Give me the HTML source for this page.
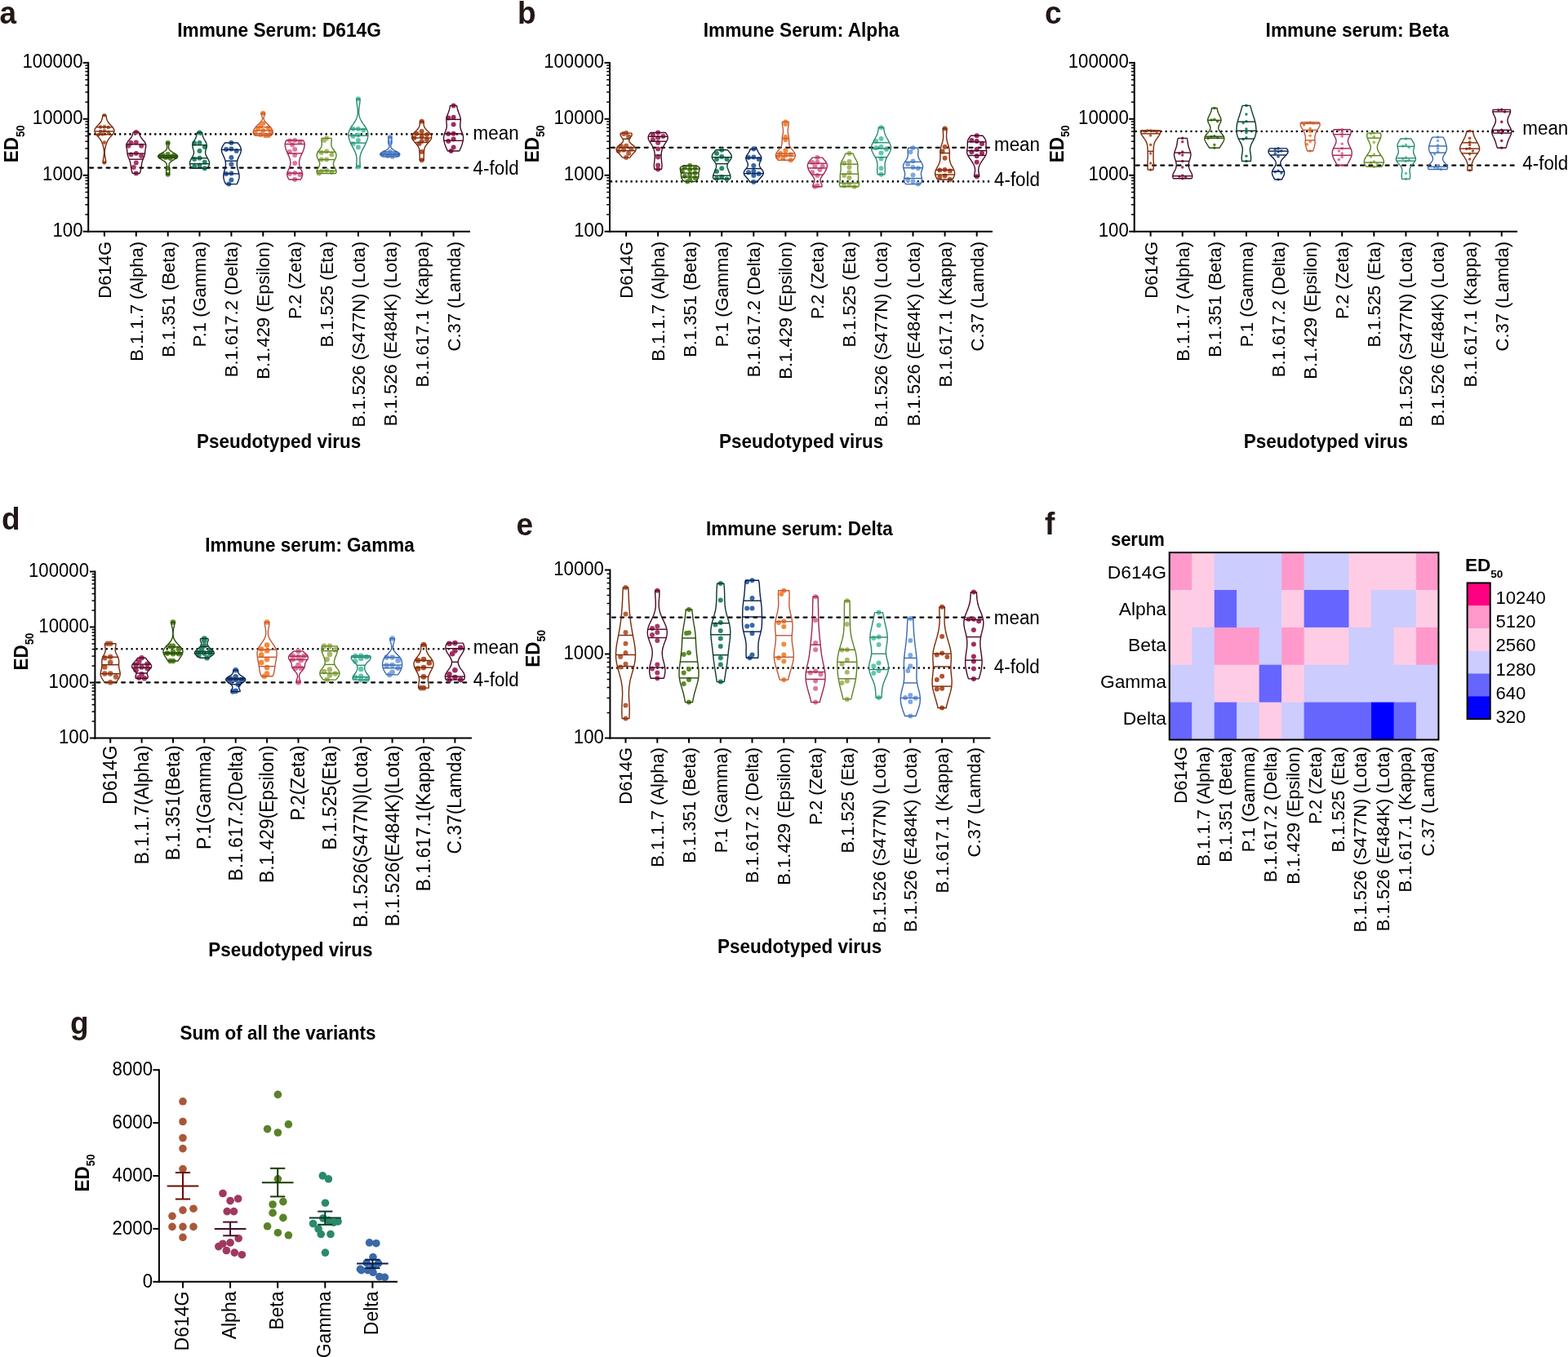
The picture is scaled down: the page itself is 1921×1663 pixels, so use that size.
<!DOCTYPE html>
<html><head><meta charset="utf-8"><title>Figure</title>
<style>html,body{margin:0;padding:0;background:#fff;}svg{display:block;filter:blur(0.35px);}
text{font-family:"Liberation Sans", Arial, Helvetica, sans-serif;}</style></head>
<body><svg width="1921" height="1663" viewBox="0 0 1921 1663">
<rect width="1921" height="1663" fill="#fff"/>
<text transform="translate(-0.5 29) scale(1 1.05)" font-size="37" font-weight="bold" fill="#231815">a</text>
<text transform="translate(342 44.6) scale(1 1.07)" font-size="22.7" font-weight="bold" text-anchor="middle">Immune Serum: D614G</text>
<line x1="108.2" y1="75.9" x2="108.2" y2="284.7" stroke="#000" stroke-width="2"/>
<line x1="107.2" y1="283.7" x2="576" y2="283.7" stroke="#000" stroke-width="2"/>
<line x1="101.7" y1="283.7" x2="108.2" y2="283.7" stroke="#000" stroke-width="2"/>
<text transform="translate(101.5 290.2) scale(1 1.05)" font-size="22.2" text-anchor="end">100</text>
<line x1="104.4" y1="262.9" x2="108.2" y2="262.9" stroke="#000" stroke-width="1.5"/>
<line x1="104.4" y1="250.8" x2="108.2" y2="250.8" stroke="#000" stroke-width="1.5"/>
<line x1="104.4" y1="242.2" x2="108.2" y2="242.2" stroke="#000" stroke-width="1.5"/>
<line x1="104.4" y1="235.5" x2="108.2" y2="235.5" stroke="#000" stroke-width="1.5"/>
<line x1="104.4" y1="230.1" x2="108.2" y2="230.1" stroke="#000" stroke-width="1.5"/>
<line x1="104.4" y1="225.4" x2="108.2" y2="225.4" stroke="#000" stroke-width="1.5"/>
<line x1="104.4" y1="221.4" x2="108.2" y2="221.4" stroke="#000" stroke-width="1.5"/>
<line x1="104.4" y1="217.9" x2="108.2" y2="217.9" stroke="#000" stroke-width="1.5"/>
<line x1="101.7" y1="214.8" x2="108.2" y2="214.8" stroke="#000" stroke-width="2"/>
<text transform="translate(101.5 221.3) scale(1 1.05)" font-size="22.2" text-anchor="end">1000</text>
<line x1="104.4" y1="194" x2="108.2" y2="194" stroke="#000" stroke-width="1.5"/>
<line x1="104.4" y1="181.9" x2="108.2" y2="181.9" stroke="#000" stroke-width="1.5"/>
<line x1="104.4" y1="173.3" x2="108.2" y2="173.3" stroke="#000" stroke-width="1.5"/>
<line x1="104.4" y1="166.6" x2="108.2" y2="166.6" stroke="#000" stroke-width="1.5"/>
<line x1="104.4" y1="161.1" x2="108.2" y2="161.1" stroke="#000" stroke-width="1.5"/>
<line x1="104.4" y1="156.5" x2="108.2" y2="156.5" stroke="#000" stroke-width="1.5"/>
<line x1="104.4" y1="152.5" x2="108.2" y2="152.5" stroke="#000" stroke-width="1.5"/>
<line x1="104.4" y1="149" x2="108.2" y2="149" stroke="#000" stroke-width="1.5"/>
<line x1="101.7" y1="145.8" x2="108.2" y2="145.8" stroke="#000" stroke-width="2"/>
<text transform="translate(101.5 152.3) scale(1 1.05)" font-size="22.2" text-anchor="end">10000</text>
<line x1="104.4" y1="125.1" x2="108.2" y2="125.1" stroke="#000" stroke-width="1.5"/>
<line x1="104.4" y1="112.9" x2="108.2" y2="112.9" stroke="#000" stroke-width="1.5"/>
<line x1="104.4" y1="104.3" x2="108.2" y2="104.3" stroke="#000" stroke-width="1.5"/>
<line x1="104.4" y1="97.7" x2="108.2" y2="97.7" stroke="#000" stroke-width="1.5"/>
<line x1="104.4" y1="92.2" x2="108.2" y2="92.2" stroke="#000" stroke-width="1.5"/>
<line x1="104.4" y1="87.6" x2="108.2" y2="87.6" stroke="#000" stroke-width="1.5"/>
<line x1="104.4" y1="83.6" x2="108.2" y2="83.6" stroke="#000" stroke-width="1.5"/>
<line x1="104.4" y1="80.1" x2="108.2" y2="80.1" stroke="#000" stroke-width="1.5"/>
<line x1="101.7" y1="76.9" x2="108.2" y2="76.9" stroke="#000" stroke-width="2"/>
<text transform="translate(101.5 83.4) scale(1 1.05)" font-size="22.2" text-anchor="end">100000</text>
<line x1="127.9" y1="283.7" x2="127.9" y2="289.7" stroke="#000" stroke-width="2"/>
<line x1="166.8" y1="283.7" x2="166.8" y2="289.7" stroke="#000" stroke-width="2"/>
<line x1="205.7" y1="283.7" x2="205.7" y2="289.7" stroke="#000" stroke-width="2"/>
<line x1="244.5" y1="283.7" x2="244.5" y2="289.7" stroke="#000" stroke-width="2"/>
<line x1="283.4" y1="283.7" x2="283.4" y2="289.7" stroke="#000" stroke-width="2"/>
<line x1="322.3" y1="283.7" x2="322.3" y2="289.7" stroke="#000" stroke-width="2"/>
<line x1="361.2" y1="283.7" x2="361.2" y2="289.7" stroke="#000" stroke-width="2"/>
<line x1="400.1" y1="283.7" x2="400.1" y2="289.7" stroke="#000" stroke-width="2"/>
<line x1="438.9" y1="283.7" x2="438.9" y2="289.7" stroke="#000" stroke-width="2"/>
<line x1="477.8" y1="283.7" x2="477.8" y2="289.7" stroke="#000" stroke-width="2"/>
<line x1="516.7" y1="283.7" x2="516.7" y2="289.7" stroke="#000" stroke-width="2"/>
<line x1="555.6" y1="283.7" x2="555.6" y2="289.7" stroke="#000" stroke-width="2"/>
<text transform="translate(135.8 296) rotate(-90) scale(1 1.04)" font-size="22" text-anchor="end">D614G</text>
<text transform="translate(174.7 296) rotate(-90) scale(1 1.04)" font-size="22" text-anchor="end">B.1.1.7 (Alpha)</text>
<text transform="translate(213.6 296) rotate(-90) scale(1 1.04)" font-size="22" text-anchor="end">B.1.351 (Beta)</text>
<text transform="translate(252.4 296) rotate(-90) scale(1 1.04)" font-size="22" text-anchor="end">P.1 (Gamma)</text>
<text transform="translate(291.3 296) rotate(-90) scale(1 1.04)" font-size="22" text-anchor="end">B.1.617.2 (Delta)</text>
<text transform="translate(330.2 296) rotate(-90) scale(1 1.04)" font-size="22" text-anchor="end">B.1.429 (Epsilon)</text>
<text transform="translate(369.1 296) rotate(-90) scale(1 1.04)" font-size="22" text-anchor="end">P.2 (Zeta)</text>
<text transform="translate(408 296) rotate(-90) scale(1 1.04)" font-size="22" text-anchor="end">B.1.525 (Eta)</text>
<text transform="translate(446.8 296) rotate(-90) scale(1 1.04)" font-size="22" text-anchor="end">B.1.526 (S477N) (Lota)</text>
<text transform="translate(485.7 296) rotate(-90) scale(1 1.04)" font-size="22" text-anchor="end">B.1.526 (E484K) (Lota)</text>
<text transform="translate(524.6 296) rotate(-90) scale(1 1.04)" font-size="22" text-anchor="end">B.1.617.1 (Kappa)</text>
<text transform="translate(563.5 296) rotate(-90) scale(1 1.04)" font-size="22" text-anchor="end">C.37 (Lamda)</text>
<text transform="translate(22.3 199.3) rotate(-90) scale(1 1.05)" font-size="22.5" font-weight="bold">ED<tspan font-size="13.2" dy="6.9">50</tspan></text>
<line x1="110.2" y1="164.4" x2="574" y2="164.4" stroke="#000" stroke-width="2.6" stroke-dasharray="0.01 6.15" stroke-linecap="round"/>
<line x1="110.2" y1="205.6" x2="574" y2="205.6" stroke="#000" stroke-width="2.3" stroke-dasharray="3.9 6.3" stroke-linecap="round"/>
<text transform="translate(579.6 171) scale(1 1.03)" font-size="22.4">mean</text>
<text transform="translate(579.6 213.6) scale(1 1.03)" font-size="22.4">4-fold</text>
<text transform="translate(341.6 548.8) scale(1 1.07)" font-size="22.5" font-weight="bold" text-anchor="middle">Pseudotyped virus</text>
<circle cx="127.9" cy="141.3" r="2.3" fill="#b8603c"/>
<circle cx="127.9" cy="155.4" r="2.3" fill="#b8603c"/>
<circle cx="123.1" cy="155.6" r="2.3" fill="#b8603c"/>
<circle cx="132.7" cy="156" r="2.3" fill="#b8603c"/>
<circle cx="127.9" cy="160.5" r="2.3" fill="#b8603c"/>
<circle cx="123.1" cy="161" r="2.3" fill="#b8603c"/>
<circle cx="132.7" cy="162" r="2.3" fill="#b8603c"/>
<circle cx="125.6" cy="164.5" r="2.3" fill="#b8603c"/>
<circle cx="120.8" cy="165" r="2.3" fill="#b8603c"/>
<circle cx="127.9" cy="174.6" r="2.3" fill="#b8603c"/>
<circle cx="127.9" cy="199.4" r="2.3" fill="#b8603c"/>
<polygon points="130,141.3 130.1,142.3 130.2,143.2 130.3,144.2 130.5,145.2 130.7,146.1 131.1,147.1 131.5,148.1 132.1,149 132.8,150 133.5,151 134.4,152 135.3,152.9 136.3,153.9 137.2,154.9 138,155.8 138.7,156.8 139.3,157.8 139.7,158.7 139.9,159.7 139.9,160.7 139.7,161.6 139.3,162.6 138.8,163.6 138.1,164.5 137.3,165.5 136.5,166.5 135.6,167.4 134.8,168.4 134,169.4 133.2,170.4 132.6,171.3 132,172.3 131.5,173.3 131.1,174.2 130.7,175.2 130.3,176.2 130,177.1 129.7,178.1 129.4,179.1 129.2,180 129,181 128.8,182 128.6,182.9 128.4,183.9 128.3,184.9 128.3,185.8 128.2,186.8 128.3,187.8 128.3,188.7 128.4,189.7 128.5,190.7 128.6,191.7 128.8,192.6 129,193.6 129.2,194.6 129.3,195.5 129.5,196.5 129.6,197.5 129.7,198.4 129.7,199.4 126.1,199.4 126.1,198.4 126.2,197.5 126.3,196.5 126.5,195.5 126.6,194.6 126.8,193.6 127,192.6 127.2,191.7 127.3,190.7 127.4,189.7 127.5,188.7 127.5,187.8 127.6,186.8 127.5,185.8 127.5,184.9 127.4,183.9 127.2,182.9 127,182 126.8,181 126.6,180 126.4,179.1 126.1,178.1 125.8,177.1 125.5,176.2 125.1,175.2 124.7,174.2 124.3,173.3 123.8,172.3 123.2,171.3 122.6,170.4 121.8,169.4 121,168.4 120.2,167.4 119.3,166.5 118.5,165.5 117.7,164.5 117,163.6 116.5,162.6 116.1,161.6 115.9,160.7 115.9,159.7 116.1,158.7 116.5,157.8 117.1,156.8 117.8,155.8 118.6,154.9 119.5,153.9 120.5,152.9 121.4,152 122.3,151 123,150 123.7,149 124.3,148.1 124.7,147.1 125.1,146.1 125.3,145.2 125.5,144.2 125.6,143.2 125.7,142.3 125.8,141.3" fill="none" stroke="#7a2a0a" stroke-width="1.4" stroke-linejoin="round"/>
<line x1="117.8" y1="155.8" x2="138" y2="155.8" stroke="#7a2a0a" stroke-width="1.4"/>
<line x1="116" y1="161" x2="139.8" y2="161" stroke="#7a2a0a" stroke-width="1.4"/>
<line x1="117.9" y1="164.8" x2="137.9" y2="164.8" stroke="#7a2a0a" stroke-width="1.4"/>
<circle cx="166.8" cy="161.9" r="3.0" fill="#a83868"/>
<circle cx="166.8" cy="174.4" r="3.0" fill="#a83868"/>
<circle cx="160.5" cy="175" r="3.0" fill="#a83868"/>
<circle cx="173.1" cy="178.8" r="3.0" fill="#a83868"/>
<circle cx="157.5" cy="178.8" r="3.0" fill="#a83868"/>
<circle cx="166.8" cy="188.1" r="3.0" fill="#a83868"/>
<circle cx="160.5" cy="189.4" r="3.0" fill="#a83868"/>
<circle cx="173.1" cy="191" r="3.0" fill="#a83868"/>
<circle cx="166.8" cy="199.4" r="3.0" fill="#a83868"/>
<circle cx="163.8" cy="205" r="3.0" fill="#a83868"/>
<circle cx="166.8" cy="212.5" r="3.0" fill="#a83868"/>
<polygon points="170.3,161.9 170.5,162.7 170.7,163.6 170.9,164.4 171.2,165.3 171.5,166.1 171.9,167 172.4,167.8 172.9,168.6 173.6,169.5 174.2,170.3 174.9,171.2 175.7,172 176.4,172.9 177,173.7 177.6,174.6 178.1,175.4 178.4,176.2 178.6,177.1 178.8,177.9 178.8,178.8 178.7,179.6 178.6,180.5 178.4,181.3 178.2,182.1 178.1,183 178,183.8 177.8,184.7 177.8,185.5 177.7,186.4 177.6,187.2 177.6,188 177.4,188.9 177.3,189.7 177.1,190.6 176.8,191.4 176.5,192.3 176.1,193.1 175.8,193.9 175.4,194.8 175.1,195.6 174.7,196.5 174.4,197.3 174.2,198.2 174,199 173.8,199.8 173.6,200.7 173.5,201.5 173.4,202.4 173.3,203.2 173.2,204.1 173,204.9 172.9,205.8 172.8,206.6 172.6,207.4 172.4,208.3 172.2,209.1 172,210 171.7,210.8 171.5,211.7 171.2,212.5 162.4,212.5 162.1,211.7 161.8,210.8 161.6,210 161.3,209.1 161.1,208.3 161,207.4 160.8,206.6 160.6,205.8 160.5,204.9 160.4,204.1 160.3,203.2 160.2,202.4 160.1,201.5 159.9,200.7 159.8,199.8 159.6,199 159.4,198.2 159.1,197.3 158.8,196.5 158.5,195.6 158.1,194.8 157.8,193.9 157.4,193.1 157.1,192.3 156.8,191.4 156.5,190.6 156.3,189.7 156.1,188.9 156,188 155.9,187.2 155.9,186.4 155.8,185.5 155.7,184.7 155.6,183.8 155.5,183 155.3,182.1 155.1,181.3 155,180.5 154.9,179.6 154.8,178.8 154.8,177.9 154.9,177.1 155.1,176.2 155.5,175.4 156,174.6 156.5,173.7 157.2,172.9 157.9,172 158.6,171.2 159.3,170.3 160,169.5 160.6,168.6 161.2,167.8 161.6,167 162,166.1 162.4,165.3 162.6,164.4 162.9,163.6 163.1,162.7 163.3,161.9" fill="none" stroke="#4a0a28" stroke-width="1.4" stroke-linejoin="round"/>
<line x1="155" y1="176.9" x2="178.6" y2="176.9" stroke="#4a0a28" stroke-width="1.4"/>
<line x1="156" y1="188.1" x2="177.5" y2="188.1" stroke="#4a0a28" stroke-width="1.4"/>
<line x1="158.3" y1="195.2" x2="175.2" y2="195.2" stroke="#4a0a28" stroke-width="1.4"/>
<circle cx="205.7" cy="175" r="3.0" fill="#5a8a28"/>
<circle cx="205.7" cy="189" r="3.0" fill="#5a8a28"/>
<circle cx="199.4" cy="190" r="3.0" fill="#5a8a28"/>
<circle cx="212" cy="191" r="3.0" fill="#5a8a28"/>
<circle cx="196.4" cy="191.5" r="3.0" fill="#5a8a28"/>
<circle cx="215" cy="192" r="3.0" fill="#5a8a28"/>
<circle cx="205.7" cy="192.5" r="3.0" fill="#5a8a28"/>
<circle cx="202.7" cy="193" r="3.0" fill="#5a8a28"/>
<circle cx="208.7" cy="194" r="3.0" fill="#5a8a28"/>
<circle cx="205.7" cy="206.3" r="3.0" fill="#5a8a28"/>
<circle cx="205.7" cy="213.8" r="3.0" fill="#5a8a28"/>
<polygon points="207.3,175 207.3,175.6 207.2,176.3 207.1,176.9 207,177.6 206.9,178.2 206.7,178.9 206.6,179.5 206.6,180.2 206.6,180.8 206.7,181.5 206.8,182.1 207.1,182.8 207.5,183.4 208.1,184.1 208.7,184.7 209.6,185.3 210.5,186 211.5,186.6 212.6,187.3 213.7,187.9 214.8,188.6 215.8,189.2 216.6,189.9 217.2,190.5 217.6,191.2 217.7,191.8 217.4,192.5 217,193.1 216.2,193.8 215.3,194.4 214.3,195 213.2,195.7 212.1,196.3 211,197 210,197.6 209.2,198.3 208.5,198.9 207.9,199.6 207.5,200.2 207.3,200.9 207.1,201.5 207.1,202.2 207.1,202.8 207.1,203.5 207.2,204.1 207.3,204.7 207.4,205.4 207.5,206 207.6,206.7 207.6,207.3 207.7,208 207.7,208.6 207.7,209.3 207.7,209.9 207.7,210.6 207.7,211.2 207.7,211.9 207.6,212.5 207.6,213.2 207.5,213.8 203.8,213.8 203.7,213.2 203.7,212.5 203.7,211.9 203.6,211.2 203.6,210.6 203.6,209.9 203.6,209.3 203.6,208.6 203.7,208 203.7,207.3 203.7,206.7 203.8,206 203.9,205.4 204,204.7 204.1,204.1 204.2,203.5 204.2,202.8 204.3,202.2 204.2,201.5 204,200.9 203.8,200.2 203.4,199.6 202.8,198.9 202.1,198.3 201.3,197.6 200.3,197 199.2,196.3 198.1,195.7 197,195 196,194.4 195.1,193.8 194.4,193.1 193.9,192.5 193.7,191.8 193.7,191.2 194.1,190.5 194.7,189.9 195.5,189.2 196.5,188.6 197.6,187.9 198.7,187.3 199.8,186.6 200.8,186 201.8,185.3 202.6,184.7 203.3,184.1 203.8,183.4 204.2,182.8 204.5,182.1 204.6,181.5 204.7,180.8 204.7,180.2 204.7,179.5 204.6,178.9 204.5,178.2 204.3,177.6 204.2,176.9 204.1,176.3 204.1,175.6 204,175" fill="none" stroke="#2a4a0a" stroke-width="1.4" stroke-linejoin="round"/>
<line x1="194.1" y1="190.5" x2="217.2" y2="190.5" stroke="#2a4a0a" stroke-width="1.4"/>
<line x1="193.7" y1="192" x2="217.6" y2="192" stroke="#2a4a0a" stroke-width="1.4"/>
<line x1="194.8" y1="193.5" x2="216.5" y2="193.5" stroke="#2a4a0a" stroke-width="1.4"/>
<circle cx="244.5" cy="162.5" r="3.0" fill="#2a8a68"/>
<circle cx="244.5" cy="175" r="3.0" fill="#2a8a68"/>
<circle cx="238.2" cy="175.6" r="3.0" fill="#2a8a68"/>
<circle cx="250.8" cy="180" r="3.0" fill="#2a8a68"/>
<circle cx="244.5" cy="185" r="3.0" fill="#2a8a68"/>
<circle cx="244.5" cy="193.8" r="3.0" fill="#2a8a68"/>
<circle cx="238.2" cy="195" r="3.0" fill="#2a8a68"/>
<circle cx="250.8" cy="198.8" r="3.0" fill="#2a8a68"/>
<circle cx="244.5" cy="202.5" r="3.0" fill="#2a8a68"/>
<circle cx="238.2" cy="204" r="3.0" fill="#2a8a68"/>
<circle cx="250.8" cy="206.3" r="3.0" fill="#2a8a68"/>
<polygon points="247.7,162.5 247.8,163.2 247.9,164 248,164.7 248.2,165.4 248.3,166.2 248.5,166.9 248.7,167.6 249,168.3 249.3,169.1 249.6,169.8 250,170.5 250.5,171.3 250.9,172 251.3,172.7 251.8,173.5 252.2,174.2 252.5,174.9 252.8,175.6 253,176.4 253.2,177.1 253.3,177.8 253.3,178.6 253.2,179.3 253.1,180 252.9,180.8 252.8,181.5 252.5,182.2 252.3,182.9 252.1,183.7 251.9,184.4 251.8,185.1 251.7,185.9 251.6,186.6 251.6,187.3 251.7,188.1 251.9,188.8 252.1,189.5 252.3,190.2 252.7,191 253,191.7 253.4,192.4 253.8,193.2 254.3,193.9 254.7,194.6 255.1,195.4 255.5,196.1 255.8,196.8 256.1,197.5 256.3,198.3 256.4,199 256.5,199.7 256.5,200.5 256.5,201.2 256.3,201.9 256.1,202.7 255.7,203.4 255.3,204.1 254.8,204.8 254.2,205.6 253.6,206.3 235.5,206.3 234.9,205.6 234.3,204.8 233.8,204.1 233.3,203.4 233,202.7 232.8,201.9 232.6,201.2 232.5,200.5 232.6,199.7 232.6,199 232.8,198.3 233,197.5 233.3,196.8 233.6,196.1 234,195.4 234.4,194.6 234.8,193.9 235.2,193.2 235.7,192.4 236,191.7 236.4,191 236.7,190.2 237,189.5 237.2,188.8 237.4,188.1 237.5,187.3 237.5,186.6 237.4,185.9 237.3,185.1 237.2,184.4 237,183.7 236.8,182.9 236.5,182.2 236.3,181.5 236.1,180.8 236,180 235.9,179.3 235.8,178.6 235.8,177.8 235.9,177.1 236.1,176.4 236.3,175.6 236.6,174.9 236.9,174.2 237.3,173.5 237.7,172.7 238.2,172 238.6,171.3 239,170.5 239.4,169.8 239.8,169.1 240.1,168.3 240.4,167.6 240.6,166.9 240.8,166.2 240.9,165.4 241.1,164.7 241.2,164 241.3,163.2 241.4,162.5" fill="none" stroke="#0a3a28" stroke-width="1.4" stroke-linejoin="round"/>
<line x1="235.8" y1="177.8" x2="253.3" y2="177.8" stroke="#0a3a28" stroke-width="1.4"/>
<line x1="234.9" y1="193.8" x2="254.2" y2="193.8" stroke="#0a3a28" stroke-width="1.4"/>
<line x1="232.6" y1="200.7" x2="256.5" y2="200.7" stroke="#0a3a28" stroke-width="1.4"/>
<circle cx="283.4" cy="175" r="3.0" fill="#3a68a8"/>
<circle cx="283.4" cy="182.5" r="3.0" fill="#3a68a8"/>
<circle cx="277.1" cy="183" r="3.0" fill="#3a68a8"/>
<circle cx="289.7" cy="185" r="3.0" fill="#3a68a8"/>
<circle cx="283.4" cy="193" r="3.0" fill="#3a68a8"/>
<circle cx="283.4" cy="201.3" r="3.0" fill="#3a68a8"/>
<circle cx="283.4" cy="212.5" r="3.0" fill="#3a68a8"/>
<circle cx="277.1" cy="213" r="3.0" fill="#3a68a8"/>
<circle cx="283.4" cy="220.6" r="3.0" fill="#3a68a8"/>
<circle cx="280.4" cy="225.6" r="3.0" fill="#3a68a8"/>
<polygon points="291.2,175 291.8,175.8 292.5,176.7 293.1,177.5 293.6,178.4 294.1,179.2 294.6,180.1 294.9,180.9 295.2,181.7 295.3,182.6 295.4,183.4 295.4,184.3 295.3,185.1 295.1,186 294.9,186.8 294.6,187.7 294.3,188.5 293.9,189.3 293.5,190.2 293.1,191 292.7,191.9 292.3,192.7 292,193.6 291.6,194.4 291.3,195.2 291.1,196.1 290.8,196.9 290.6,197.8 290.5,198.6 290.4,199.5 290.3,200.3 290.3,201.1 290.3,202 290.4,202.8 290.5,203.7 290.6,204.5 290.8,205.4 291,206.2 291.2,207 291.5,207.9 291.7,208.7 292,209.6 292.2,210.4 292.4,211.3 292.6,212.1 292.8,212.9 292.9,213.8 293,214.6 293.1,215.5 293.1,216.3 293,217.2 292.9,218 292.8,218.9 292.6,219.7 292.3,220.5 292.1,221.4 291.7,222.2 291.4,223.1 291,223.9 290.6,224.8 290.1,225.6 276.7,225.6 276.3,224.8 275.8,223.9 275.5,223.1 275.1,222.2 274.8,221.4 274.5,220.5 274.3,219.7 274.1,218.9 273.9,218 273.8,217.2 273.8,216.3 273.8,215.5 273.8,214.6 273.9,213.8 274,212.9 274.2,212.1 274.4,211.3 274.6,210.4 274.9,209.6 275.1,208.7 275.4,207.9 275.6,207 275.8,206.2 276,205.4 276.2,204.5 276.3,203.7 276.4,202.8 276.5,202 276.5,201.1 276.5,200.3 276.4,199.5 276.3,198.6 276.2,197.8 276,196.9 275.8,196.1 275.5,195.2 275.2,194.4 274.9,193.6 274.5,192.7 274.1,191.9 273.8,191 273.3,190.2 273,189.3 272.6,188.5 272.2,187.7 271.9,186.8 271.7,186 271.5,185.1 271.4,184.3 271.4,183.4 271.5,182.6 271.7,181.7 271.9,180.9 272.3,180.1 272.7,179.2 273.2,178.4 273.8,177.5 274.4,176.7 275,175.8 275.6,175" fill="none" stroke="#0a2050" stroke-width="1.4" stroke-linejoin="round"/>
<line x1="271.4" y1="183.5" x2="295.4" y2="183.5" stroke="#0a2050" stroke-width="1.4"/>
<line x1="276.1" y1="197.2" x2="290.8" y2="197.2" stroke="#0a2050" stroke-width="1.4"/>
<line x1="274.1" y1="212.9" x2="292.8" y2="212.9" stroke="#0a2050" stroke-width="1.4"/>
<circle cx="322.3" cy="138.8" r="3.0" fill="#f88838"/>
<circle cx="322.3" cy="151.3" r="3.0" fill="#f88838"/>
<circle cx="319.3" cy="154.4" r="3.0" fill="#f88838"/>
<circle cx="328.6" cy="156.9" r="3.0" fill="#f88838"/>
<circle cx="316" cy="158" r="3.0" fill="#f88838"/>
<circle cx="322.3" cy="160" r="3.0" fill="#f88838"/>
<circle cx="331.6" cy="161.3" r="3.0" fill="#f88838"/>
<circle cx="313" cy="163" r="3.0" fill="#f88838"/>
<circle cx="319.3" cy="165" r="3.0" fill="#f88838"/>
<circle cx="328.6" cy="166.3" r="3.0" fill="#f88838"/>
<circle cx="325.3" cy="166.3" r="3.0" fill="#f88838"/>
<polygon points="324.7,138.8 324.7,139.3 324.6,139.7 324.5,140.2 324.3,140.6 324.2,141.1 324,141.6 323.8,142 323.6,142.5 323.4,142.9 323.3,143.4 323.2,143.8 323.1,144.3 323,144.8 323,145.2 323.1,145.7 323.2,146.1 323.4,146.6 323.6,147.1 323.8,147.5 324.1,148 324.4,148.4 324.8,148.9 325.2,149.3 325.6,149.8 326,150.3 326.5,150.7 326.9,151.2 327.4,151.6 327.8,152.1 328.3,152.6 328.7,153 329.2,153.5 329.6,153.9 330,154.4 330.5,154.8 330.9,155.3 331.3,155.8 331.7,156.2 332,156.7 332.4,157.1 332.7,157.6 333,158.1 333.2,158.5 333.5,159 333.7,159.4 333.8,159.9 334,160.3 334.1,160.8 334.2,161.3 334.3,161.7 334.3,162.2 334.3,162.6 334.3,163.1 334.2,163.6 334,164 333.7,164.5 333.4,164.9 333,165.4 332.5,165.8 331.9,166.3 312.7,166.3 312.1,165.8 311.6,165.4 311.2,164.9 310.9,164.5 310.6,164 310.4,163.6 310.3,163.1 310.3,162.6 310.3,162.2 310.3,161.7 310.4,161.3 310.5,160.8 310.6,160.3 310.8,159.9 310.9,159.4 311.1,159 311.4,158.5 311.6,158.1 311.9,157.6 312.2,157.1 312.6,156.7 312.9,156.2 313.3,155.8 313.7,155.3 314.1,154.8 314.6,154.4 315,153.9 315.4,153.5 315.9,153 316.3,152.6 316.8,152.1 317.2,151.6 317.7,151.2 318.1,150.7 318.6,150.3 319,149.8 319.4,149.3 319.8,148.9 320.2,148.4 320.5,148 320.8,147.5 321,147.1 321.2,146.6 321.4,146.1 321.5,145.7 321.6,145.2 321.6,144.8 321.5,144.3 321.4,143.8 321.3,143.4 321.2,142.9 321,142.5 320.8,142 320.6,141.6 320.4,141.1 320.3,140.6 320.1,140.2 320,139.7 319.9,139.3 319.9,138.8" fill="none" stroke="#c05838" stroke-width="1.4" stroke-linejoin="round"/>
<line x1="313.4" y1="155.7" x2="331.2" y2="155.7" stroke="#c05838" stroke-width="1.4"/>
<line x1="310.7" y1="160" x2="333.9" y2="160" stroke="#c05838" stroke-width="1.4"/>
<line x1="310.6" y1="164" x2="334" y2="164" stroke="#c05838" stroke-width="1.4"/>
<circle cx="361.2" cy="172" r="3.0" fill="#e07898"/>
<circle cx="354.9" cy="172.5" r="3.0" fill="#e07898"/>
<circle cx="367.5" cy="174" r="3.0" fill="#e07898"/>
<circle cx="358.2" cy="177.5" r="3.0" fill="#e07898"/>
<circle cx="361.2" cy="183" r="3.0" fill="#e07898"/>
<circle cx="354.9" cy="186" r="3.0" fill="#e07898"/>
<circle cx="361.2" cy="190" r="3.0" fill="#e07898"/>
<circle cx="361.2" cy="200" r="3.0" fill="#e07898"/>
<circle cx="361.2" cy="212" r="3.0" fill="#e07898"/>
<circle cx="354.9" cy="213" r="3.0" fill="#e07898"/>
<circle cx="367.5" cy="214" r="3.0" fill="#e07898"/>
<circle cx="361.2" cy="220" r="3.0" fill="#e07898"/>
<polygon points="371.5,172 372,172.8 372.4,173.6 372.7,174.4 372.9,175.2 373.1,176 373.2,176.8 373.2,177.6 373.1,178.4 373,179.2 372.9,180 372.7,180.8 372.5,181.6 372.2,182.4 372,183.2 371.7,184 371.4,184.8 371.1,185.6 370.7,186.4 370.4,187.2 370,188 369.7,188.8 369.3,189.6 368.9,190.4 368.6,191.2 368.3,192 367.9,192.8 367.6,193.6 367.3,194.4 367.1,195.2 366.9,196 366.7,196.8 366.6,197.6 366.5,198.4 366.5,199.2 366.5,200 366.5,200.8 366.6,201.6 366.8,202.4 367,203.2 367.2,204 367.5,204.8 367.8,205.6 368.2,206.4 368.6,207.2 368.9,208 369.3,208.8 369.7,209.6 370,210.4 370.2,211.2 370.4,212 370.6,212.8 370.6,213.6 370.6,214.4 370.5,215.2 370.3,216 370,216.8 369.6,217.6 369.2,218.4 368.8,219.2 368.3,220 354.1,220 353.6,219.2 353.1,218.4 352.7,217.6 352.4,216.8 352.1,216 351.9,215.2 351.8,214.4 351.7,213.6 351.8,212.8 351.9,212 352.1,211.2 352.4,210.4 352.7,209.6 353.1,208.8 353.4,208 353.8,207.2 354.2,206.4 354.5,205.6 354.8,204.8 355.1,204 355.4,203.2 355.6,202.4 355.7,201.6 355.8,200.8 355.9,200 355.9,199.2 355.9,198.4 355.8,197.6 355.6,196.8 355.5,196 355.3,195.2 355,194.4 354.7,193.6 354.4,192.8 354.1,192 353.8,191.2 353.4,190.4 353.1,189.6 352.7,188.8 352.3,188 352,187.2 351.6,186.4 351.3,185.6 351,184.8 350.7,184 350.4,183.2 350.1,182.4 349.9,181.6 349.7,180.8 349.5,180 349.3,179.2 349.2,178.4 349.2,177.6 349.2,176.8 349.3,176 349.4,175.2 349.7,174.4 350,173.6 350.4,172.8 350.8,172" fill="none" stroke="#a0245a" stroke-width="1.4" stroke-linejoin="round"/>
<line x1="349.2" y1="176.6" x2="373.1" y2="176.6" stroke="#a0245a" stroke-width="1.4"/>
<line x1="352.3" y1="188" x2="370" y2="188" stroke="#a0245a" stroke-width="1.4"/>
<line x1="351.9" y1="212.2" x2="370.5" y2="212.2" stroke="#a0245a" stroke-width="1.4"/>
<circle cx="400.1" cy="169.4" r="3.0" fill="#aab868"/>
<circle cx="397.1" cy="172" r="3.0" fill="#aab868"/>
<circle cx="400.1" cy="185.6" r="3.0" fill="#aab868"/>
<circle cx="393.8" cy="187" r="3.0" fill="#aab868"/>
<circle cx="406.4" cy="189.4" r="3.0" fill="#aab868"/>
<circle cx="400.1" cy="195.6" r="3.0" fill="#aab868"/>
<circle cx="393.8" cy="195.6" r="3.0" fill="#aab868"/>
<circle cx="400.1" cy="208.8" r="3.0" fill="#aab868"/>
<circle cx="393.8" cy="210" r="3.0" fill="#aab868"/>
<circle cx="406.4" cy="211" r="3.0" fill="#aab868"/>
<circle cx="390.8" cy="212.5" r="3.0" fill="#aab868"/>
<polygon points="405.9,169.4 406.1,170.1 406.2,170.8 406.2,171.6 406.2,172.3 406.1,173 406.1,173.7 406,174.4 405.9,175.1 405.8,175.9 405.8,176.6 405.8,177.3 405.9,178 406,178.7 406.3,179.5 406.6,180.2 407,180.9 407.4,181.6 407.9,182.3 408.4,183 408.9,183.8 409.5,184.5 410,185.2 410.5,185.9 410.9,186.6 411.3,187.4 411.6,188.1 411.8,188.8 411.9,189.5 412,190.2 412,190.9 411.9,191.7 411.7,192.4 411.4,193.1 411.2,193.8 410.8,194.5 410.5,195.3 410.1,196 409.7,196.7 409.3,197.4 409,198.1 408.8,198.9 408.5,199.6 408.4,200.3 408.4,201 408.4,201.7 408.6,202.4 408.8,203.2 409.2,203.9 409.5,204.6 410,205.3 410.4,206 410.9,206.8 411.3,207.5 411.6,208.2 411.9,208.9 412,209.6 412.1,210.3 411.9,211.1 411.7,211.8 411.3,212.5 388.8,212.5 388.4,211.8 388.2,211.1 388.1,210.3 388.1,209.6 388.2,208.9 388.5,208.2 388.8,207.5 389.2,206.8 389.7,206 390.1,205.3 390.6,204.6 391,203.9 391.3,203.2 391.5,202.4 391.7,201.7 391.7,201 391.7,200.3 391.6,199.6 391.4,198.9 391.1,198.1 390.8,197.4 390.4,196.7 390,196 389.7,195.3 389.3,194.5 389,193.8 388.7,193.1 388.4,192.4 388.3,191.7 388.2,190.9 388.1,190.2 388.2,189.5 388.3,188.8 388.6,188.1 388.8,187.4 389.2,186.6 389.6,185.9 390.1,185.2 390.6,184.5 391.2,183.8 391.7,183 392.2,182.3 392.7,181.6 393.2,180.9 393.5,180.2 393.8,179.5 394.1,178.7 394.2,178 394.3,177.3 394.3,176.6 394.3,175.9 394.2,175.1 394.2,174.4 394.1,173.7 394,173 393.9,172.3 393.9,171.6 393.9,170.8 394,170.1 394.2,169.4" fill="none" stroke="#5a8420" stroke-width="1.4" stroke-linejoin="round"/>
<line x1="389.4" y1="186.3" x2="410.7" y2="186.3" stroke="#5a8420" stroke-width="1.4"/>
<line x1="389.8" y1="195.6" x2="410.3" y2="195.6" stroke="#5a8420" stroke-width="1.4"/>
<line x1="388.1" y1="209.4" x2="412" y2="209.4" stroke="#5a8420" stroke-width="1.4"/>
<circle cx="438.9" cy="121.3" r="3.0" fill="#60c8b0"/>
<circle cx="438.9" cy="158" r="3.0" fill="#60c8b0"/>
<circle cx="432.6" cy="158" r="3.0" fill="#60c8b0"/>
<circle cx="445.2" cy="159.4" r="3.0" fill="#60c8b0"/>
<circle cx="438.9" cy="165.6" r="3.0" fill="#60c8b0"/>
<circle cx="432.6" cy="166.9" r="3.0" fill="#60c8b0"/>
<circle cx="438.9" cy="171.9" r="3.0" fill="#60c8b0"/>
<circle cx="432.6" cy="176.3" r="3.0" fill="#60c8b0"/>
<circle cx="438.9" cy="180.6" r="3.0" fill="#60c8b0"/>
<circle cx="438.9" cy="204.4" r="3.0" fill="#60c8b0"/>
<polygon points="441.1,121.3 441.1,122.7 441,124.1 440.9,125.5 440.7,126.8 440.5,128.2 440.3,129.6 440.1,131 439.9,132.4 439.8,133.8 439.7,135.2 439.6,136.5 439.6,137.9 439.7,139.3 439.9,140.7 440.1,142.1 440.5,143.5 441,144.8 441.6,146.2 442.3,147.6 443.1,149 444,150.4 444.9,151.8 445.9,153.2 446.8,154.5 447.8,155.9 448.6,157.3 449.4,158.7 450,160.1 450.4,161.5 450.7,162.8 450.9,164.2 450.9,165.6 450.8,167 450.6,168.4 450.3,169.8 449.9,171.2 449.4,172.5 448.9,173.9 448.3,175.3 447.6,176.7 446.9,178.1 446.2,179.5 445.5,180.9 444.8,182.2 444,183.6 443.4,185 442.8,186.4 442.2,187.8 441.8,189.2 441.4,190.6 441.1,191.9 441,193.3 440.9,194.7 440.9,196.1 440.9,197.5 441,198.9 441.1,200.2 441.1,201.6 441.2,203 441.2,204.4 436.7,204.4 436.7,203 436.7,201.6 436.8,200.2 436.9,198.9 437,197.5 437,196.1 437,194.7 436.9,193.3 436.7,191.9 436.5,190.6 436.1,189.2 435.7,187.8 435.1,186.4 434.5,185 433.8,183.6 433.1,182.2 432.4,180.9 431.7,179.5 430.9,178.1 430.2,176.7 429.6,175.3 429,173.9 428.5,172.5 428,171.2 427.6,169.8 427.3,168.4 427,167 426.9,165.6 427,164.2 427.1,162.8 427.4,161.5 427.9,160.1 428.5,158.7 429.3,157.3 430.1,155.9 431,154.5 432,153.2 433,151.8 433.9,150.4 434.8,149 435.6,147.6 436.3,146.2 436.9,144.8 437.4,143.5 437.7,142.1 438,140.7 438.2,139.3 438.3,137.9 438.3,136.5 438.2,135.2 438.1,133.8 438,132.4 437.8,131 437.6,129.6 437.4,128.2 437.2,126.8 437,125.5 436.9,124.1 436.8,122.7 436.8,121.3" fill="none" stroke="#2a8a70" stroke-width="1.4" stroke-linejoin="round"/>
<line x1="428.7" y1="158.3" x2="449.2" y2="158.3" stroke="#2a8a70" stroke-width="1.4"/>
<line x1="427" y1="166.2" x2="450.9" y2="166.2" stroke="#2a8a70" stroke-width="1.4"/>
<line x1="429.5" y1="175.2" x2="448.3" y2="175.2" stroke="#2a8a70" stroke-width="1.4"/>
<circle cx="477.8" cy="168" r="3.0" fill="#80a8e0"/>
<circle cx="477.8" cy="174.4" r="3.0" fill="#80a8e0"/>
<circle cx="477.8" cy="186" r="3.0" fill="#80a8e0"/>
<circle cx="471.5" cy="187" r="3.0" fill="#80a8e0"/>
<circle cx="484.1" cy="188" r="3.0" fill="#80a8e0"/>
<circle cx="468.5" cy="189" r="3.0" fill="#80a8e0"/>
<circle cx="477.8" cy="189.5" r="3.0" fill="#80a8e0"/>
<circle cx="487.1" cy="190" r="3.0" fill="#80a8e0"/>
<circle cx="474.8" cy="191" r="3.0" fill="#80a8e0"/>
<circle cx="480.8" cy="192" r="3.0" fill="#80a8e0"/>
<polygon points="479.8,168 479.9,168.4 479.9,168.8 479.9,169.2 479.9,169.6 479.9,170 479.9,170.4 479.9,170.8 479.9,171.2 479.9,171.6 479.9,172 479.9,172.4 479.9,172.8 479.9,173.2 479.9,173.6 479.9,174 479.8,174.4 479.7,174.8 479.7,175.2 479.6,175.6 479.5,176 479.3,176.4 479.2,176.8 479.1,177.2 479,177.6 478.9,178 478.8,178.4 478.7,178.8 478.7,179.2 478.7,179.6 478.8,180 478.9,180.4 479,180.8 479.3,181.2 479.5,181.6 479.9,182 480.3,182.4 480.8,182.8 481.3,183.2 481.9,183.6 482.6,184 483.3,184.4 484.1,184.8 484.8,185.2 485.6,185.6 486.4,186 487.1,186.4 487.8,186.8 488.4,187.2 488.9,187.6 489.3,188 489.6,188.4 489.8,188.8 489.8,189.2 489.7,189.6 489.5,190 489.1,190.4 488.7,190.8 488.1,191.2 487.4,191.6 486.7,192 468.9,192 468.2,191.6 467.6,191.2 467,190.8 466.5,190.4 466.2,190 465.9,189.6 465.8,189.2 465.9,188.8 466,188.4 466.3,188 466.7,187.6 467.2,187.2 467.9,186.8 468.5,186.4 469.3,186 470,185.6 470.8,185.2 471.6,184.8 472.3,184.4 473,184 473.7,183.6 474.3,183.2 474.9,182.8 475.3,182.4 475.8,182 476.1,181.6 476.4,181.2 476.6,180.8 476.8,180.4 476.9,180 476.9,179.6 476.9,179.2 476.9,178.8 476.8,178.4 476.8,178 476.7,177.6 476.5,177.2 476.4,176.8 476.3,176.4 476.2,176 476.1,175.6 476,175.2 475.9,174.8 475.8,174.4 475.8,174 475.7,173.6 475.7,173.2 475.7,172.8 475.7,172.4 475.7,172 475.7,171.6 475.7,171.2 475.7,170.8 475.7,170.4 475.7,170 475.7,169.6 475.7,169.2 475.7,168.8 475.8,168.4 475.8,168" fill="none" stroke="#3868b0" stroke-width="1.4" stroke-linejoin="round"/>
<line x1="468.8" y1="186.2" x2="486.8" y2="186.2" stroke="#3868b0" stroke-width="1.4"/>
<line x1="466" y1="188.5" x2="489.7" y2="188.5" stroke="#3868b0" stroke-width="1.4"/>
<line x1="466.1" y1="189.9" x2="489.6" y2="189.9" stroke="#3868b0" stroke-width="1.4"/>
<circle cx="516.7" cy="148.8" r="3.0" fill="#b05430"/>
<circle cx="516.7" cy="161" r="3.0" fill="#b05430"/>
<circle cx="510.4" cy="163.8" r="3.0" fill="#b05430"/>
<circle cx="523" cy="165" r="3.0" fill="#b05430"/>
<circle cx="516.7" cy="167" r="3.0" fill="#b05430"/>
<circle cx="507.4" cy="169" r="3.0" fill="#b05430"/>
<circle cx="523" cy="171" r="3.0" fill="#b05430"/>
<circle cx="516.7" cy="173" r="3.0" fill="#b05430"/>
<circle cx="513.7" cy="176" r="3.0" fill="#b05430"/>
<circle cx="516.7" cy="186" r="3.0" fill="#b05430"/>
<circle cx="516.7" cy="196.3" r="3.0" fill="#b05430"/>
<polygon points="519,148.8 519,149.6 519.1,150.4 519.1,151.2 519.1,152 519.1,152.8 519.2,153.6 519.4,154.3 519.7,155.1 520,155.9 520.5,156.7 521.1,157.5 521.7,158.3 522.5,159.1 523.2,159.9 524.1,160.7 524.9,161.5 525.7,162.3 526.4,163.1 527.1,163.8 527.6,164.6 528.1,165.4 528.4,166.2 528.6,167 528.7,167.8 528.6,168.6 528.5,169.4 528.2,170.2 527.8,171 527.3,171.8 526.7,172.6 526.1,173.3 525.4,174.1 524.7,174.9 524,175.7 523.3,176.5 522.6,177.3 522,178.1 521.5,178.9 521,179.7 520.6,180.5 520.3,181.3 520,182.1 519.8,182.8 519.7,183.6 519.6,184.4 519.5,185.2 519.5,186 519.4,186.8 519.4,187.6 519.3,188.4 519.3,189.2 519.3,190 519.2,190.8 519.2,191.6 519.2,192.3 519.2,193.1 519.2,193.9 519.2,194.7 519.2,195.5 519.1,196.3 514.3,196.3 514.2,195.5 514.2,194.7 514.2,193.9 514.2,193.1 514.2,192.3 514.2,191.6 514.2,190.8 514.1,190 514.1,189.2 514.1,188.4 514,187.6 514,186.8 513.9,186 513.9,185.2 513.8,184.4 513.7,183.6 513.6,182.8 513.4,182.1 513.1,181.3 512.8,180.5 512.4,179.7 511.9,178.9 511.4,178.1 510.8,177.3 510.1,176.5 509.4,175.7 508.7,174.9 508,174.1 507.3,173.3 506.7,172.6 506.1,171.8 505.6,171 505.2,170.2 504.9,169.4 504.8,168.6 504.7,167.8 504.8,167 505,166.2 505.3,165.4 505.8,164.6 506.3,163.8 507,163.1 507.7,162.3 508.5,161.5 509.3,160.7 510.2,159.9 510.9,159.1 511.7,158.3 512.3,157.5 512.9,156.7 513.4,155.9 513.7,155.1 514,154.3 514.2,153.6 514.3,152.8 514.3,152 514.3,151.2 514.3,150.4 514.4,149.6 514.4,148.8" fill="none" stroke="#7a2808" stroke-width="1.4" stroke-linejoin="round"/>
<line x1="505.9" y1="164.4" x2="527.5" y2="164.4" stroke="#7a2808" stroke-width="1.4"/>
<line x1="504.8" y1="169" x2="528.6" y2="169" stroke="#7a2808" stroke-width="1.4"/>
<line x1="508.3" y1="174.5" x2="525.1" y2="174.5" stroke="#7a2808" stroke-width="1.4"/>
<circle cx="555.6" cy="129.4" r="3.0" fill="#a02c60"/>
<circle cx="555.6" cy="143.8" r="3.0" fill="#a02c60"/>
<circle cx="549.3" cy="144.4" r="3.0" fill="#a02c60"/>
<circle cx="555.6" cy="152.5" r="3.0" fill="#a02c60"/>
<circle cx="555.6" cy="163.8" r="3.0" fill="#a02c60"/>
<circle cx="549.3" cy="164" r="3.0" fill="#a02c60"/>
<circle cx="555.6" cy="170.6" r="3.0" fill="#a02c60"/>
<circle cx="549.3" cy="173" r="3.0" fill="#a02c60"/>
<circle cx="555.6" cy="180.6" r="3.0" fill="#a02c60"/>
<circle cx="552.6" cy="185" r="3.0" fill="#a02c60"/>
<polygon points="559.5,129.4 559.7,130.3 559.9,131.3 560.1,132.2 560.4,133.1 560.6,134 560.9,135 561.1,135.9 561.5,136.8 561.8,137.7 562.2,138.7 562.5,139.6 562.9,140.5 563.2,141.4 563.5,142.4 563.8,143.3 564,144.2 564.2,145.2 564.3,146.1 564.3,147 564.3,147.9 564.2,148.9 564.1,149.8 564,150.7 563.9,151.6 563.9,152.6 563.8,153.5 563.8,154.4 563.9,155.3 564,156.3 564.2,157.2 564.4,158.1 564.7,159.1 565.1,160 565.4,160.9 565.8,161.8 566.2,162.8 566.5,163.7 566.8,164.6 567.1,165.5 567.3,166.5 567.5,167.4 567.6,168.3 567.6,169.2 567.5,170.2 567.5,171.1 567.3,172 567.1,173 566.9,173.9 566.7,174.8 566.4,175.7 566.1,176.7 565.8,177.6 565.5,178.5 565.2,179.4 564.8,180.4 564.4,181.3 564,182.2 563.6,183.1 563.1,184.1 562.6,185 548.6,185 548,184.1 547.6,183.1 547.1,182.2 546.7,181.3 546.3,180.4 546,179.4 545.6,178.5 545.3,177.6 545,176.7 544.7,175.7 544.5,174.8 544.2,173.9 544,173 543.8,172 543.7,171.1 543.6,170.2 543.6,169.2 543.6,168.3 543.7,167.4 543.9,166.5 544.1,165.5 544.3,164.6 544.6,163.7 545,162.8 545.4,161.8 545.7,160.9 546.1,160 546.4,159.1 546.7,158.1 547,157.2 547.1,156.3 547.3,155.3 547.3,154.4 547.3,153.5 547.3,152.6 547.2,151.6 547.1,150.7 547,149.8 547,148.9 546.9,147.9 546.9,147 546.9,146.1 547,145.2 547.2,144.2 547.4,143.3 547.6,142.4 547.9,141.4 548.3,140.5 548.6,139.6 549,138.7 549.4,137.7 549.7,136.8 550,135.9 550.3,135 550.6,134 550.8,133.1 551,132.2 551.2,131.3 551.4,130.3 551.6,129.4" fill="none" stroke="#4a0828" stroke-width="1.4" stroke-linejoin="round"/>
<line x1="546.9" y1="146.4" x2="564.3" y2="146.4" stroke="#4a0828" stroke-width="1.4"/>
<line x1="544.6" y1="163.9" x2="566.6" y2="163.9" stroke="#4a0828" stroke-width="1.4"/>
<line x1="543.9" y1="172.4" x2="567.3" y2="172.4" stroke="#4a0828" stroke-width="1.4"/>
<text transform="translate(634 29) scale(1 1.05)" font-size="37" font-weight="bold" fill="#231815">b</text>
<text transform="translate(981.7 44.6) scale(1 1.07)" font-size="22.7" font-weight="bold" text-anchor="middle">Immune Serum: Alpha</text>
<line x1="747" y1="75.9" x2="747" y2="284.7" stroke="#000" stroke-width="2"/>
<line x1="746" y1="283.7" x2="1216" y2="283.7" stroke="#000" stroke-width="2"/>
<line x1="740.5" y1="283.7" x2="747" y2="283.7" stroke="#000" stroke-width="2"/>
<text transform="translate(740.2 290.2) scale(1 1.05)" font-size="22.2" text-anchor="end">100</text>
<line x1="743.2" y1="262.9" x2="747" y2="262.9" stroke="#000" stroke-width="1.5"/>
<line x1="743.2" y1="250.8" x2="747" y2="250.8" stroke="#000" stroke-width="1.5"/>
<line x1="743.2" y1="242.2" x2="747" y2="242.2" stroke="#000" stroke-width="1.5"/>
<line x1="743.2" y1="235.5" x2="747" y2="235.5" stroke="#000" stroke-width="1.5"/>
<line x1="743.2" y1="230.1" x2="747" y2="230.1" stroke="#000" stroke-width="1.5"/>
<line x1="743.2" y1="225.4" x2="747" y2="225.4" stroke="#000" stroke-width="1.5"/>
<line x1="743.2" y1="221.4" x2="747" y2="221.4" stroke="#000" stroke-width="1.5"/>
<line x1="743.2" y1="217.9" x2="747" y2="217.9" stroke="#000" stroke-width="1.5"/>
<line x1="740.5" y1="214.8" x2="747" y2="214.8" stroke="#000" stroke-width="2"/>
<text transform="translate(740.2 221.3) scale(1 1.05)" font-size="22.2" text-anchor="end">1000</text>
<line x1="743.2" y1="194" x2="747" y2="194" stroke="#000" stroke-width="1.5"/>
<line x1="743.2" y1="181.9" x2="747" y2="181.9" stroke="#000" stroke-width="1.5"/>
<line x1="743.2" y1="173.3" x2="747" y2="173.3" stroke="#000" stroke-width="1.5"/>
<line x1="743.2" y1="166.6" x2="747" y2="166.6" stroke="#000" stroke-width="1.5"/>
<line x1="743.2" y1="161.1" x2="747" y2="161.1" stroke="#000" stroke-width="1.5"/>
<line x1="743.2" y1="156.5" x2="747" y2="156.5" stroke="#000" stroke-width="1.5"/>
<line x1="743.2" y1="152.5" x2="747" y2="152.5" stroke="#000" stroke-width="1.5"/>
<line x1="743.2" y1="149" x2="747" y2="149" stroke="#000" stroke-width="1.5"/>
<line x1="740.5" y1="145.8" x2="747" y2="145.8" stroke="#000" stroke-width="2"/>
<text transform="translate(740.2 152.3) scale(1 1.05)" font-size="22.2" text-anchor="end">10000</text>
<line x1="743.2" y1="125.1" x2="747" y2="125.1" stroke="#000" stroke-width="1.5"/>
<line x1="743.2" y1="112.9" x2="747" y2="112.9" stroke="#000" stroke-width="1.5"/>
<line x1="743.2" y1="104.3" x2="747" y2="104.3" stroke="#000" stroke-width="1.5"/>
<line x1="743.2" y1="97.7" x2="747" y2="97.7" stroke="#000" stroke-width="1.5"/>
<line x1="743.2" y1="92.2" x2="747" y2="92.2" stroke="#000" stroke-width="1.5"/>
<line x1="743.2" y1="87.6" x2="747" y2="87.6" stroke="#000" stroke-width="1.5"/>
<line x1="743.2" y1="83.6" x2="747" y2="83.6" stroke="#000" stroke-width="1.5"/>
<line x1="743.2" y1="80.1" x2="747" y2="80.1" stroke="#000" stroke-width="1.5"/>
<line x1="740.5" y1="76.9" x2="747" y2="76.9" stroke="#000" stroke-width="2"/>
<text transform="translate(740.2 83.4) scale(1 1.05)" font-size="22.2" text-anchor="end">100000</text>
<line x1="767.1" y1="283.7" x2="767.1" y2="289.7" stroke="#000" stroke-width="2"/>
<line x1="806.1" y1="283.7" x2="806.1" y2="289.7" stroke="#000" stroke-width="2"/>
<line x1="845.2" y1="283.7" x2="845.2" y2="289.7" stroke="#000" stroke-width="2"/>
<line x1="884.2" y1="283.7" x2="884.2" y2="289.7" stroke="#000" stroke-width="2"/>
<line x1="923.3" y1="283.7" x2="923.3" y2="289.7" stroke="#000" stroke-width="2"/>
<line x1="962.4" y1="283.7" x2="962.4" y2="289.7" stroke="#000" stroke-width="2"/>
<line x1="1001.4" y1="283.7" x2="1001.4" y2="289.7" stroke="#000" stroke-width="2"/>
<line x1="1040.5" y1="283.7" x2="1040.5" y2="289.7" stroke="#000" stroke-width="2"/>
<line x1="1079.5" y1="283.7" x2="1079.5" y2="289.7" stroke="#000" stroke-width="2"/>
<line x1="1118.5" y1="283.7" x2="1118.5" y2="289.7" stroke="#000" stroke-width="2"/>
<line x1="1157.6" y1="283.7" x2="1157.6" y2="289.7" stroke="#000" stroke-width="2"/>
<line x1="1196.7" y1="283.7" x2="1196.7" y2="289.7" stroke="#000" stroke-width="2"/>
<text transform="translate(775 296) rotate(-90) scale(1 1.04)" font-size="22" text-anchor="end">D614G</text>
<text transform="translate(814 296) rotate(-90) scale(1 1.04)" font-size="22" text-anchor="end">B.1.1.7 (Alpha)</text>
<text transform="translate(853.1 296) rotate(-90) scale(1 1.04)" font-size="22" text-anchor="end">B.1.351 (Beta)</text>
<text transform="translate(892.1 296) rotate(-90) scale(1 1.04)" font-size="22" text-anchor="end">P.1 (Gamma)</text>
<text transform="translate(931.2 296) rotate(-90) scale(1 1.04)" font-size="22" text-anchor="end">B.1.617.2 (Delta)</text>
<text transform="translate(970.2 296) rotate(-90) scale(1 1.04)" font-size="22" text-anchor="end">B.1.429 (Epsilon)</text>
<text transform="translate(1009.3 296) rotate(-90) scale(1 1.04)" font-size="22" text-anchor="end">P.2 (Zeta)</text>
<text transform="translate(1048.4 296) rotate(-90) scale(1 1.04)" font-size="22" text-anchor="end">B.1.525 (Eta)</text>
<text transform="translate(1087.4 296) rotate(-90) scale(1 1.04)" font-size="22" text-anchor="end">B.1.526 (S477N) (Lota)</text>
<text transform="translate(1126.5 296) rotate(-90) scale(1 1.04)" font-size="22" text-anchor="end">B.1.526 (E484K) (Lota)</text>
<text transform="translate(1165.5 296) rotate(-90) scale(1 1.04)" font-size="22" text-anchor="end">B.1.617.1 (Kappa)</text>
<text transform="translate(1204.6 296) rotate(-90) scale(1 1.04)" font-size="22" text-anchor="end">C.37 (Lamda)</text>
<text transform="translate(660 199.3) rotate(-90) scale(1 1.05)" font-size="22.5" font-weight="bold">ED<tspan font-size="13.2" dy="6.9">50</tspan></text>
<line x1="749" y1="180.8" x2="1214" y2="180.8" stroke="#000" stroke-width="2.3" stroke-dasharray="3.9 6.3" stroke-linecap="round"/>
<line x1="749" y1="222.4" x2="1214" y2="222.4" stroke="#000" stroke-width="2.6" stroke-dasharray="0.01 6.15" stroke-linecap="round"/>
<text transform="translate(1218 184.8) scale(1 1.03)" font-size="22.4">mean</text>
<text transform="translate(1218 227.7) scale(1 1.03)" font-size="22.4">4-fold</text>
<text transform="translate(981.6 548.8) scale(1 1.07)" font-size="22.5" font-weight="bold" text-anchor="middle">Pseudotyped virus</text>
<circle cx="767.1" cy="163.1" r="3.0" fill="#b8603c"/>
<circle cx="764.1" cy="164" r="3.0" fill="#b8603c"/>
<circle cx="770.1" cy="167.5" r="3.0" fill="#b8603c"/>
<circle cx="767.1" cy="178.8" r="3.0" fill="#b8603c"/>
<circle cx="760.8" cy="179" r="3.0" fill="#b8603c"/>
<circle cx="773.4" cy="182.5" r="3.0" fill="#b8603c"/>
<circle cx="764.1" cy="183.8" r="3.0" fill="#b8603c"/>
<circle cx="757.8" cy="185" r="3.0" fill="#b8603c"/>
<circle cx="770.1" cy="188" r="3.0" fill="#b8603c"/>
<circle cx="767.1" cy="193.1" r="3.0" fill="#b8603c"/>
<polygon points="773.7,163.1 773.9,163.6 774.1,164.1 774.1,164.6 774.1,165.1 774,165.6 773.9,166.1 773.6,166.6 773.4,167.1 773,167.6 772.7,168.1 772.3,168.6 772,169.1 771.6,169.6 771.3,170.1 771.1,170.6 770.9,171.1 770.7,171.6 770.7,172.1 770.7,172.6 770.8,173.1 771,173.6 771.3,174.1 771.6,174.6 772.1,175.1 772.6,175.6 773.1,176.1 773.7,176.6 774.3,177.1 775,177.6 775.6,178.1 776.2,178.6 776.8,179.1 777.3,179.6 777.8,180.1 778.2,180.6 778.5,181.1 778.8,181.6 779,182.1 779.1,182.6 779.1,183.1 779,183.6 778.9,184.1 778.7,184.6 778.4,185.1 778.1,185.6 777.7,186.1 777.3,186.6 776.8,187.1 776.4,187.6 775.9,188.1 775.4,188.6 774.9,189.1 774.5,189.6 774,190.1 773.6,190.6 773.2,191.1 772.8,191.6 772.4,192.1 772,192.6 771.6,193.1 762.6,193.1 762.2,192.6 761.8,192.1 761.4,191.6 761,191.1 760.6,190.6 760.2,190.1 759.7,189.6 759.3,189.1 758.8,188.6 758.3,188.1 757.8,187.6 757.4,187.1 756.9,186.6 756.5,186.1 756.1,185.6 755.8,185.1 755.5,184.6 755.3,184.1 755.2,183.6 755.1,183.1 755.1,182.6 755.2,182.1 755.4,181.6 755.7,181.1 756,180.6 756.4,180.1 756.9,179.6 757.4,179.1 758,178.6 758.6,178.1 759.2,177.6 759.9,177.1 760.5,176.6 761.1,176.1 761.6,175.6 762.1,175.1 762.6,174.6 762.9,174.1 763.2,173.6 763.4,173.1 763.5,172.6 763.5,172.1 763.5,171.6 763.3,171.1 763.1,170.6 762.9,170.1 762.6,169.6 762.2,169.1 761.9,168.6 761.5,168.1 761.2,167.6 760.8,167.1 760.6,166.6 760.3,166.1 760.2,165.6 760.1,165.1 760.1,164.6 760.1,164.1 760.3,163.6 760.5,163.1" fill="none" stroke="#7a2a0a" stroke-width="1.4" stroke-linejoin="round"/>
<line x1="763" y1="170.3" x2="771.2" y2="170.3" stroke="#7a2a0a" stroke-width="1.4"/>
<line x1="755.9" y1="180.8" x2="778.3" y2="180.8" stroke="#7a2a0a" stroke-width="1.4"/>
<line x1="755.6" y1="184.7" x2="778.6" y2="184.7" stroke="#7a2a0a" stroke-width="1.4"/>
<circle cx="806.1" cy="162.5" r="3.0" fill="#a83868"/>
<circle cx="799.9" cy="165.6" r="3.0" fill="#a83868"/>
<circle cx="812.4" cy="167" r="3.0" fill="#a83868"/>
<circle cx="806.1" cy="168.8" r="3.0" fill="#a83868"/>
<circle cx="799.9" cy="171.3" r="3.0" fill="#a83868"/>
<circle cx="806.1" cy="175" r="3.0" fill="#a83868"/>
<circle cx="806.1" cy="182.5" r="3.0" fill="#a83868"/>
<circle cx="806.1" cy="192.5" r="3.0" fill="#a83868"/>
<circle cx="806.1" cy="202.5" r="3.0" fill="#a83868"/>
<circle cx="806.1" cy="207.5" r="3.0" fill="#a83868"/>
<polygon points="815.2,162.5 815.8,163.2 816.4,164 816.9,164.8 817.3,165.5 817.7,166.2 817.9,167 818.1,167.8 818.1,168.5 818.1,169.2 818,170 817.8,170.8 817.5,171.5 817.1,172.2 816.7,173 816.2,173.8 815.8,174.5 815.3,175.2 814.8,176 814.3,176.8 813.8,177.5 813.4,178.2 813,179 812.6,179.8 812.2,180.5 811.9,181.2 811.6,182 811.3,182.8 811.1,183.5 810.9,184.2 810.7,185 810.6,185.8 810.4,186.5 810.3,187.2 810.3,188 810.2,188.8 810.2,189.5 810.1,190.2 810.1,191 810.1,191.8 810.1,192.5 810.2,193.2 810.2,194 810.2,194.8 810.3,195.5 810.4,196.2 810.4,197 810.5,197.8 810.6,198.5 810.7,199.2 810.8,200 810.8,200.8 810.9,201.5 810.9,202.2 811,203 810.9,203.8 810.9,204.5 810.8,205.2 810.7,206 810.6,206.8 810.4,207.5 801.9,207.5 801.7,206.8 801.6,206 801.5,205.2 801.4,204.5 801.4,203.8 801.3,203 801.4,202.2 801.4,201.5 801.5,200.8 801.5,200 801.6,199.2 801.7,198.5 801.8,197.8 801.9,197 801.9,196.2 802,195.5 802.1,194.8 802.1,194 802.1,193.2 802.2,192.5 802.2,191.8 802.2,191 802.2,190.2 802.1,189.5 802.1,188.8 802,188 802,187.2 801.9,186.5 801.7,185.8 801.6,185 801.4,184.2 801.2,183.5 801,182.8 800.7,182 800.4,181.2 800.1,180.5 799.7,179.8 799.3,179 798.9,178.2 798.5,177.5 798,176.8 797.5,176 797,175.2 796.5,174.5 796.1,173.8 795.6,173 795.2,172.2 794.8,171.5 794.5,170.8 794.3,170 794.2,169.2 794.1,168.5 794.2,167.8 794.4,167 794.6,166.2 795,165.5 795.4,164.8 795.9,164 796.5,163.2 797.1,162.5" fill="none" stroke="#4a0a28" stroke-width="1.4" stroke-linejoin="round"/>
<line x1="794.3" y1="167.4" x2="818" y2="167.4" stroke="#4a0a28" stroke-width="1.4"/>
<line x1="795.7" y1="173.2" x2="816.6" y2="173.2" stroke="#4a0a28" stroke-width="1.4"/>
<line x1="802.2" y1="190" x2="810.1" y2="190" stroke="#4a0a28" stroke-width="1.4"/>
<circle cx="845.2" cy="203" r="3.0" fill="#5a8a28"/>
<circle cx="838.9" cy="205" r="3.0" fill="#5a8a28"/>
<circle cx="851.5" cy="206" r="3.0" fill="#5a8a28"/>
<circle cx="845.2" cy="208" r="3.0" fill="#5a8a28"/>
<circle cx="835.9" cy="210" r="3.0" fill="#5a8a28"/>
<circle cx="851.5" cy="212" r="3.0" fill="#5a8a28"/>
<circle cx="845.2" cy="214" r="3.0" fill="#5a8a28"/>
<circle cx="838.9" cy="216" r="3.0" fill="#5a8a28"/>
<circle cx="851.5" cy="218" r="3.0" fill="#5a8a28"/>
<circle cx="845.2" cy="220" r="3.0" fill="#5a8a28"/>
<circle cx="842.2" cy="222.5" r="3.0" fill="#5a8a28"/>
<polygon points="853.3,203 854,203.3 854.6,203.7 855.1,204 855.6,204.3 856,204.6 856.4,204.9 856.7,205.3 856.9,205.6 857.1,205.9 857.2,206.2 857.2,206.6 857.2,206.9 857.1,207.2 857.1,207.6 857,207.9 856.9,208.2 856.8,208.5 856.6,208.8 856.5,209.2 856.4,209.5 856.3,209.8 856.3,210.2 856.2,210.5 856.1,210.8 856.1,211.1 856.1,211.4 856,211.8 856,212.1 856,212.4 856,212.8 856,213.1 856,213.4 856,213.7 856,214.1 856,214.4 855.9,214.7 855.9,215 855.9,215.3 855.9,215.7 855.9,216 855.8,216.3 855.8,216.7 855.7,217 855.7,217.3 855.6,217.6 855.5,217.9 855.4,218.3 855.2,218.6 855.1,218.9 854.9,219.2 854.7,219.6 854.4,219.9 854.2,220.2 853.9,220.6 853.6,220.9 853.2,221.2 852.8,221.5 852.4,221.8 852,222.2 851.5,222.5 838.9,222.5 838.4,222.2 838,221.8 837.6,221.5 837.2,221.2 836.8,220.9 836.5,220.6 836.2,220.2 836,219.9 835.7,219.6 835.5,219.2 835.3,218.9 835.2,218.6 835,218.3 834.9,217.9 834.8,217.6 834.7,217.3 834.7,217 834.6,216.7 834.6,216.3 834.5,216 834.5,215.7 834.5,215.3 834.5,215 834.5,214.7 834.4,214.4 834.4,214.1 834.4,213.7 834.4,213.4 834.4,213.1 834.4,212.8 834.4,212.4 834.4,212.1 834.4,211.8 834.3,211.4 834.3,211.1 834.3,210.8 834.2,210.5 834.1,210.2 834.1,209.8 834,209.5 833.9,209.2 833.8,208.8 833.6,208.5 833.5,208.2 833.4,207.9 833.3,207.6 833.3,207.2 833.2,206.9 833.2,206.6 833.2,206.2 833.3,205.9 833.5,205.6 833.7,205.3 834,204.9 834.4,204.6 834.8,204.3 835.3,204 835.8,203.7 836.4,203.3 837.1,203" fill="none" stroke="#2a4a0a" stroke-width="1.4" stroke-linejoin="round"/>
<line x1="833.2" y1="207" x2="857.2" y2="207" stroke="#2a4a0a" stroke-width="1.4"/>
<line x1="834.4" y1="212" x2="856" y2="212" stroke="#2a4a0a" stroke-width="1.4"/>
<line x1="834.7" y1="217" x2="855.7" y2="217" stroke="#2a4a0a" stroke-width="1.4"/>
<circle cx="884.2" cy="183.8" r="3.0" fill="#2a8a68"/>
<circle cx="878" cy="188.1" r="3.0" fill="#2a8a68"/>
<circle cx="884.2" cy="191.9" r="3.0" fill="#2a8a68"/>
<circle cx="878" cy="195" r="3.0" fill="#2a8a68"/>
<circle cx="890.5" cy="195" r="3.0" fill="#2a8a68"/>
<circle cx="884.2" cy="206.3" r="3.0" fill="#2a8a68"/>
<circle cx="878" cy="210" r="3.0" fill="#2a8a68"/>
<circle cx="884.2" cy="216.9" r="3.0" fill="#2a8a68"/>
<circle cx="878" cy="218.8" r="3.0" fill="#2a8a68"/>
<circle cx="890.5" cy="219.4" r="3.0" fill="#2a8a68"/>
<polygon points="891.4,183.8 891.9,184.4 892.4,185 893,185.6 893.4,186.2 893.9,186.8 894.4,187.4 894.8,188 895.1,188.5 895.5,189.1 895.8,189.7 896,190.3 896.1,190.9 896.2,191.5 896.2,192.1 896.2,192.7 896.1,193.3 895.9,193.9 895.6,194.5 895.3,195.1 894.9,195.7 894.5,196.3 894,196.9 893.6,197.4 893.1,198 892.7,198.6 892.3,199.2 891.9,199.8 891.6,200.4 891.3,201 891.1,201.6 891,202.2 890.9,202.8 890.9,203.4 890.9,204 891,204.6 891.1,205.2 891.3,205.8 891.5,206.3 891.7,206.9 891.9,207.5 892.1,208.1 892.4,208.7 892.6,209.3 892.8,209.9 893.1,210.5 893.3,211.1 893.6,211.7 893.8,212.3 894.1,212.9 894.3,213.5 894.5,214.1 894.7,214.7 894.8,215.2 894.9,215.8 895,216.4 895,217 894.9,217.6 894.7,218.2 894.5,218.8 894.2,219.4 874.3,219.4 874,218.8 873.8,218.2 873.6,217.6 873.5,217 873.5,216.4 873.6,215.8 873.7,215.2 873.8,214.7 874,214.1 874.2,213.5 874.4,212.9 874.7,212.3 874.9,211.7 875.2,211.1 875.4,210.5 875.7,209.9 875.9,209.3 876.1,208.7 876.4,208.1 876.6,207.5 876.8,206.9 877,206.3 877.2,205.8 877.4,205.2 877.5,204.6 877.6,204 877.6,203.4 877.6,202.8 877.5,202.2 877.4,201.6 877.2,201 876.9,200.4 876.6,199.8 876.2,199.2 875.8,198.6 875.4,198 874.9,197.4 874.5,196.9 874,196.3 873.6,195.7 873.2,195.1 872.9,194.5 872.6,193.9 872.4,193.3 872.3,192.7 872.2,192.1 872.3,191.5 872.4,190.9 872.5,190.3 872.7,189.7 873,189.1 873.4,188.5 873.7,188 874.1,187.4 874.6,186.8 875.1,186.2 875.5,185.6 876.1,185 876.6,184.4 877.1,183.8" fill="none" stroke="#0a3a28" stroke-width="1.4" stroke-linejoin="round"/>
<line x1="872.3" y1="192.7" x2="896.2" y2="192.7" stroke="#0a3a28" stroke-width="1.4"/>
<line x1="877" y1="200.7" x2="891.5" y2="200.7" stroke="#0a3a28" stroke-width="1.4"/>
<line x1="873.7" y1="215.2" x2="894.8" y2="215.2" stroke="#0a3a28" stroke-width="1.4"/>
<circle cx="923.3" cy="182.5" r="3.0" fill="#3a68a8"/>
<circle cx="923.3" cy="192.5" r="3.0" fill="#3a68a8"/>
<circle cx="917" cy="193" r="3.0" fill="#3a68a8"/>
<circle cx="929.6" cy="195" r="3.0" fill="#3a68a8"/>
<circle cx="923.3" cy="203.1" r="3.0" fill="#3a68a8"/>
<circle cx="923.3" cy="210" r="3.0" fill="#3a68a8"/>
<circle cx="917" cy="211.3" r="3.0" fill="#3a68a8"/>
<circle cx="929.6" cy="213" r="3.0" fill="#3a68a8"/>
<circle cx="923.3" cy="215" r="3.0" fill="#3a68a8"/>
<circle cx="923.3" cy="223.1" r="3.0" fill="#3a68a8"/>
<polygon points="927.2,182.5 927.5,183.2 927.7,183.9 928,184.5 928.3,185.2 928.7,185.9 929.1,186.6 929.5,187.2 929.9,187.9 930.4,188.6 930.9,189.3 931.3,189.9 931.8,190.6 932.1,191.3 932.4,192 932.7,192.7 932.8,193.3 932.8,194 932.7,194.7 932.6,195.4 932.4,196 932.1,196.7 931.7,197.4 931.4,198.1 931.1,198.7 930.8,199.4 930.6,200.1 930.4,200.8 930.3,201.4 930.3,202.1 930.4,202.8 930.6,203.5 930.9,204.2 931.2,204.8 931.7,205.5 932.1,206.2 932.6,206.9 933.2,207.5 933.7,208.2 934.2,208.9 934.6,209.6 934.9,210.2 935.2,210.9 935.3,211.6 935.3,212.3 935.2,212.9 934.9,213.6 934.6,214.3 934.2,215 933.6,215.7 933.1,216.3 932.5,217 931.9,217.7 931.2,218.4 930.7,219 930.1,219.7 929.6,220.4 929.1,221.1 928.6,221.7 928.2,222.4 927.8,223.1 918.8,223.1 918.4,222.4 918,221.7 917.5,221.1 917,220.4 916.5,219.7 915.9,219 915.4,218.4 914.7,217.7 914.1,217 913.5,216.3 913,215.7 912.4,215 912,214.3 911.7,213.6 911.4,212.9 911.3,212.3 911.3,211.6 911.4,210.9 911.7,210.2 912,209.6 912.4,208.9 912.9,208.2 913.4,207.5 914,206.9 914.5,206.2 914.9,205.5 915.4,204.8 915.7,204.2 916,203.5 916.2,202.8 916.3,202.1 916.3,201.4 916.2,200.8 916,200.1 915.8,199.4 915.5,198.7 915.2,198.1 914.9,197.4 914.5,196.7 914.2,196 914,195.4 913.9,194.7 913.8,194 913.8,193.3 913.9,192.7 914.2,192 914.5,191.3 914.8,190.6 915.3,189.9 915.7,189.3 916.2,188.6 916.7,187.9 917.1,187.2 917.5,186.6 917.9,185.9 918.3,185.2 918.6,184.5 918.9,183.9 919.1,183.2 919.4,182.5" fill="none" stroke="#0a2050" stroke-width="1.4" stroke-linejoin="round"/>
<line x1="913.8" y1="193.5" x2="932.8" y2="193.5" stroke="#0a2050" stroke-width="1.4"/>
<line x1="914.2" y1="206.6" x2="932.4" y2="206.6" stroke="#0a2050" stroke-width="1.4"/>
<line x1="911.4" y1="212.6" x2="935.2" y2="212.6" stroke="#0a2050" stroke-width="1.4"/>
<circle cx="962.4" cy="149.4" r="3.0" fill="#f88838"/>
<circle cx="962.4" cy="151.9" r="3.0" fill="#f88838"/>
<circle cx="962.4" cy="168.1" r="3.0" fill="#f88838"/>
<circle cx="962.4" cy="171.3" r="3.0" fill="#f88838"/>
<circle cx="962.4" cy="184.4" r="3.0" fill="#f88838"/>
<circle cx="956.1" cy="188.1" r="3.0" fill="#f88838"/>
<circle cx="968.6" cy="189.4" r="3.0" fill="#f88838"/>
<circle cx="962.4" cy="190" r="3.0" fill="#f88838"/>
<circle cx="953.1" cy="192" r="3.0" fill="#f88838"/>
<circle cx="959.4" cy="194" r="3.0" fill="#f88838"/>
<circle cx="968.6" cy="196.3" r="3.0" fill="#f88838"/>
<polygon points="966.2,149.4 966.3,150.2 966.3,151 966.3,151.7 966.2,152.5 966.1,153.3 966,154.1 965.9,154.9 965.7,155.7 965.6,156.4 965.5,157.2 965.3,158 965.3,158.8 965.2,159.6 965.2,160.3 965.2,161.1 965.3,161.9 965.4,162.7 965.5,163.5 965.6,164.3 965.8,165 965.9,165.8 966.1,166.6 966.2,167.4 966.3,168.2 966.4,168.9 966.5,169.7 966.5,170.5 966.6,171.3 966.6,172.1 966.6,172.9 966.6,173.6 966.6,174.4 966.6,175.2 966.7,176 966.8,176.8 967,177.5 967.3,178.3 967.6,179.1 968,179.9 968.5,180.7 969,181.4 969.6,182.2 970.2,183 970.8,183.8 971.4,184.6 972,185.4 972.6,186.1 973.1,186.9 973.6,187.7 973.9,188.5 974.2,189.3 974.3,190 974.4,190.8 974.2,191.6 974,192.4 973.7,193.2 973.3,194 972.7,194.7 972.1,195.5 971.4,196.3 953.3,196.3 952.6,195.5 952,194.7 951.4,194 951,193.2 950.7,192.4 950.5,191.6 950.4,190.8 950.4,190 950.5,189.3 950.8,188.5 951.1,187.7 951.6,186.9 952.1,186.1 952.7,185.4 953.3,184.6 953.9,183.8 954.5,183 955.1,182.2 955.7,181.4 956.2,180.7 956.7,179.9 957.1,179.1 957.4,178.3 957.7,177.5 957.9,176.8 958,176 958.1,175.2 958.1,174.4 958.1,173.6 958.1,172.9 958.1,172.1 958.1,171.3 958.2,170.5 958.2,169.7 958.3,168.9 958.4,168.2 958.5,167.4 958.6,166.6 958.8,165.8 958.9,165 959.1,164.3 959.2,163.5 959.3,162.7 959.4,161.9 959.5,161.1 959.5,160.3 959.5,159.6 959.4,158.8 959.4,158 959.2,157.2 959.1,156.4 959,155.7 958.8,154.9 958.7,154.1 958.6,153.3 958.5,152.5 958.4,151.7 958.4,151 958.4,150.2 958.5,149.4" fill="none" stroke="#c05838" stroke-width="1.4" stroke-linejoin="round"/>
<line x1="958.2" y1="169.7" x2="966.5" y2="169.7" stroke="#c05838" stroke-width="1.4"/>
<line x1="950.9" y1="188.1" x2="973.8" y2="188.1" stroke="#c05838" stroke-width="1.4"/>
<line x1="950.4" y1="191" x2="974.3" y2="191" stroke="#c05838" stroke-width="1.4"/>
<circle cx="1001.4" cy="193.1" r="3.0" fill="#e07898"/>
<circle cx="1001.4" cy="198.8" r="3.0" fill="#e07898"/>
<circle cx="995.1" cy="199" r="3.0" fill="#e07898"/>
<circle cx="1007.7" cy="203.8" r="3.0" fill="#e07898"/>
<circle cx="998.4" cy="204" r="3.0" fill="#e07898"/>
<circle cx="1004.4" cy="208" r="3.0" fill="#e07898"/>
<circle cx="995.1" cy="211.3" r="3.0" fill="#e07898"/>
<circle cx="1001.4" cy="215" r="3.0" fill="#e07898"/>
<circle cx="1001.4" cy="227.5" r="3.0" fill="#e07898"/>
<circle cx="998.4" cy="228.8" r="3.0" fill="#e07898"/>
<polygon points="1007.3,193.1 1007.9,193.7 1008.4,194.3 1008.9,194.9 1009.5,195.5 1010,196.1 1010.5,196.7 1010.9,197.3 1011.4,197.9 1011.8,198.5 1012.2,199.1 1012.5,199.6 1012.8,200.2 1013,200.8 1013.2,201.4 1013.3,202 1013.4,202.6 1013.4,203.2 1013.4,203.8 1013.3,204.4 1013.2,205 1013,205.6 1012.8,206.2 1012.6,206.8 1012.4,207.4 1012.1,208 1011.9,208.6 1011.6,209.2 1011.2,209.8 1010.9,210.4 1010.5,210.9 1010.2,211.5 1009.8,212.1 1009.4,212.7 1009,213.3 1008.5,213.9 1008.1,214.5 1007.7,215.1 1007.2,215.7 1006.8,216.3 1006.4,216.9 1006,217.5 1005.7,218.1 1005.4,218.7 1005.2,219.3 1005,219.9 1005,220.5 1005,221.1 1005,221.7 1005.1,222.3 1005.3,222.9 1005.6,223.4 1005.8,224 1006.1,224.6 1006.3,225.2 1006.6,225.8 1006.7,226.4 1006.9,227 1007,227.6 1007,228.2 1006.9,228.8 995.9,228.8 995.8,228.2 995.8,227.6 995.9,227 996.1,226.4 996.2,225.8 996.5,225.2 996.7,224.6 997,224 997.2,223.4 997.5,222.9 997.7,222.3 997.8,221.7 997.8,221.1 997.8,220.5 997.8,219.9 997.6,219.3 997.4,218.7 997.1,218.1 996.8,217.5 996.4,216.9 996,216.3 995.6,215.7 995.1,215.1 994.7,214.5 994.3,213.9 993.8,213.3 993.4,212.7 993,212.1 992.6,211.5 992.3,210.9 991.9,210.4 991.6,209.8 991.2,209.2 990.9,208.6 990.7,208 990.4,207.4 990.2,206.8 990,206.2 989.8,205.6 989.6,205 989.5,204.4 989.4,203.8 989.4,203.2 989.4,202.6 989.5,202 989.6,201.4 989.8,200.8 990,200.2 990.3,199.6 990.6,199.1 991,198.5 991.4,197.9 991.9,197.3 992.3,196.7 992.8,196.1 993.3,195.5 993.9,194.9 994.4,194.3 994.9,193.7 995.5,193.1" fill="none" stroke="#a0245a" stroke-width="1.4" stroke-linejoin="round"/>
<line x1="990" y1="200.2" x2="1012.8" y2="200.2" stroke="#a0245a" stroke-width="1.4"/>
<line x1="989.9" y1="206" x2="1012.9" y2="206" stroke="#a0245a" stroke-width="1.4"/>
<line x1="994.4" y1="214.1" x2="1008.4" y2="214.1" stroke="#a0245a" stroke-width="1.4"/>
<circle cx="1040.5" cy="188.1" r="3.0" fill="#aab868"/>
<circle cx="1040.5" cy="198.1" r="3.0" fill="#aab868"/>
<circle cx="1034.2" cy="200" r="3.0" fill="#aab868"/>
<circle cx="1040.5" cy="205" r="3.0" fill="#aab868"/>
<circle cx="1040.5" cy="211.3" r="3.0" fill="#aab868"/>
<circle cx="1034.2" cy="215" r="3.0" fill="#aab868"/>
<circle cx="1040.5" cy="218.1" r="3.0" fill="#aab868"/>
<circle cx="1040.5" cy="226.3" r="3.0" fill="#aab868"/>
<circle cx="1034.2" cy="227.5" r="3.0" fill="#aab868"/>
<circle cx="1046.8" cy="228.8" r="3.0" fill="#aab868"/>
<polygon points="1045.1,188.1 1045.4,188.8 1045.6,189.5 1045.9,190.1 1046.1,190.8 1046.4,191.5 1046.7,192.2 1047.1,192.8 1047.4,193.5 1047.8,194.2 1048.2,194.9 1048.6,195.6 1049,196.2 1049.3,196.9 1049.7,197.6 1050,198.3 1050.3,199 1050.5,199.6 1050.7,200.3 1050.8,201 1050.9,201.7 1050.9,202.3 1050.9,203 1050.9,203.7 1050.9,204.4 1050.8,205.1 1050.8,205.7 1050.8,206.4 1050.8,207.1 1050.8,207.8 1050.8,208.4 1050.9,209.1 1051,209.8 1051.1,210.5 1051.2,211.2 1051.3,211.8 1051.4,212.5 1051.5,213.2 1051.5,213.9 1051.6,214.6 1051.6,215.2 1051.6,215.9 1051.6,216.6 1051.6,217.3 1051.6,217.9 1051.6,218.6 1051.6,219.3 1051.6,220 1051.7,220.7 1051.8,221.3 1051.9,222 1052,222.7 1052.2,223.4 1052.3,224.1 1052.4,224.7 1052.5,225.4 1052.4,226.1 1052.3,226.8 1052.1,227.4 1051.8,228.1 1051.4,228.8 1029.5,228.8 1029.1,228.1 1028.8,227.4 1028.6,226.8 1028.5,226.1 1028.5,225.4 1028.5,224.7 1028.6,224.1 1028.7,223.4 1028.9,222.7 1029,222 1029.1,221.3 1029.2,220.7 1029.3,220 1029.3,219.3 1029.3,218.6 1029.3,217.9 1029.3,217.3 1029.3,216.6 1029.3,215.9 1029.3,215.2 1029.3,214.6 1029.4,213.9 1029.4,213.2 1029.5,212.5 1029.6,211.8 1029.7,211.2 1029.8,210.5 1029.9,209.8 1030,209.1 1030.1,208.4 1030.1,207.8 1030.1,207.1 1030.1,206.4 1030.1,205.7 1030.1,205.1 1030,204.4 1030,203.7 1030,203 1030,202.3 1030,201.7 1030.1,201 1030.2,200.3 1030.4,199.6 1030.6,199 1030.9,198.3 1031.2,197.6 1031.6,196.9 1031.9,196.2 1032.3,195.6 1032.7,194.9 1033.1,194.2 1033.5,193.5 1033.8,192.8 1034.2,192.2 1034.5,191.5 1034.8,190.8 1035,190.1 1035.3,189.5 1035.5,188.8 1035.8,188.1" fill="none" stroke="#5a8420" stroke-width="1.4" stroke-linejoin="round"/>
<line x1="1030" y1="201.2" x2="1050.9" y2="201.2" stroke="#5a8420" stroke-width="1.4"/>
<line x1="1029.4" y1="213.2" x2="1051.5" y2="213.2" stroke="#5a8420" stroke-width="1.4"/>
<line x1="1028.6" y1="224.3" x2="1052.3" y2="224.3" stroke="#5a8420" stroke-width="1.4"/>
<circle cx="1079.5" cy="156.3" r="3.0" fill="#60c8b0"/>
<circle cx="1079.5" cy="170" r="3.0" fill="#60c8b0"/>
<circle cx="1073.2" cy="173.1" r="3.0" fill="#60c8b0"/>
<circle cx="1079.5" cy="180" r="3.0" fill="#60c8b0"/>
<circle cx="1073.2" cy="181.3" r="3.0" fill="#60c8b0"/>
<circle cx="1085.8" cy="183.1" r="3.0" fill="#60c8b0"/>
<circle cx="1079.5" cy="187.5" r="3.0" fill="#60c8b0"/>
<circle cx="1079.5" cy="194.4" r="3.0" fill="#60c8b0"/>
<circle cx="1079.5" cy="206.3" r="3.0" fill="#60c8b0"/>
<circle cx="1079.5" cy="213.8" r="3.0" fill="#60c8b0"/>
<polygon points="1082.7,156.3 1082.8,157.3 1082.9,158.2 1083.1,159.2 1083.2,160.1 1083.4,161.1 1083.6,162.1 1083.8,163 1084.1,164 1084.5,164.9 1084.9,165.9 1085.3,166.8 1085.8,167.8 1086.3,168.8 1086.9,169.7 1087.4,170.7 1088,171.6 1088.5,172.6 1089,173.6 1089.5,174.5 1090,175.5 1090.4,176.4 1090.8,177.4 1091.1,178.3 1091.3,179.3 1091.5,180.3 1091.5,181.2 1091.4,182.2 1091.3,183.1 1091.1,184.1 1090.7,185.1 1090.3,186 1089.9,187 1089.4,187.9 1088.8,188.9 1088.3,189.8 1087.7,190.8 1087.1,191.8 1086.6,192.7 1086.1,193.7 1085.7,194.6 1085.3,195.6 1085,196.6 1084.7,197.5 1084.4,198.5 1084.3,199.4 1084.2,200.4 1084.1,201.3 1084.1,202.3 1084.1,203.3 1084.1,204.2 1084.2,205.2 1084.3,206.1 1084.3,207.1 1084.3,208.1 1084.3,209 1084.3,210 1084.2,210.9 1084.1,211.9 1083.9,212.8 1083.7,213.8 1075.3,213.8 1075.1,212.8 1074.9,211.9 1074.8,210.9 1074.7,210 1074.7,209 1074.7,208.1 1074.7,207.1 1074.7,206.1 1074.8,205.2 1074.9,204.2 1074.9,203.3 1074.9,202.3 1074.9,201.3 1074.8,200.4 1074.7,199.4 1074.6,198.5 1074.3,197.5 1074,196.6 1073.7,195.6 1073.3,194.6 1072.9,193.7 1072.4,192.7 1071.9,191.8 1071.3,190.8 1070.7,189.8 1070.2,188.9 1069.6,187.9 1069.1,187 1068.7,186 1068.3,185.1 1067.9,184.1 1067.7,183.1 1067.6,182.2 1067.5,181.2 1067.5,180.3 1067.7,179.3 1067.9,178.3 1068.2,177.4 1068.6,176.4 1069,175.5 1069.5,174.5 1070,173.6 1070.5,172.6 1071,171.6 1071.6,170.7 1072.1,169.7 1072.7,168.8 1073.2,167.8 1073.7,166.8 1074.1,165.9 1074.5,164.9 1074.9,164 1075.2,163 1075.4,162.1 1075.6,161.1 1075.8,160.1 1075.9,159.2 1076.1,158.2 1076.2,157.3 1076.3,156.3" fill="none" stroke="#2a8a70" stroke-width="1.4" stroke-linejoin="round"/>
<line x1="1069.3" y1="174.8" x2="1089.7" y2="174.8" stroke="#2a8a70" stroke-width="1.4"/>
<line x1="1067.6" y1="182.2" x2="1091.4" y2="182.2" stroke="#2a8a70" stroke-width="1.4"/>
<line x1="1072.4" y1="192.7" x2="1086.6" y2="192.7" stroke="#2a8a70" stroke-width="1.4"/>
<circle cx="1118.5" cy="181.3" r="3.0" fill="#80a8e0"/>
<circle cx="1115.5" cy="186.3" r="3.0" fill="#80a8e0"/>
<circle cx="1118.5" cy="197.5" r="3.0" fill="#80a8e0"/>
<circle cx="1112.2" cy="201.3" r="3.0" fill="#80a8e0"/>
<circle cx="1118.5" cy="205" r="3.0" fill="#80a8e0"/>
<circle cx="1124.8" cy="206.3" r="3.0" fill="#80a8e0"/>
<circle cx="1118.5" cy="214.4" r="3.0" fill="#80a8e0"/>
<circle cx="1112.2" cy="220" r="3.0" fill="#80a8e0"/>
<circle cx="1118.5" cy="222.5" r="3.0" fill="#80a8e0"/>
<circle cx="1124.8" cy="225.6" r="3.0" fill="#80a8e0"/>
<polygon points="1124.3,181.3 1124.5,182 1124.7,182.8 1124.8,183.5 1124.9,184.3 1125,185 1125,185.7 1124.9,186.5 1124.9,187.2 1124.8,187.9 1124.7,188.7 1124.7,189.4 1124.7,190.2 1124.8,190.9 1124.9,191.6 1125.1,192.4 1125.3,193.1 1125.6,193.9 1126,194.6 1126.5,195.3 1126.9,196.1 1127.4,196.8 1127.9,197.5 1128.4,198.3 1128.9,199 1129.3,199.8 1129.7,200.5 1130,201.2 1130.3,202 1130.5,202.7 1130.5,203.4 1130.5,204.2 1130.5,204.9 1130.3,205.7 1130.2,206.4 1129.9,207.1 1129.7,207.9 1129.4,208.6 1129.2,209.4 1128.9,210.1 1128.7,210.8 1128.6,211.6 1128.5,212.3 1128.5,213 1128.5,213.8 1128.5,214.5 1128.7,215.3 1128.8,216 1129,216.7 1129.1,217.5 1129.3,218.2 1129.4,219 1129.5,219.7 1129.5,220.4 1129.5,221.2 1129.4,221.9 1129.1,222.6 1128.8,223.4 1128.5,224.1 1128,224.9 1127.4,225.6 1109.7,225.6 1109.1,224.9 1108.6,224.1 1108.3,223.4 1108,222.6 1107.7,221.9 1107.6,221.2 1107.6,220.4 1107.6,219.7 1107.7,219 1107.8,218.2 1108,217.5 1108.1,216.7 1108.3,216 1108.4,215.3 1108.6,214.5 1108.6,213.8 1108.6,213 1108.6,212.3 1108.5,211.6 1108.4,210.8 1108.2,210.1 1107.9,209.4 1107.7,208.6 1107.4,207.9 1107.2,207.1 1106.9,206.4 1106.8,205.7 1106.6,204.9 1106.5,204.2 1106.6,203.4 1106.6,202.7 1106.8,202 1107.1,201.2 1107.4,200.5 1107.8,199.8 1108.2,199 1108.7,198.3 1109.2,197.5 1109.7,196.8 1110.2,196.1 1110.6,195.3 1111.1,194.6 1111.5,193.9 1111.8,193.1 1112,192.4 1112.2,191.6 1112.3,190.9 1112.4,190.2 1112.4,189.4 1112.4,188.7 1112.3,187.9 1112.2,187.2 1112.2,186.5 1112.1,185.7 1112.1,185 1112.2,184.3 1112.3,183.5 1112.4,182.8 1112.6,182 1112.8,181.3" fill="none" stroke="#3868b0" stroke-width="1.4" stroke-linejoin="round"/>
<line x1="1108.6" y1="198.4" x2="1128.5" y2="198.4" stroke="#3868b0" stroke-width="1.4"/>
<line x1="1106.8" y1="205.7" x2="1130.3" y2="205.7" stroke="#3868b0" stroke-width="1.4"/>
<line x1="1107.7" y1="218.6" x2="1129.4" y2="218.6" stroke="#3868b0" stroke-width="1.4"/>
<circle cx="1157.6" cy="157.5" r="3.0" fill="#b05430"/>
<circle cx="1157.6" cy="180" r="3.0" fill="#b05430"/>
<circle cx="1154.6" cy="185.6" r="3.0" fill="#b05430"/>
<circle cx="1157.6" cy="193.8" r="3.0" fill="#b05430"/>
<circle cx="1157.6" cy="208.1" r="3.0" fill="#b05430"/>
<circle cx="1151.3" cy="208.5" r="3.0" fill="#b05430"/>
<circle cx="1163.9" cy="209.4" r="3.0" fill="#b05430"/>
<circle cx="1157.6" cy="215.6" r="3.0" fill="#b05430"/>
<circle cx="1151.3" cy="216.9" r="3.0" fill="#b05430"/>
<circle cx="1163.9" cy="220" r="3.0" fill="#b05430"/>
<polygon points="1160,157.5 1160,158.5 1159.9,159.6 1159.9,160.6 1159.8,161.7 1159.7,162.7 1159.7,163.8 1159.6,164.8 1159.6,165.8 1159.5,166.9 1159.6,167.9 1159.6,169 1159.7,170 1159.9,171 1160.1,172.1 1160.3,173.1 1160.6,174.2 1160.9,175.2 1161.2,176.2 1161.5,177.3 1161.9,178.3 1162.2,179.4 1162.4,180.4 1162.7,181.5 1162.9,182.5 1163,183.5 1163.2,184.6 1163.2,185.6 1163.3,186.7 1163.3,187.7 1163.3,188.8 1163.2,189.8 1163.2,190.8 1163.2,191.9 1163.2,192.9 1163.2,194 1163.3,195 1163.4,196 1163.6,197.1 1163.8,198.1 1164.2,199.2 1164.6,200.2 1165,201.2 1165.5,202.3 1166.1,203.3 1166.7,204.4 1167.3,205.4 1167.8,206.5 1168.3,207.5 1168.8,208.5 1169.1,209.6 1169.4,210.6 1169.6,211.7 1169.6,212.7 1169.5,213.8 1169.3,214.8 1169,215.8 1168.5,216.9 1168,217.9 1167.3,219 1166.7,220 1148.5,220 1147.9,219 1147.2,217.9 1146.7,216.9 1146.2,215.8 1145.9,214.8 1145.7,213.8 1145.6,212.7 1145.6,211.7 1145.8,210.6 1146.1,209.6 1146.4,208.5 1146.9,207.5 1147.4,206.5 1147.9,205.4 1148.5,204.4 1149.1,203.3 1149.7,202.3 1150.2,201.2 1150.6,200.2 1151,199.2 1151.4,198.1 1151.6,197.1 1151.8,196 1151.9,195 1152,194 1152,192.9 1152,191.9 1152,190.8 1152,189.8 1151.9,188.8 1151.9,187.7 1151.9,186.7 1152,185.6 1152,184.6 1152.2,183.5 1152.3,182.5 1152.5,181.5 1152.8,180.4 1153,179.4 1153.3,178.3 1153.7,177.3 1154,176.2 1154.3,175.2 1154.6,174.2 1154.9,173.1 1155.1,172.1 1155.3,171 1155.5,170 1155.6,169 1155.6,167.9 1155.7,166.9 1155.6,165.8 1155.6,164.8 1155.5,163.8 1155.5,162.7 1155.4,161.7 1155.3,160.6 1155.3,159.6 1155.2,158.5 1155.2,157.5" fill="none" stroke="#7a2808" stroke-width="1.4" stroke-linejoin="round"/>
<line x1="1151.9" y1="187.6" x2="1163.3" y2="187.6" stroke="#7a2808" stroke-width="1.4"/>
<line x1="1146.5" y1="208.3" x2="1168.7" y2="208.3" stroke="#7a2808" stroke-width="1.4"/>
<line x1="1145.8" y1="214" x2="1169.4" y2="214" stroke="#7a2808" stroke-width="1.4"/>
<circle cx="1196.7" cy="166.3" r="3.0" fill="#a02c60"/>
<circle cx="1190.4" cy="171.9" r="3.0" fill="#a02c60"/>
<circle cx="1196.7" cy="173.1" r="3.0" fill="#a02c60"/>
<circle cx="1203" cy="176.3" r="3.0" fill="#a02c60"/>
<circle cx="1196.7" cy="183.1" r="3.0" fill="#a02c60"/>
<circle cx="1190.4" cy="186.3" r="3.0" fill="#a02c60"/>
<circle cx="1203" cy="188.1" r="3.0" fill="#a02c60"/>
<circle cx="1196.7" cy="191.3" r="3.0" fill="#a02c60"/>
<circle cx="1196.7" cy="198.8" r="3.0" fill="#a02c60"/>
<circle cx="1196.7" cy="216.3" r="3.0" fill="#a02c60"/>
<polygon points="1203.9,166.3 1204.6,167.1 1205.2,168 1205.9,168.8 1206.4,169.6 1206.9,170.5 1207.3,171.3 1207.6,172.1 1207.8,173 1207.9,173.8 1208,174.6 1208,175.5 1208,176.3 1208,177.1 1208,178 1208,178.8 1208,179.6 1208,180.5 1208.1,181.3 1208.2,182.1 1208.4,183 1208.5,183.8 1208.6,184.6 1208.7,185.5 1208.6,186.3 1208.6,187.1 1208.4,188 1208.2,188.8 1207.8,189.6 1207.4,190.5 1207,191.3 1206.5,192.1 1205.9,193 1205.4,193.8 1204.8,194.6 1204.2,195.5 1203.6,196.3 1203.1,197.1 1202.5,198 1202,198.8 1201.5,199.6 1201.1,200.5 1200.6,201.3 1200.2,202.1 1199.9,203 1199.5,203.8 1199.3,204.6 1199,205.5 1198.9,206.3 1198.8,207.1 1198.7,208 1198.8,208.8 1198.8,209.6 1198.9,210.5 1199.1,211.3 1199.2,212.1 1199.4,213 1199.5,213.8 1199.6,214.6 1199.7,215.5 1199.7,216.3 1193.6,216.3 1193.6,215.5 1193.7,214.6 1193.8,213.8 1193.9,213 1194.1,212.1 1194.2,211.3 1194.4,210.5 1194.5,209.6 1194.5,208.8 1194.6,208 1194.5,207.1 1194.4,206.3 1194.3,205.5 1194,204.6 1193.8,203.8 1193.4,203 1193.1,202.1 1192.7,201.3 1192.2,200.5 1191.8,199.6 1191.3,198.8 1190.8,198 1190.2,197.1 1189.7,196.3 1189.1,195.5 1188.5,194.6 1187.9,193.8 1187.4,193 1186.8,192.1 1186.3,191.3 1185.9,190.5 1185.5,189.6 1185.1,188.8 1184.9,188 1184.7,187.1 1184.7,186.3 1184.7,185.5 1184.7,184.6 1184.8,183.8 1184.9,183 1185.1,182.1 1185.2,181.3 1185.3,180.5 1185.3,179.6 1185.3,178.8 1185.3,178 1185.3,177.1 1185.3,176.3 1185.3,175.5 1185.3,174.6 1185.4,173.8 1185.5,173 1185.7,172.1 1186,171.3 1186.4,170.5 1186.9,169.6 1187.4,168.8 1188.1,168 1188.7,167.1 1189.4,166.3" fill="none" stroke="#4a0828" stroke-width="1.4" stroke-linejoin="round"/>
<line x1="1185.3" y1="173.9" x2="1208" y2="173.9" stroke="#4a0828" stroke-width="1.4"/>
<line x1="1184.7" y1="184.7" x2="1208.6" y2="184.7" stroke="#4a0828" stroke-width="1.4"/>
<line x1="1185.9" y1="190.5" x2="1207.4" y2="190.5" stroke="#4a0828" stroke-width="1.4"/>
<text transform="translate(1280 29) scale(1 1.05)" font-size="37" font-weight="bold" fill="#231815">c</text>
<text transform="translate(1662.8 44.6) scale(1 1.07)" font-size="22.7" font-weight="bold" text-anchor="middle">Immune serum: Beta</text>
<line x1="1389.7" y1="75.9" x2="1389.7" y2="284.7" stroke="#000" stroke-width="2"/>
<line x1="1388.7" y1="283.7" x2="1859" y2="283.7" stroke="#000" stroke-width="2"/>
<line x1="1383.2" y1="283.7" x2="1389.7" y2="283.7" stroke="#000" stroke-width="2"/>
<text transform="translate(1382.8 290.2) scale(1 1.05)" font-size="22.2" text-anchor="end">100</text>
<line x1="1385.9" y1="262.9" x2="1389.7" y2="262.9" stroke="#000" stroke-width="1.5"/>
<line x1="1385.9" y1="250.8" x2="1389.7" y2="250.8" stroke="#000" stroke-width="1.5"/>
<line x1="1385.9" y1="242.2" x2="1389.7" y2="242.2" stroke="#000" stroke-width="1.5"/>
<line x1="1385.9" y1="235.5" x2="1389.7" y2="235.5" stroke="#000" stroke-width="1.5"/>
<line x1="1385.9" y1="230.1" x2="1389.7" y2="230.1" stroke="#000" stroke-width="1.5"/>
<line x1="1385.9" y1="225.4" x2="1389.7" y2="225.4" stroke="#000" stroke-width="1.5"/>
<line x1="1385.9" y1="221.4" x2="1389.7" y2="221.4" stroke="#000" stroke-width="1.5"/>
<line x1="1385.9" y1="217.9" x2="1389.7" y2="217.9" stroke="#000" stroke-width="1.5"/>
<line x1="1383.2" y1="214.8" x2="1389.7" y2="214.8" stroke="#000" stroke-width="2"/>
<text transform="translate(1382.8 221.3) scale(1 1.05)" font-size="22.2" text-anchor="end">1000</text>
<line x1="1385.9" y1="194" x2="1389.7" y2="194" stroke="#000" stroke-width="1.5"/>
<line x1="1385.9" y1="181.9" x2="1389.7" y2="181.9" stroke="#000" stroke-width="1.5"/>
<line x1="1385.9" y1="173.3" x2="1389.7" y2="173.3" stroke="#000" stroke-width="1.5"/>
<line x1="1385.9" y1="166.6" x2="1389.7" y2="166.6" stroke="#000" stroke-width="1.5"/>
<line x1="1385.9" y1="161.1" x2="1389.7" y2="161.1" stroke="#000" stroke-width="1.5"/>
<line x1="1385.9" y1="156.5" x2="1389.7" y2="156.5" stroke="#000" stroke-width="1.5"/>
<line x1="1385.9" y1="152.5" x2="1389.7" y2="152.5" stroke="#000" stroke-width="1.5"/>
<line x1="1385.9" y1="149" x2="1389.7" y2="149" stroke="#000" stroke-width="1.5"/>
<line x1="1383.2" y1="145.8" x2="1389.7" y2="145.8" stroke="#000" stroke-width="2"/>
<text transform="translate(1382.8 152.3) scale(1 1.05)" font-size="22.2" text-anchor="end">10000</text>
<line x1="1385.9" y1="125.1" x2="1389.7" y2="125.1" stroke="#000" stroke-width="1.5"/>
<line x1="1385.9" y1="112.9" x2="1389.7" y2="112.9" stroke="#000" stroke-width="1.5"/>
<line x1="1385.9" y1="104.3" x2="1389.7" y2="104.3" stroke="#000" stroke-width="1.5"/>
<line x1="1385.9" y1="97.7" x2="1389.7" y2="97.7" stroke="#000" stroke-width="1.5"/>
<line x1="1385.9" y1="92.2" x2="1389.7" y2="92.2" stroke="#000" stroke-width="1.5"/>
<line x1="1385.9" y1="87.6" x2="1389.7" y2="87.6" stroke="#000" stroke-width="1.5"/>
<line x1="1385.9" y1="83.6" x2="1389.7" y2="83.6" stroke="#000" stroke-width="1.5"/>
<line x1="1385.9" y1="80.1" x2="1389.7" y2="80.1" stroke="#000" stroke-width="1.5"/>
<line x1="1383.2" y1="76.9" x2="1389.7" y2="76.9" stroke="#000" stroke-width="2"/>
<text transform="translate(1382.8 83.4) scale(1 1.05)" font-size="22.2" text-anchor="end">100000</text>
<line x1="1409.6" y1="283.7" x2="1409.6" y2="289.7" stroke="#000" stroke-width="2"/>
<line x1="1448.7" y1="283.7" x2="1448.7" y2="289.7" stroke="#000" stroke-width="2"/>
<line x1="1487.8" y1="283.7" x2="1487.8" y2="289.7" stroke="#000" stroke-width="2"/>
<line x1="1526.9" y1="283.7" x2="1526.9" y2="289.7" stroke="#000" stroke-width="2"/>
<line x1="1566" y1="283.7" x2="1566" y2="289.7" stroke="#000" stroke-width="2"/>
<line x1="1605.1" y1="283.7" x2="1605.1" y2="289.7" stroke="#000" stroke-width="2"/>
<line x1="1644.2" y1="283.7" x2="1644.2" y2="289.7" stroke="#000" stroke-width="2"/>
<line x1="1683.3" y1="283.7" x2="1683.3" y2="289.7" stroke="#000" stroke-width="2"/>
<line x1="1722.4" y1="283.7" x2="1722.4" y2="289.7" stroke="#000" stroke-width="2"/>
<line x1="1761.5" y1="283.7" x2="1761.5" y2="289.7" stroke="#000" stroke-width="2"/>
<line x1="1800.6" y1="283.7" x2="1800.6" y2="289.7" stroke="#000" stroke-width="2"/>
<line x1="1839.7" y1="283.7" x2="1839.7" y2="289.7" stroke="#000" stroke-width="2"/>
<text transform="translate(1417.5 296) rotate(-90) scale(1 1.04)" font-size="22" text-anchor="end">D614G</text>
<text transform="translate(1456.6 296) rotate(-90) scale(1 1.04)" font-size="22" text-anchor="end">B.1.1.7 (Alpha)</text>
<text transform="translate(1495.7 296) rotate(-90) scale(1 1.04)" font-size="22" text-anchor="end">B.1.351 (Beta)</text>
<text transform="translate(1534.8 296) rotate(-90) scale(1 1.04)" font-size="22" text-anchor="end">P.1 (Gamma)</text>
<text transform="translate(1573.9 296) rotate(-90) scale(1 1.04)" font-size="22" text-anchor="end">B.1.617.2 (Delta)</text>
<text transform="translate(1613 296) rotate(-90) scale(1 1.04)" font-size="22" text-anchor="end">B.1.429 (Epsilon)</text>
<text transform="translate(1652.1 296) rotate(-90) scale(1 1.04)" font-size="22" text-anchor="end">P.2 (Zeta)</text>
<text transform="translate(1691.2 296) rotate(-90) scale(1 1.04)" font-size="22" text-anchor="end">B.1.525 (Eta)</text>
<text transform="translate(1730.3 296) rotate(-90) scale(1 1.04)" font-size="22" text-anchor="end">B.1.526 (S477N) (Lota)</text>
<text transform="translate(1769.4 296) rotate(-90) scale(1 1.04)" font-size="22" text-anchor="end">B.1.526 (E484K) (Lota)</text>
<text transform="translate(1808.5 296) rotate(-90) scale(1 1.04)" font-size="22" text-anchor="end">B.1.617.1 (Kappa)</text>
<text transform="translate(1847.6 296) rotate(-90) scale(1 1.04)" font-size="22" text-anchor="end">C.37 (Lamda)</text>
<text transform="translate(1302.5 199.3) rotate(-90) scale(1 1.05)" font-size="22.5" font-weight="bold">ED<tspan font-size="13.2" dy="6.9">50</tspan></text>
<line x1="1391.7" y1="161" x2="1857" y2="161" stroke="#000" stroke-width="2.6" stroke-dasharray="0.01 6.15" stroke-linecap="round"/>
<line x1="1391.7" y1="202.7" x2="1857" y2="202.7" stroke="#000" stroke-width="2.3" stroke-dasharray="3.9 6.3" stroke-linecap="round"/>
<text transform="translate(1865.3 164.8) scale(1 1.03)" font-size="22.4">mean</text>
<text transform="translate(1865.3 207.7) scale(1 1.03)" font-size="22.4">4-fold</text>
<text transform="translate(1624.3 548.8) scale(1 1.07)" font-size="22.5" font-weight="bold" text-anchor="middle">Pseudotyped virus</text>
<circle cx="1409.6" cy="160" r="1.8" fill="#b8603c"/>
<circle cx="1405.8" cy="160" r="1.8" fill="#b8603c"/>
<circle cx="1413.4" cy="160.5" r="1.8" fill="#b8603c"/>
<circle cx="1402" cy="161" r="1.8" fill="#b8603c"/>
<circle cx="1417.2" cy="161.5" r="1.8" fill="#b8603c"/>
<circle cx="1409.6" cy="166" r="1.8" fill="#b8603c"/>
<circle cx="1409.6" cy="177.5" r="1.8" fill="#b8603c"/>
<circle cx="1409.6" cy="188" r="1.8" fill="#b8603c"/>
<circle cx="1409.6" cy="200" r="1.8" fill="#b8603c"/>
<circle cx="1409.6" cy="208.1" r="1.8" fill="#b8603c"/>
<polygon points="1421.3,160 1421.5,160.8 1421.6,161.6 1421.5,162.4 1421.4,163.2 1421.1,164 1420.7,164.8 1420.3,165.6 1419.8,166.4 1419.2,167.2 1418.6,168 1418,168.8 1417.5,169.6 1416.9,170.4 1416.4,171.2 1415.9,172 1415.4,172.8 1415,173.6 1414.6,174.4 1414.3,175.2 1414.1,176 1413.9,176.8 1413.7,177.6 1413.6,178.4 1413.4,179.2 1413.4,180 1413.3,180.8 1413.2,181.6 1413.2,182.4 1413.1,183.2 1413.1,184.1 1413.1,184.9 1413.1,185.7 1413,186.5 1413,187.3 1413,188.1 1413,188.9 1413,189.7 1413,190.5 1413,191.3 1413,192.1 1413,192.9 1413,193.7 1413,194.5 1413.1,195.3 1413.1,196.1 1413.1,196.9 1413.2,197.7 1413.2,198.5 1413.3,199.3 1413.3,200.1 1413.3,200.9 1413.4,201.7 1413.4,202.5 1413.3,203.3 1413.3,204.1 1413.2,204.9 1413.2,205.7 1413.1,206.5 1412.9,207.3 1412.8,208.1 1406.4,208.1 1406.3,207.3 1406.1,206.5 1406,205.7 1406,204.9 1405.9,204.1 1405.9,203.3 1405.8,202.5 1405.8,201.7 1405.9,200.9 1405.9,200.1 1405.9,199.3 1406,198.5 1406,197.7 1406.1,196.9 1406.1,196.1 1406.1,195.3 1406.2,194.5 1406.2,193.7 1406.2,192.9 1406.2,192.1 1406.2,191.3 1406.2,190.5 1406.2,189.7 1406.2,188.9 1406.2,188.1 1406.2,187.3 1406.2,186.5 1406.1,185.7 1406.1,184.9 1406.1,184.1 1406.1,183.2 1406,182.4 1406,181.6 1405.9,180.8 1405.8,180 1405.8,179.2 1405.6,178.4 1405.5,177.6 1405.3,176.8 1405.1,176 1404.9,175.2 1404.6,174.4 1404.2,173.6 1403.8,172.8 1403.3,172 1402.8,171.2 1402.3,170.4 1401.7,169.6 1401.2,168.8 1400.6,168 1400,167.2 1399.4,166.4 1398.9,165.6 1398.5,164.8 1398.1,164 1397.8,163.2 1397.7,162.4 1397.6,161.6 1397.7,160.8 1397.9,160" fill="none" stroke="#7a2a0a" stroke-width="1.4" stroke-linejoin="round"/>
<line x1="1397.7" y1="160.6" x2="1421.5" y2="160.6" stroke="#7a2a0a" stroke-width="1.4"/>
<line x1="1398" y1="163.8" x2="1421.2" y2="163.8" stroke="#7a2a0a" stroke-width="1.4"/>
<line x1="1406.1" y1="185.4" x2="1413.1" y2="185.4" stroke="#7a2a0a" stroke-width="1.4"/>
<circle cx="1448.7" cy="169.4" r="1.8" fill="#a83868"/>
<circle cx="1448.7" cy="173.8" r="1.8" fill="#a83868"/>
<circle cx="1448.7" cy="186" r="1.8" fill="#a83868"/>
<circle cx="1444.9" cy="188.1" r="1.8" fill="#a83868"/>
<circle cx="1448.7" cy="190" r="1.8" fill="#a83868"/>
<circle cx="1448.7" cy="197.5" r="1.8" fill="#a83868"/>
<circle cx="1448.7" cy="205" r="1.8" fill="#a83868"/>
<circle cx="1448.7" cy="215" r="1.8" fill="#a83868"/>
<circle cx="1444.9" cy="216.3" r="1.8" fill="#a83868"/>
<circle cx="1452.5" cy="217.5" r="1.8" fill="#a83868"/>
<circle cx="1448.7" cy="218.8" r="1.8" fill="#a83868"/>
<polygon points="1454.2,169.4 1454.4,170.2 1454.6,171 1454.8,171.9 1454.9,172.7 1455.1,173.5 1455.2,174.3 1455.3,175.2 1455.3,176 1455.5,176.8 1455.6,177.6 1455.8,178.5 1456,179.3 1456.2,180.1 1456.5,180.9 1456.8,181.8 1457.1,182.6 1457.4,183.4 1457.7,184.2 1458,185 1458.3,185.9 1458.5,186.7 1458.7,187.5 1458.8,188.3 1458.9,189.2 1458.9,190 1458.8,190.8 1458.7,191.6 1458.5,192.5 1458.3,193.3 1458.1,194.1 1457.8,194.9 1457.5,195.7 1457.3,196.6 1457,197.4 1456.8,198.2 1456.6,199 1456.4,199.9 1456.3,200.7 1456.2,201.5 1456.2,202.3 1456.2,203.2 1456.3,204 1456.5,204.8 1456.7,205.6 1456.9,206.5 1457.3,207.3 1457.6,208.1 1458,208.9 1458.5,209.7 1458.9,210.6 1459.3,211.4 1459.8,212.2 1460.1,213 1460.4,213.9 1460.6,214.7 1460.7,215.5 1460.7,216.3 1460.6,217.2 1460.3,218 1459.9,218.8 1437.5,218.8 1437.1,218 1436.8,217.2 1436.7,216.3 1436.7,215.5 1436.8,214.7 1437,213.9 1437.3,213 1437.6,212.2 1438.1,211.4 1438.5,210.6 1438.9,209.7 1439.4,208.9 1439.8,208.1 1440.1,207.3 1440.5,206.5 1440.7,205.6 1440.9,204.8 1441.1,204 1441.2,203.2 1441.2,202.3 1441.2,201.5 1441.1,200.7 1441,199.9 1440.8,199 1440.6,198.2 1440.4,197.4 1440.1,196.6 1439.9,195.7 1439.6,194.9 1439.3,194.1 1439.1,193.3 1438.9,192.5 1438.7,191.6 1438.6,190.8 1438.5,190 1438.5,189.2 1438.6,188.3 1438.7,187.5 1438.9,186.7 1439.1,185.9 1439.4,185 1439.7,184.2 1440,183.4 1440.3,182.6 1440.6,181.8 1440.9,180.9 1441.2,180.1 1441.4,179.3 1441.6,178.5 1441.8,177.6 1441.9,176.8 1442.1,176 1442.1,175.2 1442.2,174.3 1442.3,173.5 1442.5,172.7 1442.6,171.9 1442.8,171 1443,170.2 1443.2,169.4" fill="none" stroke="#4a0a28" stroke-width="1.4" stroke-linejoin="round"/>
<line x1="1438.8" y1="187.1" x2="1458.6" y2="187.1" stroke="#4a0a28" stroke-width="1.4"/>
<line x1="1440.4" y1="197.5" x2="1457" y2="197.5" stroke="#4a0a28" stroke-width="1.4"/>
<line x1="1436.7" y1="215.7" x2="1460.7" y2="215.7" stroke="#4a0a28" stroke-width="1.4"/>
<circle cx="1487.8" cy="132.5" r="1.8" fill="#5a8a28"/>
<circle cx="1487.8" cy="146.3" r="1.8" fill="#5a8a28"/>
<circle cx="1484" cy="147" r="1.8" fill="#5a8a28"/>
<circle cx="1491.6" cy="148.8" r="1.8" fill="#5a8a28"/>
<circle cx="1487.8" cy="166.9" r="1.8" fill="#5a8a28"/>
<circle cx="1484" cy="167.5" r="1.8" fill="#5a8a28"/>
<circle cx="1491.6" cy="168.8" r="1.8" fill="#5a8a28"/>
<circle cx="1480.2" cy="169.5" r="1.8" fill="#5a8a28"/>
<circle cx="1487.8" cy="177.5" r="1.8" fill="#5a8a28"/>
<circle cx="1487.8" cy="181.3" r="1.8" fill="#5a8a28"/>
<polygon points="1491,132.5 1491.2,133.3 1491.3,134.1 1491.5,134.9 1491.7,135.8 1491.9,136.6 1492.2,137.4 1492.5,138.2 1492.8,139 1493.2,139.8 1493.6,140.6 1494,141.4 1494.4,142.3 1494.8,143.1 1495.2,143.9 1495.5,144.7 1495.7,145.5 1495.9,146.3 1495.9,147.1 1495.9,148 1495.7,148.8 1495.5,149.6 1495.1,150.4 1494.8,151.2 1494.4,152 1493.9,152.8 1493.5,153.6 1493.2,154.5 1493,155.3 1492.8,156.1 1492.7,156.9 1492.8,157.7 1493,158.5 1493.4,159.3 1493.8,160.2 1494.4,161 1495,161.8 1495.7,162.6 1496.4,163.4 1497.1,164.2 1497.8,165 1498.4,165.8 1498.9,166.7 1499.3,167.5 1499.6,168.3 1499.8,169.1 1499.8,169.9 1499.7,170.7 1499.5,171.5 1499.2,172.4 1498.9,173.2 1498.5,174 1498,174.8 1497.5,175.6 1497.1,176.4 1496.6,177.2 1496,178 1495.5,178.9 1495,179.7 1494.5,180.5 1494,181.3 1481.6,181.3 1481.1,180.5 1480.6,179.7 1480.1,178.9 1479.6,178 1479,177.2 1478.5,176.4 1478.1,175.6 1477.6,174.8 1477.1,174 1476.7,173.2 1476.4,172.4 1476.1,171.5 1475.9,170.7 1475.8,169.9 1475.8,169.1 1476,168.3 1476.3,167.5 1476.7,166.7 1477.2,165.8 1477.8,165 1478.5,164.2 1479.2,163.4 1479.9,162.6 1480.6,161.8 1481.2,161 1481.8,160.2 1482.2,159.3 1482.6,158.5 1482.8,157.7 1482.9,156.9 1482.8,156.1 1482.6,155.3 1482.4,154.5 1482.1,153.6 1481.7,152.8 1481.2,152 1480.8,151.2 1480.5,150.4 1480.1,149.6 1479.9,148.8 1479.7,148 1479.7,147.1 1479.7,146.3 1479.9,145.5 1480.1,144.7 1480.4,143.9 1480.8,143.1 1481.2,142.3 1481.6,141.4 1482,140.6 1482.4,139.8 1482.8,139 1483.1,138.2 1483.4,137.4 1483.7,136.6 1483.9,135.8 1484.1,134.9 1484.3,134.1 1484.4,133.3 1484.6,132.5" fill="none" stroke="#2a4a0a" stroke-width="1.4" stroke-linejoin="round"/>
<line x1="1479.7" y1="147.4" x2="1495.9" y2="147.4" stroke="#2a4a0a" stroke-width="1.4"/>
<line x1="1476.4" y1="167.2" x2="1499.2" y2="167.2" stroke="#2a4a0a" stroke-width="1.4"/>
<line x1="1475.8" y1="169.3" x2="1499.8" y2="169.3" stroke="#2a4a0a" stroke-width="1.4"/>
<circle cx="1526.9" cy="129.4" r="1.8" fill="#2a8a68"/>
<circle cx="1526.9" cy="140" r="1.8" fill="#2a8a68"/>
<circle cx="1526.9" cy="148.8" r="1.8" fill="#2a8a68"/>
<circle cx="1523.1" cy="150.6" r="1.8" fill="#2a8a68"/>
<circle cx="1526.9" cy="158.1" r="1.8" fill="#2a8a68"/>
<circle cx="1526.9" cy="162.5" r="1.8" fill="#2a8a68"/>
<circle cx="1526.9" cy="168.8" r="1.8" fill="#2a8a68"/>
<circle cx="1523.1" cy="170.6" r="1.8" fill="#2a8a68"/>
<circle cx="1526.9" cy="191.3" r="1.8" fill="#2a8a68"/>
<circle cx="1526.9" cy="197.5" r="1.8" fill="#2a8a68"/>
<polygon points="1531.6,129.4 1532,130.5 1532.3,131.7 1532.7,132.8 1533,133.9 1533.3,135.1 1533.6,136.2 1534,137.3 1534.3,138.5 1534.7,139.6 1535.1,140.8 1535.4,141.9 1535.8,143 1536.2,144.2 1536.6,145.3 1536.9,146.4 1537.2,147.6 1537.5,148.7 1537.8,149.8 1538.1,151 1538.3,152.1 1538.4,153.2 1538.6,154.4 1538.7,155.5 1538.8,156.6 1538.9,157.8 1538.9,158.9 1538.9,160 1538.8,161.2 1538.7,162.3 1538.6,163.4 1538.4,164.6 1538.1,165.7 1537.8,166.9 1537.4,168 1536.9,169.1 1536.4,170.3 1535.8,171.4 1535.2,172.5 1534.6,173.7 1534,174.8 1533.4,175.9 1532.9,177.1 1532.5,178.2 1532.1,179.3 1531.8,180.5 1531.6,181.6 1531.5,182.7 1531.5,183.9 1531.5,185 1531.7,186.2 1531.8,187.3 1532,188.4 1532.2,189.6 1532.4,190.7 1532.5,191.8 1532.6,193 1532.6,194.1 1532.5,195.2 1532.4,196.4 1532.2,197.5 1521.6,197.5 1521.4,196.4 1521.3,195.2 1521.2,194.1 1521.2,193 1521.3,191.8 1521.4,190.7 1521.6,189.6 1521.8,188.4 1522,187.3 1522.1,186.2 1522.3,185 1522.3,183.9 1522.3,182.7 1522.2,181.6 1522,180.5 1521.7,179.3 1521.3,178.2 1520.9,177.1 1520.4,175.9 1519.8,174.8 1519.2,173.7 1518.6,172.5 1518,171.4 1517.4,170.3 1516.9,169.1 1516.4,168 1516,166.9 1515.7,165.7 1515.4,164.6 1515.2,163.4 1515.1,162.3 1515,161.2 1514.9,160 1514.9,158.9 1514.9,157.8 1515,156.6 1515.1,155.5 1515.2,154.4 1515.4,153.2 1515.5,152.1 1515.7,151 1516,149.8 1516.3,148.7 1516.6,147.6 1516.9,146.4 1517.2,145.3 1517.6,144.2 1518,143 1518.4,141.9 1518.7,140.8 1519.1,139.6 1519.5,138.5 1519.8,137.3 1520.2,136.2 1520.5,135.1 1520.8,133.9 1521.1,132.8 1521.5,131.7 1521.8,130.5 1522.2,129.4" fill="none" stroke="#0a3a28" stroke-width="1.4" stroke-linejoin="round"/>
<line x1="1516.1" y1="149.2" x2="1537.7" y2="149.2" stroke="#0a3a28" stroke-width="1.4"/>
<line x1="1514.9" y1="160.3" x2="1538.9" y2="160.3" stroke="#0a3a28" stroke-width="1.4"/>
<line x1="1517.4" y1="170.1" x2="1536.4" y2="170.1" stroke="#0a3a28" stroke-width="1.4"/>
<circle cx="1566" cy="181.9" r="1.8" fill="#3a68a8"/>
<circle cx="1562.2" cy="183" r="1.8" fill="#3a68a8"/>
<circle cx="1569.8" cy="185" r="1.8" fill="#3a68a8"/>
<circle cx="1566" cy="186" r="1.8" fill="#3a68a8"/>
<circle cx="1562.2" cy="188.1" r="1.8" fill="#3a68a8"/>
<circle cx="1566" cy="191.9" r="1.8" fill="#3a68a8"/>
<circle cx="1566" cy="209.4" r="1.8" fill="#3a68a8"/>
<circle cx="1562.2" cy="210.6" r="1.8" fill="#3a68a8"/>
<circle cx="1569.8" cy="212" r="1.8" fill="#3a68a8"/>
<circle cx="1566" cy="220" r="1.8" fill="#3a68a8"/>
<polygon points="1576.2,181.9 1576.8,182.5 1577.2,183.2 1577.6,183.8 1577.8,184.4 1578,185.1 1578,185.7 1577.9,186.3 1577.8,187 1577.5,187.6 1577.2,188.2 1576.7,188.9 1576.2,189.5 1575.7,190.2 1575.1,190.8 1574.5,191.4 1573.8,192.1 1573.2,192.7 1572.6,193.3 1572,194 1571.4,194.6 1570.8,195.2 1570.4,195.9 1569.9,196.5 1569.6,197.1 1569.3,197.8 1569,198.4 1568.9,199 1568.8,199.7 1568.8,200.3 1568.8,200.9 1569,201.6 1569.2,202.2 1569.4,202.9 1569.7,203.5 1570.1,204.1 1570.5,204.8 1570.9,205.4 1571.3,206 1571.7,206.7 1572.1,207.3 1572.5,207.9 1572.8,208.6 1573.1,209.2 1573.3,209.8 1573.5,210.5 1573.5,211.1 1573.6,211.7 1573.5,212.4 1573.4,213 1573.3,213.7 1573.1,214.3 1572.9,214.9 1572.6,215.6 1572.3,216.2 1572,216.8 1571.6,217.5 1571.3,218.1 1571,218.7 1570.6,219.4 1570.3,220 1561.7,220 1561.4,219.4 1561,218.7 1560.7,218.1 1560.4,217.5 1560,216.8 1559.7,216.2 1559.4,215.6 1559.1,214.9 1558.9,214.3 1558.7,213.7 1558.6,213 1558.5,212.4 1558.4,211.7 1558.5,211.1 1558.5,210.5 1558.7,209.8 1558.9,209.2 1559.2,208.6 1559.5,207.9 1559.9,207.3 1560.3,206.7 1560.7,206 1561.1,205.4 1561.5,204.8 1561.9,204.1 1562.3,203.5 1562.6,202.9 1562.8,202.2 1563,201.6 1563.2,200.9 1563.2,200.3 1563.2,199.7 1563.1,199 1563,198.4 1562.7,197.8 1562.4,197.1 1562.1,196.5 1561.6,195.9 1561.2,195.2 1560.6,194.6 1560,194 1559.4,193.3 1558.8,192.7 1558.2,192.1 1557.5,191.4 1556.9,190.8 1556.3,190.2 1555.8,189.5 1555.3,188.9 1554.8,188.2 1554.5,187.6 1554.2,187 1554.1,186.3 1554,185.7 1554,185.1 1554.2,184.4 1554.4,183.8 1554.8,183.2 1555.2,182.5 1555.8,181.9" fill="none" stroke="#0a2050" stroke-width="1.4" stroke-linejoin="round"/>
<line x1="1554" y1="185.2" x2="1578" y2="185.2" stroke="#0a2050" stroke-width="1.4"/>
<line x1="1556.2" y1="190" x2="1575.8" y2="190" stroke="#0a2050" stroke-width="1.4"/>
<line x1="1558.6" y1="210.3" x2="1573.4" y2="210.3" stroke="#0a2050" stroke-width="1.4"/>
<circle cx="1605.1" cy="150" r="1.8" fill="#f88838"/>
<circle cx="1601.3" cy="150.5" r="1.8" fill="#f88838"/>
<circle cx="1608.9" cy="151" r="1.8" fill="#f88838"/>
<circle cx="1597.5" cy="153.1" r="1.8" fill="#f88838"/>
<circle cx="1605.1" cy="157.5" r="1.8" fill="#f88838"/>
<circle cx="1605.1" cy="161.3" r="1.8" fill="#f88838"/>
<circle cx="1605.1" cy="166.3" r="1.8" fill="#f88838"/>
<circle cx="1605.1" cy="173.8" r="1.8" fill="#f88838"/>
<circle cx="1601.3" cy="176.9" r="1.8" fill="#f88838"/>
<circle cx="1605.1" cy="185" r="1.8" fill="#f88838"/>
<polygon points="1616.1,150 1616.5,150.6 1616.8,151.2 1617,151.8 1617.1,152.3 1617.1,152.9 1617,153.5 1616.8,154.1 1616.6,154.7 1616.3,155.2 1616,155.8 1615.7,156.4 1615.3,157 1614.9,157.6 1614.6,158.2 1614.2,158.8 1613.9,159.3 1613.5,159.9 1613.2,160.5 1613,161.1 1612.7,161.7 1612.4,162.2 1612.2,162.8 1612,163.4 1611.8,164 1611.6,164.6 1611.4,165.2 1611.3,165.8 1611.1,166.3 1611,166.9 1610.9,167.5 1610.8,168.1 1610.8,168.7 1610.8,169.2 1610.8,169.8 1610.8,170.4 1610.8,171 1610.9,171.6 1610.9,172.2 1611,172.8 1611,173.3 1611.1,173.9 1611.1,174.5 1611.1,175.1 1611,175.7 1611,176.2 1610.9,176.8 1610.8,177.4 1610.7,178 1610.5,178.6 1610.4,179.2 1610.2,179.8 1610,180.3 1609.9,180.9 1609.7,181.5 1609.5,182.1 1609.3,182.7 1609.2,183.2 1609,183.8 1608.8,184.4 1608.6,185 1601.6,185 1601.4,184.4 1601.2,183.8 1601,183.2 1600.9,182.7 1600.7,182.1 1600.5,181.5 1600.3,180.9 1600.2,180.3 1600,179.8 1599.8,179.2 1599.7,178.6 1599.5,178 1599.4,177.4 1599.3,176.8 1599.2,176.2 1599.2,175.7 1599.1,175.1 1599.1,174.5 1599.1,173.9 1599.2,173.3 1599.2,172.8 1599.3,172.2 1599.3,171.6 1599.4,171 1599.4,170.4 1599.4,169.8 1599.4,169.2 1599.4,168.7 1599.4,168.1 1599.3,167.5 1599.2,166.9 1599.1,166.3 1598.9,165.8 1598.8,165.2 1598.6,164.6 1598.4,164 1598.2,163.4 1598,162.8 1597.8,162.2 1597.5,161.7 1597.2,161.1 1597,160.5 1596.7,159.9 1596.3,159.3 1596,158.8 1595.6,158.2 1595.3,157.6 1594.9,157 1594.5,156.4 1594.2,155.8 1593.9,155.2 1593.6,154.7 1593.4,154.1 1593.2,153.5 1593.1,152.9 1593.1,152.3 1593.2,151.8 1593.4,151.2 1593.7,150.6 1594.1,150" fill="none" stroke="#c05838" stroke-width="1.4" stroke-linejoin="round"/>
<line x1="1593.3" y1="151.5" x2="1616.9" y2="151.5" stroke="#c05838" stroke-width="1.4"/>
<line x1="1596.4" y1="159.4" x2="1613.8" y2="159.4" stroke="#c05838" stroke-width="1.4"/>
<line x1="1599.3" y1="171.9" x2="1610.9" y2="171.9" stroke="#c05838" stroke-width="1.4"/>
<circle cx="1644.2" cy="158.8" r="1.8" fill="#e07898"/>
<circle cx="1640.4" cy="159.5" r="1.8" fill="#e07898"/>
<circle cx="1644.2" cy="162.5" r="1.8" fill="#e07898"/>
<circle cx="1644.2" cy="166.9" r="1.8" fill="#e07898"/>
<circle cx="1644.2" cy="176.3" r="1.8" fill="#e07898"/>
<circle cx="1644.2" cy="181.9" r="1.8" fill="#e07898"/>
<circle cx="1640.4" cy="185" r="1.8" fill="#e07898"/>
<circle cx="1644.2" cy="188.1" r="1.8" fill="#e07898"/>
<circle cx="1644.2" cy="192.5" r="1.8" fill="#e07898"/>
<circle cx="1640.4" cy="195.6" r="1.8" fill="#e07898"/>
<circle cx="1644.2" cy="202.5" r="1.8" fill="#e07898"/>
<polygon points="1654.2,158.8 1654.6,159.5 1654.9,160.3 1655.1,161 1655.2,161.7 1655.1,162.4 1655,163.2 1654.8,163.9 1654.6,164.6 1654.2,165.4 1653.9,166.1 1653.5,166.8 1653.1,167.5 1652.7,168.3 1652.3,169 1652,169.7 1651.8,170.5 1651.6,171.2 1651.5,171.9 1651.4,172.6 1651.4,173.4 1651.5,174.1 1651.7,174.8 1651.9,175.6 1652.2,176.3 1652.5,177 1652.8,177.7 1653.1,178.5 1653.5,179.2 1653.9,179.9 1654.3,180.7 1654.6,181.4 1654.9,182.1 1655.2,182.8 1655.5,183.6 1655.7,184.3 1655.9,185 1656.1,185.7 1656.1,186.5 1656.2,187.2 1656.2,187.9 1656.2,188.7 1656.1,189.4 1655.9,190.1 1655.8,190.8 1655.6,191.6 1655.3,192.3 1655.1,193 1654.8,193.8 1654.4,194.5 1654.1,195.2 1653.7,195.9 1653.3,196.7 1652.9,197.4 1652.5,198.1 1652.1,198.9 1651.7,199.6 1651.2,200.3 1650.8,201 1650.3,201.8 1649.9,202.5 1638.5,202.5 1638.1,201.8 1637.6,201 1637.2,200.3 1636.7,199.6 1636.3,198.9 1635.9,198.1 1635.5,197.4 1635.1,196.7 1634.7,195.9 1634.3,195.2 1634,194.5 1633.6,193.8 1633.3,193 1633.1,192.3 1632.8,191.6 1632.6,190.8 1632.5,190.1 1632.3,189.4 1632.2,188.7 1632.2,187.9 1632.2,187.2 1632.3,186.5 1632.3,185.7 1632.5,185 1632.7,184.3 1632.9,183.6 1633.2,182.8 1633.5,182.1 1633.8,181.4 1634.1,180.7 1634.5,179.9 1634.9,179.2 1635.3,178.5 1635.6,177.7 1635.9,177 1636.2,176.3 1636.5,175.6 1636.7,174.8 1636.9,174.1 1637,173.4 1637,172.6 1636.9,171.9 1636.8,171.2 1636.6,170.5 1636.4,169.7 1636.1,169 1635.7,168.3 1635.3,167.5 1634.9,166.8 1634.5,166.1 1634.2,165.4 1633.8,164.6 1633.6,163.9 1633.4,163.2 1633.3,162.4 1633.2,161.7 1633.3,161 1633.5,160.3 1633.8,159.5 1634.2,158.8" fill="none" stroke="#a0245a" stroke-width="1.4" stroke-linejoin="round"/>
<line x1="1633.9" y1="164.7" x2="1654.5" y2="164.7" stroke="#a0245a" stroke-width="1.4"/>
<line x1="1633.6" y1="181.9" x2="1654.8" y2="181.9" stroke="#a0245a" stroke-width="1.4"/>
<line x1="1632.5" y1="190.3" x2="1655.9" y2="190.3" stroke="#a0245a" stroke-width="1.4"/>
<circle cx="1683.3" cy="163.1" r="1.8" fill="#aab868"/>
<circle cx="1679.5" cy="164" r="1.8" fill="#aab868"/>
<circle cx="1683.3" cy="167.5" r="1.8" fill="#aab868"/>
<circle cx="1683.3" cy="174.4" r="1.8" fill="#aab868"/>
<circle cx="1683.3" cy="189.4" r="1.8" fill="#aab868"/>
<circle cx="1679.5" cy="191.9" r="1.8" fill="#aab868"/>
<circle cx="1683.3" cy="198.1" r="1.8" fill="#aab868"/>
<circle cx="1679.5" cy="199.4" r="1.8" fill="#aab868"/>
<circle cx="1687.1" cy="201" r="1.8" fill="#aab868"/>
<circle cx="1683.3" cy="204.4" r="1.8" fill="#aab868"/>
<polygon points="1691.2,163.1 1691.5,163.8 1691.7,164.5 1691.8,165.2 1691.9,165.9 1691.9,166.5 1691.8,167.2 1691.7,167.9 1691.6,168.6 1691.4,169.3 1691.1,170 1690.8,170.7 1690.5,171.4 1690.2,172 1689.9,172.7 1689.5,173.4 1689.2,174.1 1688.9,174.8 1688.6,175.5 1688.3,176.2 1688,176.9 1687.8,177.6 1687.6,178.2 1687.5,178.9 1687.4,179.6 1687.3,180.3 1687.4,181 1687.4,181.7 1687.5,182.4 1687.7,183.1 1688,183.8 1688.2,184.4 1688.6,185.1 1688.9,185.8 1689.3,186.5 1689.7,187.2 1690.2,187.9 1690.7,188.6 1691.1,189.3 1691.6,189.9 1692.1,190.6 1692.5,191.3 1693,192 1693.4,192.7 1693.8,193.4 1694.2,194.1 1694.5,194.8 1694.8,195.5 1695,196.1 1695.2,196.8 1695.3,197.5 1695.3,198.2 1695.3,198.9 1695.2,199.6 1695,200.3 1694.7,201 1694.4,201.6 1694,202.3 1693.5,203 1693,203.7 1692.5,204.4 1674.1,204.4 1673.6,203.7 1673.1,203 1672.6,202.3 1672.2,201.6 1671.9,201 1671.6,200.3 1671.4,199.6 1671.3,198.9 1671.3,198.2 1671.3,197.5 1671.4,196.8 1671.6,196.1 1671.8,195.5 1672.1,194.8 1672.4,194.1 1672.8,193.4 1673.2,192.7 1673.6,192 1674.1,191.3 1674.5,190.6 1675,189.9 1675.5,189.3 1675.9,188.6 1676.4,187.9 1676.9,187.2 1677.3,186.5 1677.7,185.8 1678,185.1 1678.4,184.4 1678.6,183.8 1678.9,183.1 1679.1,182.4 1679.2,181.7 1679.2,181 1679.3,180.3 1679.2,179.6 1679.1,178.9 1679,178.2 1678.8,177.6 1678.6,176.9 1678.3,176.2 1678,175.5 1677.7,174.8 1677.4,174.1 1677.1,173.4 1676.7,172.7 1676.4,172 1676.1,171.4 1675.8,170.7 1675.5,170 1675.2,169.3 1675,168.6 1674.9,167.9 1674.8,167.2 1674.7,166.5 1674.7,165.9 1674.8,165.2 1674.9,164.5 1675.1,163.8 1675.4,163.1" fill="none" stroke="#5a8420" stroke-width="1.4" stroke-linejoin="round"/>
<line x1="1675.2" y1="169.2" x2="1691.4" y2="169.2" stroke="#5a8420" stroke-width="1.4"/>
<line x1="1674.5" y1="190.7" x2="1692.1" y2="190.7" stroke="#5a8420" stroke-width="1.4"/>
<line x1="1671.4" y1="199.1" x2="1695.2" y2="199.1" stroke="#5a8420" stroke-width="1.4"/>
<circle cx="1722.4" cy="170" r="1.8" fill="#60c8b0"/>
<circle cx="1722.4" cy="177.5" r="1.8" fill="#60c8b0"/>
<circle cx="1718.6" cy="179" r="1.8" fill="#60c8b0"/>
<circle cx="1726.2" cy="180.6" r="1.8" fill="#60c8b0"/>
<circle cx="1722.4" cy="193.1" r="1.8" fill="#60c8b0"/>
<circle cx="1718.6" cy="194.5" r="1.8" fill="#60c8b0"/>
<circle cx="1726.2" cy="196.3" r="1.8" fill="#60c8b0"/>
<circle cx="1722.4" cy="197.5" r="1.8" fill="#60c8b0"/>
<circle cx="1722.4" cy="212.5" r="1.8" fill="#60c8b0"/>
<circle cx="1722.4" cy="219.4" r="1.8" fill="#60c8b0"/>
<polygon points="1728.7,170 1729.3,170.8 1729.9,171.6 1730.4,172.5 1731,173.3 1731.4,174.1 1731.9,174.9 1732.2,175.8 1732.5,176.6 1732.7,177.4 1732.8,178.2 1732.8,179.1 1732.7,179.9 1732.5,180.7 1732.3,181.5 1732.1,182.3 1731.9,183.2 1731.7,184 1731.6,184.8 1731.5,185.6 1731.6,186.5 1731.7,187.3 1731.9,188.1 1732.3,188.9 1732.6,189.8 1733,190.6 1733.4,191.4 1733.8,192.2 1734.1,193.1 1734.3,193.9 1734.4,194.7 1734.4,195.5 1734.2,196.3 1733.8,197.2 1733.4,198 1732.8,198.8 1732.2,199.6 1731.5,200.5 1730.7,201.3 1730,202.1 1729.3,202.9 1728.7,203.8 1728.2,204.6 1727.8,205.4 1727.4,206.2 1727.2,207.1 1727.1,207.9 1727,208.7 1727,209.5 1727.1,210.3 1727.2,211.2 1727.3,212 1727.4,212.8 1727.5,213.6 1727.6,214.5 1727.6,215.3 1727.6,216.1 1727.6,216.9 1727.4,217.8 1727.3,218.6 1727,219.4 1717.8,219.4 1717.5,218.6 1717.4,217.8 1717.2,216.9 1717.2,216.1 1717.2,215.3 1717.2,214.5 1717.3,213.6 1717.4,212.8 1717.5,212 1717.6,211.2 1717.7,210.3 1717.8,209.5 1717.8,208.7 1717.7,207.9 1717.6,207.1 1717.4,206.2 1717,205.4 1716.6,204.6 1716.1,203.8 1715.5,202.9 1714.8,202.1 1714.1,201.3 1713.3,200.5 1712.6,199.6 1712,198.8 1711.4,198 1711,197.2 1710.6,196.3 1710.4,195.5 1710.4,194.7 1710.5,193.9 1710.7,193.1 1711,192.2 1711.4,191.4 1711.8,190.6 1712.2,189.8 1712.5,188.9 1712.9,188.1 1713.1,187.3 1713.2,186.5 1713.3,185.6 1713.2,184.8 1713.1,184 1712.9,183.2 1712.7,182.3 1712.5,181.5 1712.3,180.7 1712.1,179.9 1712,179.1 1712,178.2 1712.1,177.4 1712.3,176.6 1712.6,175.8 1712.9,174.9 1713.4,174.1 1713.8,173.3 1714.4,172.5 1714.9,171.6 1715.5,170.8 1716.1,170" fill="none" stroke="#2a8a70" stroke-width="1.4" stroke-linejoin="round"/>
<line x1="1712.1" y1="179.4" x2="1732.7" y2="179.4" stroke="#2a8a70" stroke-width="1.4"/>
<line x1="1710.5" y1="193.8" x2="1734.3" y2="193.8" stroke="#2a8a70" stroke-width="1.4"/>
<line x1="1711" y1="197.2" x2="1733.8" y2="197.2" stroke="#2a8a70" stroke-width="1.4"/>
<circle cx="1761.5" cy="168.1" r="1.8" fill="#80a8e0"/>
<circle cx="1761.5" cy="172.5" r="1.8" fill="#80a8e0"/>
<circle cx="1761.5" cy="178" r="1.8" fill="#80a8e0"/>
<circle cx="1761.5" cy="181.9" r="1.8" fill="#80a8e0"/>
<circle cx="1761.5" cy="185.6" r="1.8" fill="#80a8e0"/>
<circle cx="1757.7" cy="188.8" r="1.8" fill="#80a8e0"/>
<circle cx="1761.5" cy="202.5" r="1.8" fill="#80a8e0"/>
<circle cx="1757.7" cy="205" r="1.8" fill="#80a8e0"/>
<circle cx="1761.5" cy="206.3" r="1.8" fill="#80a8e0"/>
<circle cx="1765.3" cy="207.5" r="1.8" fill="#80a8e0"/>
<polygon points="1768,168.1 1768.4,168.8 1768.8,169.4 1769.2,170.1 1769.5,170.7 1769.8,171.4 1770.1,172 1770.4,172.7 1770.6,173.4 1770.8,174 1771,174.7 1771.2,175.3 1771.4,176 1771.6,176.6 1771.8,177.3 1771.9,177.9 1772.1,178.6 1772.2,179.3 1772.3,179.9 1772.4,180.6 1772.4,181.2 1772.4,181.9 1772.4,182.5 1772.3,183.2 1772.2,183.9 1772.1,184.5 1771.8,185.2 1771.6,185.8 1771.3,186.5 1770.9,187.1 1770.6,187.8 1770.2,188.5 1769.8,189.1 1769.3,189.8 1768.9,190.4 1768.6,191.1 1768.2,191.7 1767.9,192.4 1767.7,193.1 1767.6,193.7 1767.5,194.4 1767.6,195 1767.7,195.7 1767.9,196.3 1768.2,197 1768.6,197.7 1769.1,198.3 1769.6,199 1770.1,199.6 1770.7,200.3 1771.3,200.9 1771.8,201.6 1772.3,202.2 1772.8,202.9 1773.1,203.6 1773.4,204.2 1773.5,204.9 1773.5,205.5 1773.4,206.2 1773.1,206.8 1772.8,207.5 1750.2,207.5 1749.9,206.8 1749.6,206.2 1749.5,205.5 1749.5,204.9 1749.6,204.2 1749.9,203.6 1750.2,202.9 1750.7,202.2 1751.2,201.6 1751.7,200.9 1752.3,200.3 1752.9,199.6 1753.4,199 1753.9,198.3 1754.4,197.7 1754.8,197 1755.1,196.3 1755.3,195.7 1755.4,195 1755.5,194.4 1755.4,193.7 1755.3,193.1 1755.1,192.4 1754.8,191.7 1754.4,191.1 1754.1,190.4 1753.7,189.8 1753.2,189.1 1752.8,188.5 1752.4,187.8 1752.1,187.1 1751.7,186.5 1751.4,185.8 1751.2,185.2 1750.9,184.5 1750.8,183.9 1750.7,183.2 1750.6,182.5 1750.6,181.9 1750.6,181.2 1750.6,180.6 1750.7,179.9 1750.8,179.3 1750.9,178.6 1751.1,177.9 1751.2,177.3 1751.4,176.6 1751.6,176 1751.8,175.3 1752,174.7 1752.2,174 1752.4,173.4 1752.6,172.7 1752.9,172 1753.2,171.4 1753.5,170.7 1753.8,170.1 1754.2,169.4 1754.6,168.8 1755,168.1" fill="none" stroke="#3868b0" stroke-width="1.4" stroke-linejoin="round"/>
<line x1="1750.9" y1="179" x2="1772.1" y2="179" stroke="#3868b0" stroke-width="1.4"/>
<line x1="1752.1" y1="187.2" x2="1770.9" y2="187.2" stroke="#3868b0" stroke-width="1.4"/>
<line x1="1749.6" y1="204.4" x2="1773.4" y2="204.4" stroke="#3868b0" stroke-width="1.4"/>
<circle cx="1800.6" cy="160.6" r="1.8" fill="#b05430"/>
<circle cx="1800.6" cy="169.4" r="1.8" fill="#b05430"/>
<circle cx="1800.6" cy="174" r="1.8" fill="#b05430"/>
<circle cx="1800.6" cy="177.5" r="1.8" fill="#b05430"/>
<circle cx="1800.6" cy="181.9" r="1.8" fill="#b05430"/>
<circle cx="1796.8" cy="182.5" r="1.8" fill="#b05430"/>
<circle cx="1804.4" cy="185" r="1.8" fill="#b05430"/>
<circle cx="1800.6" cy="188.8" r="1.8" fill="#b05430"/>
<circle cx="1800.6" cy="195" r="1.8" fill="#b05430"/>
<circle cx="1800.6" cy="208.8" r="1.8" fill="#b05430"/>
<polygon points="1804.1,160.6 1804.4,161.4 1804.6,162.2 1804.8,163 1805,163.8 1805.2,164.6 1805.5,165.4 1805.8,166.2 1806.1,167 1806.4,167.8 1806.8,168.6 1807.1,169.4 1807.5,170.2 1808,171 1808.4,171.8 1808.8,172.7 1809.3,173.5 1809.7,174.3 1810.1,175.1 1810.6,175.9 1811,176.7 1811.4,177.5 1811.7,178.3 1812,179.1 1812.3,179.9 1812.5,180.7 1812.6,181.5 1812.6,182.3 1812.5,183.1 1812.4,183.9 1812.1,184.7 1811.7,185.5 1811.3,186.3 1810.8,187.1 1810.3,187.9 1809.8,188.7 1809.2,189.5 1808.6,190.3 1808.1,191.1 1807.5,191.9 1807,192.7 1806.5,193.5 1806,194.3 1805.5,195.1 1805.1,195.9 1804.7,196.8 1804.3,197.6 1804,198.4 1803.7,199.2 1803.5,200 1803.3,200.8 1803.2,201.6 1803.1,202.4 1803.1,203.2 1803.1,204 1803.2,204.8 1803.3,205.6 1803.3,206.4 1803.4,207.2 1803.4,208 1803.4,208.8 1797.8,208.8 1797.8,208 1797.8,207.2 1797.9,206.4 1797.9,205.6 1798,204.8 1798.1,204 1798.1,203.2 1798.1,202.4 1798,201.6 1797.9,200.8 1797.7,200 1797.5,199.2 1797.2,198.4 1796.9,197.6 1796.5,196.8 1796.1,195.9 1795.7,195.1 1795.2,194.3 1794.7,193.5 1794.2,192.7 1793.7,191.9 1793.1,191.1 1792.6,190.3 1792,189.5 1791.4,188.7 1790.9,187.9 1790.4,187.1 1789.9,186.3 1789.5,185.5 1789.1,184.7 1788.8,183.9 1788.7,183.1 1788.6,182.3 1788.6,181.5 1788.7,180.7 1788.9,179.9 1789.2,179.1 1789.5,178.3 1789.8,177.5 1790.2,176.7 1790.6,175.9 1791.1,175.1 1791.5,174.3 1791.9,173.5 1792.4,172.7 1792.8,171.8 1793.2,171 1793.7,170.2 1794.1,169.4 1794.4,168.6 1794.8,167.8 1795.1,167 1795.4,166.2 1795.7,165.4 1796,164.6 1796.2,163.8 1796.4,163 1796.6,162.2 1796.8,161.4 1797.1,160.6" fill="none" stroke="#7a2808" stroke-width="1.4" stroke-linejoin="round"/>
<line x1="1791.2" y1="174.9" x2="1810" y2="174.9" stroke="#7a2808" stroke-width="1.4"/>
<line x1="1788.6" y1="182.2" x2="1812.6" y2="182.2" stroke="#7a2808" stroke-width="1.4"/>
<line x1="1790.8" y1="187.9" x2="1810.4" y2="187.9" stroke="#7a2808" stroke-width="1.4"/>
<circle cx="1839.7" cy="134.4" r="1.8" fill="#a02c60"/>
<circle cx="1835.9" cy="135" r="1.8" fill="#a02c60"/>
<circle cx="1843.5" cy="136.9" r="1.8" fill="#a02c60"/>
<circle cx="1839.7" cy="149.4" r="1.8" fill="#a02c60"/>
<circle cx="1839.7" cy="159.4" r="1.8" fill="#a02c60"/>
<circle cx="1835.9" cy="161.3" r="1.8" fill="#a02c60"/>
<circle cx="1839.7" cy="163.1" r="1.8" fill="#a02c60"/>
<circle cx="1839.7" cy="172.5" r="1.8" fill="#a02c60"/>
<circle cx="1839.7" cy="181.3" r="1.8" fill="#a02c60"/>
<polygon points="1850.2,134.4 1850.4,135.2 1850.5,136 1850.5,136.7 1850.4,137.5 1850.2,138.3 1849.9,139.1 1849.6,139.9 1849.2,140.7 1848.9,141.4 1848.5,142.2 1848.1,143 1847.8,143.8 1847.5,144.6 1847.3,145.3 1847.1,146.1 1847,146.9 1847,147.7 1847,148.5 1847.1,149.3 1847.3,150 1847.5,150.8 1847.8,151.6 1848.2,152.4 1848.5,153.2 1848.9,153.9 1849.3,154.7 1849.8,155.5 1850.2,156.3 1850.5,157.1 1850.9,157.9 1851.2,158.6 1851.4,159.4 1851.6,160.2 1851.7,161 1851.7,161.8 1851.6,162.5 1851.5,163.3 1851.3,164.1 1851.1,164.9 1850.8,165.7 1850.4,166.4 1850.1,167.2 1849.7,168 1849.3,168.8 1848.9,169.6 1848.6,170.4 1848.2,171.1 1847.9,171.9 1847.6,172.7 1847.3,173.5 1847.1,174.3 1846.8,175 1846.6,175.8 1846.4,176.6 1846.2,177.4 1845.9,178.2 1845.7,179 1845.5,179.7 1845.2,180.5 1844.9,181.3 1834.5,181.3 1834.2,180.5 1833.9,179.7 1833.7,179 1833.5,178.2 1833.2,177.4 1833,176.6 1832.8,175.8 1832.6,175 1832.3,174.3 1832.1,173.5 1831.8,172.7 1831.5,171.9 1831.2,171.1 1830.8,170.4 1830.5,169.6 1830.1,168.8 1829.7,168 1829.3,167.2 1829,166.4 1828.6,165.7 1828.3,164.9 1828.1,164.1 1827.9,163.3 1827.8,162.5 1827.7,161.8 1827.7,161 1827.8,160.2 1828,159.4 1828.2,158.6 1828.5,157.9 1828.9,157.1 1829.2,156.3 1829.6,155.5 1830.1,154.7 1830.5,153.9 1830.9,153.2 1831.2,152.4 1831.6,151.6 1831.9,150.8 1832.1,150 1832.3,149.3 1832.4,148.5 1832.4,147.7 1832.4,146.9 1832.3,146.1 1832.1,145.3 1831.9,144.6 1831.6,143.8 1831.3,143 1830.9,142.2 1830.5,141.4 1830.2,140.7 1829.8,139.9 1829.5,139.1 1829.2,138.3 1829,137.5 1828.9,136.7 1828.9,136 1829,135.2 1829.2,134.4" fill="none" stroke="#4a0828" stroke-width="1.4" stroke-linejoin="round"/>
<line x1="1828.9" y1="136.9" x2="1850.5" y2="136.9" stroke="#4a0828" stroke-width="1.4"/>
<line x1="1828" y1="159.4" x2="1851.4" y2="159.4" stroke="#4a0828" stroke-width="1.4"/>
<line x1="1827.9" y1="163.1" x2="1851.5" y2="163.1" stroke="#4a0828" stroke-width="1.4"/>
<text transform="translate(2 648.7) scale(1 1.05)" font-size="37" font-weight="bold" fill="#231815">d</text>
<text transform="translate(379.5 675.5) scale(1 1.07)" font-size="22.5" font-weight="bold" text-anchor="middle">Immune serum: Gamma</text>
<line x1="116.4" y1="699.5" x2="116.4" y2="905.5" stroke="#000" stroke-width="2"/>
<line x1="115.4" y1="904.5" x2="578" y2="904.5" stroke="#000" stroke-width="2"/>
<line x1="109.9" y1="904.5" x2="116.4" y2="904.5" stroke="#000" stroke-width="2"/>
<text transform="translate(109 911) scale(1 1.05)" font-size="22.2" text-anchor="end">100</text>
<line x1="112.6" y1="884" x2="116.4" y2="884" stroke="#000" stroke-width="1.5"/>
<line x1="112.6" y1="872.1" x2="116.4" y2="872.1" stroke="#000" stroke-width="1.5"/>
<line x1="112.6" y1="863.6" x2="116.4" y2="863.6" stroke="#000" stroke-width="1.5"/>
<line x1="112.6" y1="857" x2="116.4" y2="857" stroke="#000" stroke-width="1.5"/>
<line x1="112.6" y1="851.6" x2="116.4" y2="851.6" stroke="#000" stroke-width="1.5"/>
<line x1="112.6" y1="847" x2="116.4" y2="847" stroke="#000" stroke-width="1.5"/>
<line x1="112.6" y1="843.1" x2="116.4" y2="843.1" stroke="#000" stroke-width="1.5"/>
<line x1="112.6" y1="839.6" x2="116.4" y2="839.6" stroke="#000" stroke-width="1.5"/>
<line x1="109.9" y1="836.5" x2="116.4" y2="836.5" stroke="#000" stroke-width="2"/>
<text transform="translate(109 843) scale(1 1.05)" font-size="22.2" text-anchor="end">1000</text>
<line x1="112.6" y1="816" x2="116.4" y2="816" stroke="#000" stroke-width="1.5"/>
<line x1="112.6" y1="804.1" x2="116.4" y2="804.1" stroke="#000" stroke-width="1.5"/>
<line x1="112.6" y1="795.6" x2="116.4" y2="795.6" stroke="#000" stroke-width="1.5"/>
<line x1="112.6" y1="789" x2="116.4" y2="789" stroke="#000" stroke-width="1.5"/>
<line x1="112.6" y1="783.6" x2="116.4" y2="783.6" stroke="#000" stroke-width="1.5"/>
<line x1="112.6" y1="779" x2="116.4" y2="779" stroke="#000" stroke-width="1.5"/>
<line x1="112.6" y1="775.1" x2="116.4" y2="775.1" stroke="#000" stroke-width="1.5"/>
<line x1="112.6" y1="771.6" x2="116.4" y2="771.6" stroke="#000" stroke-width="1.5"/>
<line x1="109.9" y1="768.5" x2="116.4" y2="768.5" stroke="#000" stroke-width="2"/>
<text transform="translate(109 775) scale(1 1.05)" font-size="22.2" text-anchor="end">10000</text>
<line x1="112.6" y1="748" x2="116.4" y2="748" stroke="#000" stroke-width="1.5"/>
<line x1="112.6" y1="736.1" x2="116.4" y2="736.1" stroke="#000" stroke-width="1.5"/>
<line x1="112.6" y1="727.6" x2="116.4" y2="727.6" stroke="#000" stroke-width="1.5"/>
<line x1="112.6" y1="721" x2="116.4" y2="721" stroke="#000" stroke-width="1.5"/>
<line x1="112.6" y1="715.6" x2="116.4" y2="715.6" stroke="#000" stroke-width="1.5"/>
<line x1="112.6" y1="711" x2="116.4" y2="711" stroke="#000" stroke-width="1.5"/>
<line x1="112.6" y1="707.1" x2="116.4" y2="707.1" stroke="#000" stroke-width="1.5"/>
<line x1="112.6" y1="703.6" x2="116.4" y2="703.6" stroke="#000" stroke-width="1.5"/>
<line x1="109.9" y1="700.5" x2="116.4" y2="700.5" stroke="#000" stroke-width="2"/>
<text transform="translate(109 707) scale(1 1.05)" font-size="22.2" text-anchor="end">100000</text>
<line x1="135.2" y1="904.5" x2="135.2" y2="910.5" stroke="#000" stroke-width="2"/>
<line x1="173.6" y1="904.5" x2="173.6" y2="910.5" stroke="#000" stroke-width="2"/>
<line x1="212" y1="904.5" x2="212" y2="910.5" stroke="#000" stroke-width="2"/>
<line x1="250.3" y1="904.5" x2="250.3" y2="910.5" stroke="#000" stroke-width="2"/>
<line x1="288.7" y1="904.5" x2="288.7" y2="910.5" stroke="#000" stroke-width="2"/>
<line x1="327.1" y1="904.5" x2="327.1" y2="910.5" stroke="#000" stroke-width="2"/>
<line x1="365.5" y1="904.5" x2="365.5" y2="910.5" stroke="#000" stroke-width="2"/>
<line x1="403.9" y1="904.5" x2="403.9" y2="910.5" stroke="#000" stroke-width="2"/>
<line x1="442.2" y1="904.5" x2="442.2" y2="910.5" stroke="#000" stroke-width="2"/>
<line x1="480.6" y1="904.5" x2="480.6" y2="910.5" stroke="#000" stroke-width="2"/>
<line x1="519" y1="904.5" x2="519" y2="910.5" stroke="#000" stroke-width="2"/>
<line x1="557.4" y1="904.5" x2="557.4" y2="910.5" stroke="#000" stroke-width="2"/>
<text transform="translate(143.1 913.5) rotate(-90) scale(1 1.04)" font-size="22.8" text-anchor="end">D614G</text>
<text transform="translate(181.5 913.5) rotate(-90) scale(1 1.04)" font-size="22.8" text-anchor="end">B.1.1.7(Alpha)</text>
<text transform="translate(219.9 913.5) rotate(-90) scale(1 1.04)" font-size="22.8" text-anchor="end">B.1.351(Beta)</text>
<text transform="translate(258.2 913.5) rotate(-90) scale(1 1.04)" font-size="22.8" text-anchor="end">P.1(Gamma)</text>
<text transform="translate(296.6 913.5) rotate(-90) scale(1 1.04)" font-size="22.8" text-anchor="end">B.1.617.2(Delta)</text>
<text transform="translate(335 913.5) rotate(-90) scale(1 1.04)" font-size="22.8" text-anchor="end">B.1.429(Epsilon)</text>
<text transform="translate(373.4 913.5) rotate(-90) scale(1 1.04)" font-size="22.8" text-anchor="end">P.2(Zeta)</text>
<text transform="translate(411.8 913.5) rotate(-90) scale(1 1.04)" font-size="22.8" text-anchor="end">B.1.525(Eta)</text>
<text transform="translate(450.1 913.5) rotate(-90) scale(1 1.04)" font-size="22.8" text-anchor="end">B.1.526(S477N)(Lota)</text>
<text transform="translate(488.5 913.5) rotate(-90) scale(1 1.04)" font-size="22.8" text-anchor="end">B.1.526(E484K)(Lota)</text>
<text transform="translate(526.9 913.5) rotate(-90) scale(1 1.04)" font-size="22.8" text-anchor="end">B.1.617.1(Kappa)</text>
<text transform="translate(565.3 913.5) rotate(-90) scale(1 1.04)" font-size="22.8" text-anchor="end">C.37(Lamda)</text>
<text transform="translate(33.5 821.5) rotate(-90) scale(1 1.05)" font-size="22.5" font-weight="bold">ED<tspan font-size="13.2" dy="6.9">50</tspan></text>
<line x1="118.5" y1="795.3" x2="576" y2="795.3" stroke="#000" stroke-width="2.6" stroke-dasharray="0.01 6.15" stroke-linecap="round"/>
<line x1="118.5" y1="836.3" x2="576" y2="836.3" stroke="#000" stroke-width="2.3" stroke-dasharray="3.9 6.3" stroke-linecap="round"/>
<text transform="translate(579.8 800.7) scale(1 1.03)" font-size="22.4">mean</text>
<text transform="translate(579.8 841.3) scale(1 1.03)" font-size="22.4">4-fold</text>
<text transform="translate(355.8 1172) scale(1 1.07)" font-size="22.5" font-weight="bold" text-anchor="middle">Pseudotyped virus</text>
<circle cx="135.2" cy="788.8" r="3.3" fill="#b8603c"/>
<circle cx="131.9" cy="788.8" r="3.3" fill="#b8603c"/>
<circle cx="135.2" cy="805" r="3.3" fill="#b8603c"/>
<circle cx="128.3" cy="806.3" r="3.3" fill="#b8603c"/>
<circle cx="135.2" cy="811.9" r="3.3" fill="#b8603c"/>
<circle cx="128.3" cy="817.5" r="3.3" fill="#b8603c"/>
<circle cx="135.2" cy="825.6" r="3.3" fill="#b8603c"/>
<circle cx="128.3" cy="825.6" r="3.3" fill="#b8603c"/>
<circle cx="142.1" cy="829.4" r="3.3" fill="#b8603c"/>
<circle cx="135.2" cy="836.3" r="3.3" fill="#b8603c"/>
<polygon points="141.9,788.8 142,789.6 141.9,790.4 141.9,791.2 141.7,792 141.6,792.8 141.5,793.5 141.3,794.3 141.2,795.1 141.2,795.9 141.2,796.7 141.2,797.5 141.4,798.3 141.6,799.1 141.9,799.9 142.2,800.7 142.6,801.5 143,802.3 143.4,803 143.8,803.8 144.2,804.6 144.5,805.4 144.9,806.2 145.1,807 145.3,807.8 145.5,808.6 145.6,809.4 145.6,810.2 145.7,811 145.6,811.8 145.6,812.5 145.6,813.3 145.6,814.1 145.5,814.9 145.6,815.7 145.6,816.5 145.7,817.3 145.8,818.1 145.9,818.9 146.1,819.7 146.3,820.5 146.5,821.3 146.6,822 146.8,822.8 147,823.6 147.1,824.4 147.2,825.2 147.2,826 147.1,826.8 147,827.6 146.8,828.4 146.6,829.2 146.2,830 145.9,830.8 145.4,831.5 144.9,832.3 144.4,833.1 143.8,833.9 143.3,834.7 142.7,835.5 142.1,836.3 128.3,836.3 127.7,835.5 127.1,834.7 126.6,833.9 126,833.1 125.5,832.3 125,831.5 124.5,830.8 124.2,830 123.8,829.2 123.6,828.4 123.4,827.6 123.3,826.8 123.2,826 123.2,825.2 123.3,824.4 123.4,823.6 123.6,822.8 123.8,822 123.9,821.3 124.1,820.5 124.3,819.7 124.5,818.9 124.6,818.1 124.7,817.3 124.8,816.5 124.8,815.7 124.9,814.9 124.8,814.1 124.8,813.3 124.8,812.5 124.8,811.8 124.7,811 124.8,810.2 124.8,809.4 124.9,808.6 125.1,807.8 125.3,807 125.5,806.2 125.9,805.4 126.2,804.6 126.6,803.8 127,803 127.4,802.3 127.8,801.5 128.2,800.7 128.5,799.9 128.8,799.1 129,798.3 129.2,797.5 129.2,796.7 129.2,795.9 129.2,795.1 129.1,794.3 128.9,793.5 128.8,792.8 128.7,792 128.5,791.2 128.5,790.4 128.4,789.6 128.5,788.8" fill="none" stroke="#7a2a0a" stroke-width="1.4" stroke-linejoin="round"/>
<line x1="125.9" y1="805.3" x2="144.5" y2="805.3" stroke="#7a2a0a" stroke-width="1.4"/>
<line x1="124.9" y1="814.7" x2="145.5" y2="814.7" stroke="#7a2a0a" stroke-width="1.4"/>
<line x1="123.2" y1="825.6" x2="147.2" y2="825.6" stroke="#7a2a0a" stroke-width="1.4"/>
<circle cx="173.6" cy="806.3" r="3.3" fill="#a83868"/>
<circle cx="170.3" cy="810.6" r="3.3" fill="#a83868"/>
<circle cx="180.5" cy="813.8" r="3.3" fill="#a83868"/>
<circle cx="166.6" cy="815" r="3.3" fill="#a83868"/>
<circle cx="173.6" cy="817.5" r="3.3" fill="#a83868"/>
<circle cx="180.5" cy="819" r="3.3" fill="#a83868"/>
<circle cx="166.6" cy="821.3" r="3.3" fill="#a83868"/>
<circle cx="173.6" cy="826.3" r="3.3" fill="#a83868"/>
<circle cx="170.3" cy="830.6" r="3.3" fill="#a83868"/>
<circle cx="176.9" cy="831.3" r="3.3" fill="#a83868"/>
<polygon points="178.3,806.3 178.7,806.7 179,807.1 179.3,807.5 179.6,808 179.9,808.4 180.2,808.8 180.5,809.2 180.9,809.6 181.2,810 181.6,810.5 181.9,810.9 182.3,811.3 182.7,811.7 183.1,812.1 183.5,812.5 183.8,813 184.2,813.4 184.5,813.8 184.8,814.2 185,814.6 185.2,815 185.4,815.5 185.5,815.9 185.6,816.3 185.6,816.7 185.5,817.1 185.4,817.5 185.3,818 185,818.4 184.8,818.8 184.5,819.2 184.1,819.6 183.7,820 183.3,820.5 182.9,820.9 182.5,821.3 182.1,821.7 181.7,822.1 181.4,822.5 181.1,823 180.8,823.4 180.6,823.8 180.4,824.2 180.3,824.6 180.2,825 180.2,825.5 180.3,825.9 180.3,826.3 180.5,826.7 180.6,827.1 180.8,827.5 180.9,828 181,828.4 181.1,828.8 181.2,829.2 181.2,829.6 181.2,830 181.1,830.5 180.9,830.9 180.7,831.3 166.5,831.3 166.2,830.9 166.1,830.5 166,830 165.9,829.6 165.9,829.2 166,828.8 166.1,828.4 166.3,828 166.4,827.5 166.6,827.1 166.7,826.7 166.8,826.3 166.9,825.9 166.9,825.5 166.9,825 166.9,824.6 166.8,824.2 166.6,823.8 166.4,823.4 166.1,823 165.8,822.5 165.4,822.1 165,821.7 164.6,821.3 164.2,820.9 163.8,820.5 163.4,820 163,819.6 162.7,819.2 162.4,818.8 162.1,818.4 161.9,818 161.7,817.5 161.6,817.1 161.6,816.7 161.6,816.3 161.6,815.9 161.8,815.5 161.9,815 162.1,814.6 162.4,814.2 162.7,813.8 163,813.4 163.3,813 163.7,812.5 164.1,812.1 164.5,811.7 164.8,811.3 165.2,810.9 165.6,810.5 165.9,810 166.3,809.6 166.6,809.2 167,808.8 167.3,808.4 167.6,808 167.9,807.5 168.2,807.1 168.5,806.7 168.8,806.3" fill="none" stroke="#4a0a28" stroke-width="1.4" stroke-linejoin="round"/>
<line x1="162.5" y1="814.1" x2="184.7" y2="814.1" stroke="#4a0a28" stroke-width="1.4"/>
<line x1="162" y1="818.2" x2="185.1" y2="818.2" stroke="#4a0a28" stroke-width="1.4"/>
<line x1="166.9" y1="825" x2="180.2" y2="825" stroke="#4a0a28" stroke-width="1.4"/>
<circle cx="212" cy="762.5" r="3.3" fill="#5a8a28"/>
<circle cx="212" cy="791.9" r="3.3" fill="#5a8a28"/>
<circle cx="208.7" cy="791.9" r="3.3" fill="#5a8a28"/>
<circle cx="218.9" cy="795.6" r="3.3" fill="#5a8a28"/>
<circle cx="212" cy="798.8" r="3.3" fill="#5a8a28"/>
<circle cx="205" cy="800.6" r="3.3" fill="#5a8a28"/>
<circle cx="218.9" cy="801.3" r="3.3" fill="#5a8a28"/>
<circle cx="212" cy="801.3" r="3.3" fill="#5a8a28"/>
<circle cx="212" cy="810" r="3.3" fill="#5a8a28"/>
<circle cx="208.7" cy="810" r="3.3" fill="#5a8a28"/>
<polygon points="214.1,762.5 214,763.3 214,764.1 213.9,764.9 213.7,765.7 213.6,766.5 213.4,767.2 213.2,768 213,768.8 212.8,769.6 212.7,770.4 212.5,771.2 212.4,772 212.3,772.8 212.2,773.6 212.2,774.4 212.1,775.2 212.1,776 212.1,776.8 212.1,777.5 212.2,778.3 212.3,779.1 212.4,779.9 212.5,780.7 212.7,781.5 213,782.3 213.3,783.1 213.6,783.9 214.1,784.7 214.6,785.5 215.2,786.2 215.8,787 216.5,787.8 217.2,788.6 217.9,789.4 218.7,790.2 219.4,791 220.2,791.8 220.9,792.6 221.6,793.4 222.2,794.2 222.7,795 223.1,795.8 223.5,796.5 223.8,797.3 223.9,798.1 224,798.9 223.9,799.7 223.7,800.5 223.4,801.3 223.1,802.1 222.7,802.9 222.2,803.7 221.7,804.5 221.2,805.2 220.6,806 220.1,806.8 219.6,807.6 219.1,808.4 218.6,809.2 218.1,810 205.8,810 205.3,809.2 204.8,808.4 204.3,807.6 203.8,806.8 203.3,806 202.8,805.2 202.2,804.5 201.7,803.7 201.3,802.9 200.8,802.1 200.5,801.3 200.2,800.5 200,799.7 200,798.9 200,798.1 200.2,797.3 200.4,796.5 200.8,795.8 201.2,795 201.8,794.2 202.4,793.4 203,792.6 203.7,791.8 204.5,791 205.2,790.2 206,789.4 206.7,788.6 207.5,787.8 208.1,787 208.8,786.2 209.3,785.5 209.8,784.7 210.3,783.9 210.6,783.1 211,782.3 211.2,781.5 211.4,780.7 211.5,779.9 211.7,779.1 211.7,778.3 211.8,777.5 211.8,776.8 211.8,776 211.8,775.2 211.7,774.4 211.7,773.6 211.6,772.8 211.5,772 211.4,771.2 211.2,770.4 211.1,769.6 210.9,768.8 210.7,768 210.5,767.2 210.4,766.5 210.2,765.7 210,764.9 209.9,764.1 209.9,763.3 209.9,762.5" fill="none" stroke="#2a4a0a" stroke-width="1.4" stroke-linejoin="round"/>
<line x1="202.8" y1="792.8" x2="221.1" y2="792.8" stroke="#2a4a0a" stroke-width="1.4"/>
<line x1="200" y1="799.7" x2="223.9" y2="799.7" stroke="#2a4a0a" stroke-width="1.4"/>
<line x1="200.5" y1="801.3" x2="223.4" y2="801.3" stroke="#2a4a0a" stroke-width="1.4"/>
<circle cx="250.3" cy="782.5" r="3.3" fill="#2a8a68"/>
<circle cx="250.3" cy="785" r="3.3" fill="#2a8a68"/>
<circle cx="250.3" cy="791.3" r="3.3" fill="#2a8a68"/>
<circle cx="247" cy="795.6" r="3.3" fill="#2a8a68"/>
<circle cx="257.3" cy="797" r="3.3" fill="#2a8a68"/>
<circle cx="243.4" cy="800" r="3.3" fill="#2a8a68"/>
<circle cx="250.3" cy="800.6" r="3.3" fill="#2a8a68"/>
<circle cx="257.3" cy="800.6" r="3.3" fill="#2a8a68"/>
<circle cx="243.4" cy="803" r="3.3" fill="#2a8a68"/>
<circle cx="253.6" cy="806.3" r="3.3" fill="#2a8a68"/>
<polygon points="254.8,782.5 254.9,782.9 255.1,783.3 255.1,783.7 255.2,784.1 255.1,784.5 255.1,784.9 255,785.3 254.8,785.7 254.7,786.1 254.5,786.5 254.4,786.9 254.2,787.3 254.1,787.7 254.1,788.1 254,788.5 254,788.8 254.1,789.2 254.1,789.6 254.2,790 254.4,790.4 254.6,790.8 254.8,791.2 255,791.6 255.2,792 255.5,792.4 255.8,792.8 256.2,793.2 256.5,793.6 256.9,794 257.3,794.4 257.7,794.8 258.2,795.2 258.6,795.6 259.1,796 259.5,796.4 260,796.8 260.4,797.2 260.9,797.6 261.3,798 261.6,798.4 261.9,798.8 262.1,799.2 262.3,799.6 262.3,800 262.3,800.3 262.2,800.7 262,801.1 261.8,801.5 261.4,801.9 261,802.3 260.6,802.7 260.1,803.1 259.5,803.5 259,803.9 258.4,804.3 257.8,804.7 257.2,805.1 256.7,805.5 256.1,805.9 255.6,806.3 245.1,806.3 244.5,805.9 244,805.5 243.4,805.1 242.9,804.7 242.3,804.3 241.7,803.9 241.2,803.5 240.6,803.1 240.1,802.7 239.7,802.3 239.2,801.9 238.9,801.5 238.6,801.1 238.5,800.7 238.4,800.3 238.3,800 238.4,799.6 238.6,799.2 238.8,798.8 239.1,798.4 239.4,798 239.8,797.6 240.2,797.2 240.7,796.8 241.1,796.4 241.6,796 242.1,795.6 242.5,795.2 243,794.8 243.4,794.4 243.8,794 244.2,793.6 244.5,793.2 244.8,792.8 245.2,792.4 245.4,792 245.7,791.6 245.9,791.2 246.1,790.8 246.3,790.4 246.4,790 246.6,789.6 246.6,789.2 246.7,788.8 246.7,788.5 246.6,788.1 246.5,787.7 246.4,787.3 246.3,786.9 246.1,786.5 246,786.1 245.8,785.7 245.7,785.3 245.6,784.9 245.5,784.5 245.5,784.1 245.5,783.7 245.6,783.3 245.7,782.9 245.9,782.5" fill="none" stroke="#0a3a28" stroke-width="1.4" stroke-linejoin="round"/>
<line x1="245.2" y1="792.4" x2="255.5" y2="792.4" stroke="#0a3a28" stroke-width="1.4"/>
<line x1="239" y1="798.5" x2="261.7" y2="798.5" stroke="#0a3a28" stroke-width="1.4"/>
<line x1="238.4" y1="800.6" x2="262.3" y2="800.6" stroke="#0a3a28" stroke-width="1.4"/>
<circle cx="288.7" cy="821.3" r="3.3" fill="#3a68a8"/>
<circle cx="288.7" cy="829.4" r="3.3" fill="#3a68a8"/>
<circle cx="281.8" cy="831.3" r="3.3" fill="#3a68a8"/>
<circle cx="295.7" cy="833" r="3.3" fill="#3a68a8"/>
<circle cx="288.7" cy="833" r="3.3" fill="#3a68a8"/>
<circle cx="281.8" cy="835" r="3.3" fill="#3a68a8"/>
<circle cx="292" cy="838.8" r="3.3" fill="#3a68a8"/>
<circle cx="288.7" cy="846.9" r="3.3" fill="#3a68a8"/>
<circle cx="285.4" cy="847.5" r="3.3" fill="#3a68a8"/>
<polygon points="291.6,821.3 291.6,821.7 291.7,822.2 291.7,822.6 291.7,823 291.8,823.5 291.8,823.9 291.9,824.4 292.1,824.8 292.3,825.2 292.6,825.7 293,826.1 293.4,826.5 293.9,827 294.5,827.4 295.1,827.8 295.8,828.3 296.5,828.7 297.2,829.2 297.9,829.6 298.5,830 299.1,830.5 299.6,830.9 300.1,831.3 300.4,831.8 300.6,832.2 300.7,832.7 300.7,833.1 300.6,833.5 300.3,834 300,834.4 299.6,834.8 299.1,835.3 298.6,835.7 298,836.1 297.4,836.6 296.8,837 296.2,837.5 295.7,837.9 295.1,838.3 294.6,838.8 294.2,839.2 293.7,839.6 293.4,840.1 293.1,840.5 292.9,841 292.7,841.4 292.6,841.8 292.6,842.3 292.6,842.7 292.7,843.1 292.9,843.6 293.1,844 293.3,844.4 293.5,844.9 293.7,845.3 293.9,845.8 294,846.2 294.1,846.6 294.1,847.1 294.1,847.5 283.4,847.5 283.3,847.1 283.3,846.6 283.4,846.2 283.5,845.8 283.7,845.3 283.9,844.9 284.2,844.4 284.4,844 284.6,843.6 284.7,843.1 284.8,842.7 284.9,842.3 284.8,841.8 284.7,841.4 284.6,841 284.3,840.5 284.1,840.1 283.7,839.6 283.3,839.2 282.8,838.8 282.3,838.3 281.8,837.9 281.2,837.5 280.6,837 280,836.6 279.5,836.1 278.9,835.7 278.4,835.3 277.9,834.8 277.4,834.4 277.1,834 276.9,833.5 276.7,833.1 276.7,832.7 276.8,832.2 277,831.8 277.4,831.3 277.8,830.9 278.3,830.5 278.9,830 279.6,829.6 280.3,829.2 281,828.7 281.7,828.3 282.3,827.8 283,827.4 283.5,827 284.1,826.5 284.5,826.1 284.8,825.7 285.1,825.2 285.3,824.8 285.5,824.4 285.6,823.9 285.7,823.5 285.7,823 285.7,822.6 285.8,822.2 285.8,821.7 285.9,821.3" fill="none" stroke="#0a2050" stroke-width="1.4" stroke-linejoin="round"/>
<line x1="277.4" y1="831.3" x2="300" y2="831.3" stroke="#0a2050" stroke-width="1.4"/>
<line x1="276.7" y1="833" x2="300.7" y2="833" stroke="#0a2050" stroke-width="1.4"/>
<line x1="282.9" y1="838.8" x2="294.6" y2="838.8" stroke="#0a2050" stroke-width="1.4"/>
<circle cx="327.1" cy="762.5" r="3.3" fill="#f88838"/>
<circle cx="327.1" cy="790.6" r="3.3" fill="#f88838"/>
<circle cx="320.2" cy="795.6" r="3.3" fill="#f88838"/>
<circle cx="327.1" cy="797.5" r="3.3" fill="#f88838"/>
<circle cx="320.2" cy="802.5" r="3.3" fill="#f88838"/>
<circle cx="327.1" cy="808.1" r="3.3" fill="#f88838"/>
<circle cx="320.2" cy="811.9" r="3.3" fill="#f88838"/>
<circle cx="327.1" cy="818.1" r="3.3" fill="#f88838"/>
<circle cx="327.1" cy="825.6" r="3.3" fill="#f88838"/>
<circle cx="323.8" cy="828.8" r="3.3" fill="#f88838"/>
<polygon points="330,762.5 329.9,763.6 329.8,764.7 329.7,765.8 329.6,766.9 329.4,768 329.2,769.1 328.9,770.2 328.8,771.3 328.6,772.4 328.5,773.5 328.4,774.7 328.4,775.8 328.5,776.9 328.6,778 328.8,779.1 329.2,780.2 329.6,781.3 330.1,782.4 330.6,783.5 331.3,784.6 332,785.7 332.7,786.8 333.5,787.9 334.3,789 335.1,790.1 335.8,791.2 336.5,792.3 337.1,793.4 337.7,794.5 338.1,795.6 338.5,796.8 338.8,797.9 339,799 339.1,800.1 339.1,801.2 339.1,802.3 339,803.4 338.9,804.5 338.8,805.6 338.6,806.7 338.4,807.8 338.2,808.9 338,810 337.8,811.1 337.6,812.2 337.4,813.3 337.2,814.4 337.1,815.5 336.9,816.6 336.7,817.8 336.6,818.9 336.4,820 336.2,821.1 336,822.2 335.8,823.3 335.6,824.4 335.3,825.5 334.9,826.6 334.5,827.7 334,828.8 320.2,828.8 319.7,827.7 319.3,826.6 318.9,825.5 318.6,824.4 318.4,823.3 318.2,822.2 318,821.1 317.8,820 317.6,818.9 317.5,817.8 317.3,816.6 317.1,815.5 317,814.4 316.8,813.3 316.6,812.2 316.4,811.1 316.2,810 316,808.9 315.8,807.8 315.6,806.7 315.4,805.6 315.3,804.5 315.2,803.4 315.1,802.3 315.1,801.2 315.1,800.1 315.2,799 315.4,797.9 315.7,796.8 316.1,795.6 316.5,794.5 317.1,793.4 317.7,792.3 318.4,791.2 319.1,790.1 319.9,789 320.7,787.9 321.5,786.8 322.2,785.7 322.9,784.6 323.6,783.5 324.1,782.4 324.6,781.3 325,780.2 325.4,779.1 325.6,778 325.7,776.9 325.8,775.8 325.8,774.7 325.7,773.5 325.6,772.4 325.4,771.3 325.3,770.2 325,769.1 324.8,768 324.6,766.9 324.5,765.8 324.4,764.7 324.3,763.6 324.2,762.5" fill="none" stroke="#c05838" stroke-width="1.4" stroke-linejoin="round"/>
<line x1="315.9" y1="796.1" x2="338.3" y2="796.1" stroke="#c05838" stroke-width="1.4"/>
<line x1="315.4" y1="805.3" x2="338.8" y2="805.3" stroke="#c05838" stroke-width="1.4"/>
<line x1="317.3" y1="816.6" x2="336.9" y2="816.6" stroke="#c05838" stroke-width="1.4"/>
<circle cx="365.5" cy="798.1" r="3.3" fill="#e07898"/>
<circle cx="358.6" cy="803.8" r="3.3" fill="#e07898"/>
<circle cx="372.4" cy="804" r="3.3" fill="#e07898"/>
<circle cx="365.5" cy="805" r="3.3" fill="#e07898"/>
<circle cx="358.6" cy="808.1" r="3.3" fill="#e07898"/>
<circle cx="368.8" cy="809" r="3.3" fill="#e07898"/>
<circle cx="365.5" cy="815" r="3.3" fill="#e07898"/>
<circle cx="362.2" cy="818.8" r="3.3" fill="#e07898"/>
<circle cx="368.8" cy="818.8" r="3.3" fill="#e07898"/>
<circle cx="365.5" cy="836.3" r="3.3" fill="#e07898"/>
<polygon points="371.1,798.1 371.8,798.7 372.5,799.4 373.2,800 374,800.6 374.7,801.3 375.3,801.9 375.9,802.6 376.5,803.2 376.9,803.8 377.2,804.5 377.4,805.1 377.5,805.7 377.4,806.4 377.3,807 377,807.6 376.6,808.3 376.2,808.9 375.8,809.6 375.4,810.2 374.9,810.8 374.6,811.5 374.3,812.1 374,812.7 373.8,813.4 373.7,814 373.6,814.7 373.5,815.3 373.4,815.9 373.4,816.6 373.2,817.2 373,817.8 372.7,818.5 372.4,819.1 372,819.7 371.5,820.4 371,821 370.4,821.7 369.8,822.3 369.3,822.9 368.7,823.6 368.2,824.2 367.7,824.8 367.3,825.5 367,826.1 366.8,826.8 366.6,827.4 366.5,828 366.5,828.7 366.5,829.3 366.6,829.9 366.7,830.6 366.9,831.2 367,831.8 367.2,832.5 367.4,833.1 367.6,833.8 367.8,834.4 367.9,835 368,835.7 368,836.3 363,836.3 363,835.7 363.1,835 363.2,834.4 363.3,833.8 363.5,833.1 363.7,832.5 363.9,831.8 364.1,831.2 364.3,830.6 364.4,829.9 364.5,829.3 364.5,828.7 364.5,828 364.4,827.4 364.2,826.8 363.9,826.1 363.6,825.5 363.2,824.8 362.8,824.2 362.3,823.6 361.7,822.9 361.1,822.3 360.6,821.7 360,821 359.5,820.4 359,819.7 358.6,819.1 358.2,818.5 357.9,817.8 357.7,817.2 357.6,816.6 357.5,815.9 357.4,815.3 357.4,814.7 357.3,814 357.1,813.4 356.9,812.7 356.7,812.1 356.4,811.5 356,810.8 355.6,810.2 355.2,809.6 354.7,808.9 354.3,808.3 354,807.6 353.7,807 353.5,806.4 353.5,805.7 353.5,805.1 353.7,804.5 354.1,803.8 354.5,803.2 355,802.6 355.6,801.9 356.3,801.3 357,800.6 357.7,800 358.4,799.4 359.1,798.7 359.8,798.1" fill="none" stroke="#a0245a" stroke-width="1.4" stroke-linejoin="round"/>
<line x1="353.9" y1="804.2" x2="377.1" y2="804.2" stroke="#a0245a" stroke-width="1.4"/>
<line x1="354.5" y1="808.5" x2="376.5" y2="808.5" stroke="#a0245a" stroke-width="1.4"/>
<line x1="358" y1="817.8" x2="373" y2="817.8" stroke="#a0245a" stroke-width="1.4"/>
<circle cx="403.9" cy="791.9" r="3.3" fill="#aab868"/>
<circle cx="396.9" cy="791.9" r="3.3" fill="#aab868"/>
<circle cx="410.8" cy="796.3" r="3.3" fill="#aab868"/>
<circle cx="403.9" cy="801.9" r="3.3" fill="#aab868"/>
<circle cx="400.6" cy="808.1" r="3.3" fill="#aab868"/>
<circle cx="403.9" cy="820.6" r="3.3" fill="#aab868"/>
<circle cx="396.9" cy="823.1" r="3.3" fill="#aab868"/>
<circle cx="410.8" cy="825.6" r="3.3" fill="#aab868"/>
<circle cx="403.9" cy="827.5" r="3.3" fill="#aab868"/>
<circle cx="400.6" cy="833.1" r="3.3" fill="#aab868"/>
<polygon points="412.9,791.9 413.2,792.6 413.5,793.3 413.6,794 413.8,794.6 413.8,795.3 413.8,796 413.8,796.7 413.7,797.4 413.5,798.1 413.3,798.8 413.1,799.5 412.9,800.1 412.7,800.8 412.4,801.5 412.1,802.2 411.9,802.9 411.6,803.6 411.3,804.3 411.1,804.9 410.8,805.6 410.5,806.3 410.3,807 410.1,807.7 409.9,808.4 409.7,809.1 409.6,809.8 409.5,810.4 409.5,811.1 409.5,811.8 409.5,812.5 409.6,813.2 409.8,813.9 410.1,814.6 410.4,815.2 410.8,815.9 411.2,816.6 411.6,817.3 412.1,818 412.6,818.7 413.2,819.4 413.7,820.1 414.1,820.7 414.6,821.4 415,822.1 415.3,822.8 415.6,823.5 415.8,824.2 415.9,824.9 415.9,825.5 415.8,826.2 415.6,826.9 415.4,827.6 415.1,828.3 414.7,829 414.2,829.7 413.7,830.4 413.2,831 412.6,831.7 412,832.4 411.4,833.1 396.3,833.1 395.7,832.4 395.1,831.7 394.5,831 394,830.4 393.5,829.7 393.1,829 392.7,828.3 392.3,827.6 392.1,826.9 391.9,826.2 391.9,825.5 391.9,824.9 392,824.2 392.1,823.5 392.4,822.8 392.7,822.1 393.1,821.4 393.6,820.7 394.1,820.1 394.6,819.4 395.1,818.7 395.6,818 396.1,817.3 396.5,816.6 397,815.9 397.3,815.2 397.6,814.6 397.9,813.9 398.1,813.2 398.2,812.5 398.3,811.8 398.3,811.1 398.2,810.4 398.1,809.8 398,809.1 397.8,808.4 397.6,807.7 397.4,807 397.2,806.3 396.9,805.6 396.7,804.9 396.4,804.3 396.1,803.6 395.9,802.9 395.6,802.2 395.3,801.5 395.1,800.8 394.8,800.1 394.6,799.5 394.4,798.8 394.2,798.1 394.1,797.4 394,796.7 393.9,796 393.9,795.3 394,794.6 394.1,794 394.3,793.3 394.5,792.6 394.8,791.9" fill="none" stroke="#5a8420" stroke-width="1.4" stroke-linejoin="round"/>
<line x1="394.1" y1="797.7" x2="413.6" y2="797.7" stroke="#5a8420" stroke-width="1.4"/>
<line x1="397.7" y1="814.4" x2="410" y2="814.4" stroke="#5a8420" stroke-width="1.4"/>
<line x1="391.9" y1="825" x2="415.9" y2="825" stroke="#5a8420" stroke-width="1.4"/>
<circle cx="442.2" cy="803.8" r="3.3" fill="#60c8b0"/>
<circle cx="435.3" cy="804" r="3.3" fill="#60c8b0"/>
<circle cx="449.2" cy="805" r="3.3" fill="#60c8b0"/>
<circle cx="442.2" cy="806.9" r="3.3" fill="#60c8b0"/>
<circle cx="435.3" cy="810.6" r="3.3" fill="#60c8b0"/>
<circle cx="442.2" cy="820" r="3.3" fill="#60c8b0"/>
<circle cx="442.2" cy="828.8" r="3.3" fill="#60c8b0"/>
<circle cx="435.3" cy="830" r="3.3" fill="#60c8b0"/>
<circle cx="449.2" cy="833" r="3.3" fill="#60c8b0"/>
<circle cx="442.2" cy="833.1" r="3.3" fill="#60c8b0"/>
<polygon points="453.5,803.8 453.8,804.3 454,804.8 454.2,805.3 454.2,805.8 454.2,806.2 454.1,806.7 453.9,807.2 453.7,807.7 453.3,808.2 453,808.7 452.6,809.2 452.1,809.7 451.6,810.1 451.2,810.6 450.7,811.1 450.2,811.6 449.7,812.1 449.3,812.6 448.8,813.1 448.4,813.6 448.1,814.1 447.8,814.5 447.5,815 447.3,815.5 447.1,816 446.9,816.5 446.8,817 446.7,817.5 446.7,818 446.6,818.5 446.6,818.9 446.7,819.4 446.8,819.9 446.9,820.4 447,820.9 447.2,821.4 447.3,821.9 447.6,822.4 447.8,822.8 448.1,823.3 448.4,823.8 448.7,824.3 449,824.8 449.4,825.3 449.8,825.8 450.1,826.3 450.5,826.8 450.9,827.2 451.2,827.7 451.6,828.2 451.8,828.7 452.1,829.2 452.3,829.7 452.4,830.2 452.5,830.7 452.5,831.1 452.4,831.6 452.3,832.1 452.1,832.6 451.8,833.1 432.7,833.1 432.4,832.6 432.2,832.1 432.1,831.6 432,831.1 432,830.7 432.1,830.2 432.2,829.7 432.4,829.2 432.6,828.7 432.9,828.2 433.2,827.7 433.6,827.2 434,826.8 434.3,826.3 434.7,825.8 435.1,825.3 435.5,824.8 435.8,824.3 436.1,823.8 436.4,823.3 436.7,822.8 436.9,822.4 437.1,821.9 437.3,821.4 437.5,820.9 437.6,820.4 437.7,819.9 437.8,819.4 437.8,818.9 437.8,818.5 437.8,818 437.8,817.5 437.7,817 437.6,816.5 437.4,816 437.2,815.5 437,815 436.7,814.5 436.4,814.1 436,813.6 435.6,813.1 435.2,812.6 434.8,812.1 434.3,811.6 433.8,811.1 433.3,810.6 432.8,810.1 432.4,809.7 431.9,809.2 431.5,808.7 431.1,808.2 430.8,807.7 430.6,807.2 430.4,806.7 430.3,806.2 430.2,805.8 430.3,805.3 430.4,804.8 430.7,804.3 431,803.8" fill="none" stroke="#2a8a70" stroke-width="1.4" stroke-linejoin="round"/>
<line x1="430.3" y1="805.5" x2="454.2" y2="805.5" stroke="#2a8a70" stroke-width="1.4"/>
<line x1="437.1" y1="815.3" x2="447.4" y2="815.3" stroke="#2a8a70" stroke-width="1.4"/>
<line x1="432.2" y1="829.7" x2="452.3" y2="829.7" stroke="#2a8a70" stroke-width="1.4"/>
<circle cx="480.6" cy="782.5" r="3.3" fill="#80a8e0"/>
<circle cx="480.6" cy="805.6" r="3.3" fill="#80a8e0"/>
<circle cx="473.7" cy="805.6" r="3.3" fill="#80a8e0"/>
<circle cx="487.6" cy="809.4" r="3.3" fill="#80a8e0"/>
<circle cx="480.6" cy="815" r="3.3" fill="#80a8e0"/>
<circle cx="473.7" cy="815.6" r="3.3" fill="#80a8e0"/>
<circle cx="487.6" cy="818.8" r="3.3" fill="#80a8e0"/>
<circle cx="480.6" cy="823.8" r="3.3" fill="#80a8e0"/>
<circle cx="477.3" cy="826.9" r="3.3" fill="#80a8e0"/>
<polygon points="483.5,782.5 483.5,783.2 483.4,784 483.3,784.7 483.1,785.5 482.9,786.2 482.7,786.9 482.5,787.7 482.2,788.4 482,789.2 481.8,789.9 481.7,790.6 481.6,791.4 481.5,792.1 481.5,792.9 481.5,793.6 481.6,794.3 481.8,795.1 482,795.8 482.3,796.6 482.7,797.3 483.2,798 483.7,798.8 484.3,799.5 485,800.3 485.7,801 486.4,801.7 487.2,802.5 487.9,803.2 488.6,804 489.2,804.7 489.8,805.4 490.4,806.2 490.8,806.9 491.2,807.7 491.6,808.4 491.8,809.1 492.1,809.9 492.2,810.6 492.4,811.4 492.5,812.1 492.6,812.8 492.6,813.6 492.6,814.3 492.6,815.1 492.5,815.8 492.5,816.5 492.3,817.3 492.1,818 491.9,818.8 491.7,819.5 491.4,820.2 491.1,821 490.7,821.7 490.4,822.5 490,823.2 489.5,823.9 489.1,824.7 488.6,825.4 488,826.2 487.5,826.9 473.8,826.9 473.2,826.2 472.7,825.4 472.2,824.7 471.7,823.9 471.3,823.2 470.9,822.5 470.5,821.7 470.1,821 469.8,820.2 469.5,819.5 469.3,818.8 469.1,818 468.9,817.3 468.8,816.5 468.7,815.8 468.6,815.1 468.6,814.3 468.6,813.6 468.7,812.8 468.8,812.1 468.9,811.4 469,810.6 469.2,809.9 469.4,809.1 469.7,808.4 470,807.7 470.4,806.9 470.9,806.2 471.4,805.4 472,804.7 472.7,804 473.4,803.2 474.1,802.5 474.8,801.7 475.5,801 476.3,800.3 476.9,799.5 477.5,798.8 478.1,798 478.5,797.3 478.9,796.6 479.2,795.8 479.5,795.1 479.6,794.3 479.7,793.6 479.8,792.9 479.8,792.1 479.7,791.4 479.6,790.6 479.4,789.9 479.2,789.2 479,788.4 478.8,787.7 478.5,786.9 478.3,786.2 478.1,785.5 478,784.7 477.8,784 477.8,783.2 477.7,782.5" fill="none" stroke="#3868b0" stroke-width="1.4" stroke-linejoin="round"/>
<line x1="471.3" y1="805.6" x2="490" y2="805.6" stroke="#3868b0" stroke-width="1.4"/>
<line x1="468.6" y1="815" x2="492.6" y2="815" stroke="#3868b0" stroke-width="1.4"/>
<line x1="469.3" y1="818.8" x2="491.9" y2="818.8" stroke="#3868b0" stroke-width="1.4"/>
<circle cx="519" cy="790" r="3.3" fill="#b05430"/>
<circle cx="519" cy="808.1" r="3.3" fill="#b05430"/>
<circle cx="512.1" cy="809.4" r="3.3" fill="#b05430"/>
<circle cx="525.9" cy="812.5" r="3.3" fill="#b05430"/>
<circle cx="519" cy="818.1" r="3.3" fill="#b05430"/>
<circle cx="512.1" cy="819.4" r="3.3" fill="#b05430"/>
<circle cx="519" cy="829.4" r="3.3" fill="#b05430"/>
<circle cx="519" cy="843.1" r="3.3" fill="#b05430"/>
<circle cx="515.7" cy="843.1" r="3.3" fill="#b05430"/>
<polygon points="522.1,790 522.1,790.9 522.1,791.8 522.2,792.7 522.2,793.5 522.2,794.4 522.3,795.3 522.4,796.2 522.5,797.1 522.7,798 523,798.9 523.4,799.7 523.8,800.6 524.3,801.5 524.9,802.4 525.5,803.3 526.1,804.2 526.8,805 527.5,805.9 528.2,806.8 528.8,807.7 529.3,808.6 529.9,809.5 530.3,810.4 530.6,811.2 530.8,812.1 531,813 531,813.9 530.9,814.8 530.8,815.7 530.6,816.5 530.3,817.4 529.9,818.3 529.5,819.2 529,820.1 528.6,821 528.1,821.9 527.6,822.7 527.1,823.6 526.7,824.5 526.3,825.4 525.9,826.3 525.5,827.2 525.2,828.1 524.9,828.9 524.7,829.8 524.6,830.7 524.5,831.6 524.4,832.5 524.4,833.4 524.4,834.2 524.5,835.1 524.6,836 524.8,836.9 524.9,837.8 525,838.7 525.2,839.6 525.2,840.4 525.3,841.3 525.3,842.2 525.2,843.1 512.8,843.1 512.7,842.2 512.7,841.3 512.8,840.4 512.8,839.6 513,838.7 513.1,837.8 513.2,836.9 513.4,836 513.5,835.1 513.6,834.2 513.6,833.4 513.6,832.5 513.5,831.6 513.4,830.7 513.3,829.8 513.1,828.9 512.8,828.1 512.5,827.2 512.1,826.3 511.7,825.4 511.3,824.5 510.9,823.6 510.4,822.7 509.9,821.9 509.4,821 509,820.1 508.5,819.2 508.1,818.3 507.7,817.4 507.4,816.5 507.2,815.7 507.1,814.8 507,813.9 507,813 507.2,812.1 507.4,811.2 507.7,810.4 508.1,809.5 508.7,808.6 509.2,807.7 509.8,806.8 510.5,805.9 511.2,805 511.9,804.2 512.5,803.3 513.1,802.4 513.7,801.5 514.2,800.6 514.6,799.7 515,798.9 515.3,798 515.5,797.1 515.6,796.2 515.7,795.3 515.8,794.4 515.8,793.5 515.8,792.7 515.9,791.8 515.9,790.9 515.9,790" fill="none" stroke="#7a2808" stroke-width="1.4" stroke-linejoin="round"/>
<line x1="508.2" y1="809.4" x2="529.8" y2="809.4" stroke="#7a2808" stroke-width="1.4"/>
<line x1="508" y1="818.1" x2="530" y2="818.1" stroke="#7a2808" stroke-width="1.4"/>
<line x1="513.2" y1="829.4" x2="524.8" y2="829.4" stroke="#7a2808" stroke-width="1.4"/>
<circle cx="557.4" cy="788.1" r="3.3" fill="#a02c60"/>
<circle cx="550.5" cy="788.8" r="3.3" fill="#a02c60"/>
<circle cx="564.3" cy="793.8" r="3.3" fill="#a02c60"/>
<circle cx="557.4" cy="797.5" r="3.3" fill="#a02c60"/>
<circle cx="554.1" cy="801.3" r="3.3" fill="#a02c60"/>
<circle cx="557.4" cy="821.3" r="3.3" fill="#a02c60"/>
<circle cx="550.5" cy="826.3" r="3.3" fill="#a02c60"/>
<circle cx="557.4" cy="830" r="3.3" fill="#a02c60"/>
<circle cx="550.5" cy="833.1" r="3.3" fill="#a02c60"/>
<circle cx="564.3" cy="833.1" r="3.3" fill="#a02c60"/>
<polygon points="567.1,788.1 567.5,788.9 567.9,789.6 568.2,790.4 568.4,791.1 568.6,791.9 568.8,792.6 568.8,793.4 568.8,794.1 568.7,794.9 568.6,795.6 568.4,796.4 568.2,797.1 567.8,797.9 567.5,798.6 567.1,799.4 566.6,800.1 566.2,800.9 565.7,801.6 565.2,802.4 564.7,803.1 564.2,803.9 563.7,804.6 563.3,805.4 562.9,806.1 562.5,806.9 562.1,807.6 561.8,808.4 561.6,809.1 561.4,809.9 561.3,810.6 561.2,811.4 561.3,812.1 561.3,812.9 561.5,813.6 561.7,814.4 562,815.1 562.3,815.9 562.7,816.6 563.1,817.4 563.5,818.1 564,818.9 564.5,819.6 565.1,820.4 565.6,821.1 566.2,821.9 566.7,822.6 567.2,823.4 567.6,824.1 568.1,824.9 568.5,825.6 568.8,826.4 569,827.1 569.2,827.9 569.3,828.6 569.4,829.4 569.3,830.1 569.2,830.9 569,831.6 568.7,832.4 568.3,833.1 546.4,833.1 546.1,832.4 545.8,831.6 545.6,830.9 545.4,830.1 545.4,829.4 545.4,828.6 545.5,827.9 545.7,827.1 546,826.4 546.3,825.6 546.7,824.9 547.1,824.1 547.6,823.4 548.1,822.6 548.6,821.9 549.1,821.1 549.7,820.4 550.2,819.6 550.7,818.9 551.2,818.1 551.7,817.4 552.1,816.6 552.5,815.9 552.8,815.1 553.1,814.4 553.3,813.6 553.4,812.9 553.5,812.1 553.5,811.4 553.5,810.6 553.4,809.9 553.2,809.1 552.9,808.4 552.6,807.6 552.3,806.9 551.9,806.1 551.5,805.4 551,804.6 550.5,803.9 550.1,803.1 549.6,802.4 549.1,801.6 548.6,800.9 548.1,800.1 547.7,799.4 547.3,798.6 546.9,797.9 546.6,797.1 546.4,796.4 546.2,795.6 546,794.9 545.9,794.1 545.9,793.4 546,792.6 546.1,791.9 546.3,791.1 546.6,790.4 546.9,789.6 547.3,788.9 547.7,788.1" fill="none" stroke="#4a0828" stroke-width="1.4" stroke-linejoin="round"/>
<line x1="546" y1="794.7" x2="568.8" y2="794.7" stroke="#4a0828" stroke-width="1.4"/>
<line x1="553.5" y1="811.3" x2="561.2" y2="811.3" stroke="#4a0828" stroke-width="1.4"/>
<line x1="545.4" y1="829.1" x2="569.4" y2="829.1" stroke="#4a0828" stroke-width="1.4"/>
<text transform="translate(632.5 655.6) scale(1 1.05)" font-size="37" font-weight="bold" fill="#231815">e</text>
<text transform="translate(979.3 655.8) scale(1 1.07)" font-size="22.5" font-weight="bold" text-anchor="middle">Immune serum: Delta</text>
<line x1="747.4" y1="697.5" x2="747.4" y2="905.5" stroke="#000" stroke-width="2"/>
<line x1="746.4" y1="904.5" x2="1213.5" y2="904.5" stroke="#000" stroke-width="2"/>
<line x1="740.9" y1="904.5" x2="747.4" y2="904.5" stroke="#000" stroke-width="2"/>
<text transform="translate(739.9 911) scale(1 1.05)" font-size="22.2" text-anchor="end">100</text>
<line x1="743.6" y1="873.5" x2="747.4" y2="873.5" stroke="#000" stroke-width="1.5"/>
<line x1="743.6" y1="855.4" x2="747.4" y2="855.4" stroke="#000" stroke-width="1.5"/>
<line x1="743.6" y1="842.5" x2="747.4" y2="842.5" stroke="#000" stroke-width="1.5"/>
<line x1="743.6" y1="832.5" x2="747.4" y2="832.5" stroke="#000" stroke-width="1.5"/>
<line x1="743.6" y1="824.4" x2="747.4" y2="824.4" stroke="#000" stroke-width="1.5"/>
<line x1="743.6" y1="817.5" x2="747.4" y2="817.5" stroke="#000" stroke-width="1.5"/>
<line x1="743.6" y1="811.5" x2="747.4" y2="811.5" stroke="#000" stroke-width="1.5"/>
<line x1="743.6" y1="806.2" x2="747.4" y2="806.2" stroke="#000" stroke-width="1.5"/>
<line x1="740.9" y1="801.5" x2="747.4" y2="801.5" stroke="#000" stroke-width="2"/>
<text transform="translate(739.9 808) scale(1 1.05)" font-size="22.2" text-anchor="end">1000</text>
<line x1="743.6" y1="770.5" x2="747.4" y2="770.5" stroke="#000" stroke-width="1.5"/>
<line x1="743.6" y1="752.4" x2="747.4" y2="752.4" stroke="#000" stroke-width="1.5"/>
<line x1="743.6" y1="739.5" x2="747.4" y2="739.5" stroke="#000" stroke-width="1.5"/>
<line x1="743.6" y1="729.5" x2="747.4" y2="729.5" stroke="#000" stroke-width="1.5"/>
<line x1="743.6" y1="721.4" x2="747.4" y2="721.4" stroke="#000" stroke-width="1.5"/>
<line x1="743.6" y1="714.5" x2="747.4" y2="714.5" stroke="#000" stroke-width="1.5"/>
<line x1="743.6" y1="708.5" x2="747.4" y2="708.5" stroke="#000" stroke-width="1.5"/>
<line x1="743.6" y1="703.2" x2="747.4" y2="703.2" stroke="#000" stroke-width="1.5"/>
<line x1="740.9" y1="698.5" x2="747.4" y2="698.5" stroke="#000" stroke-width="2"/>
<text transform="translate(739.9 705) scale(1 1.05)" font-size="22.2" text-anchor="end">10000</text>
<line x1="766.5" y1="904.5" x2="766.5" y2="910.5" stroke="#000" stroke-width="2"/>
<line x1="805.3" y1="904.5" x2="805.3" y2="910.5" stroke="#000" stroke-width="2"/>
<line x1="844" y1="904.5" x2="844" y2="910.5" stroke="#000" stroke-width="2"/>
<line x1="882.8" y1="904.5" x2="882.8" y2="910.5" stroke="#000" stroke-width="2"/>
<line x1="921.5" y1="904.5" x2="921.5" y2="910.5" stroke="#000" stroke-width="2"/>
<line x1="960.3" y1="904.5" x2="960.3" y2="910.5" stroke="#000" stroke-width="2"/>
<line x1="999.1" y1="904.5" x2="999.1" y2="910.5" stroke="#000" stroke-width="2"/>
<line x1="1037.8" y1="904.5" x2="1037.8" y2="910.5" stroke="#000" stroke-width="2"/>
<line x1="1076.6" y1="904.5" x2="1076.6" y2="910.5" stroke="#000" stroke-width="2"/>
<line x1="1115.3" y1="904.5" x2="1115.3" y2="910.5" stroke="#000" stroke-width="2"/>
<line x1="1154.1" y1="904.5" x2="1154.1" y2="910.5" stroke="#000" stroke-width="2"/>
<line x1="1192.9" y1="904.5" x2="1192.9" y2="910.5" stroke="#000" stroke-width="2"/>
<text transform="translate(774.4 916) rotate(-90) scale(1 1.04)" font-size="22" text-anchor="end">D614G</text>
<text transform="translate(813.2 916) rotate(-90) scale(1 1.04)" font-size="22" text-anchor="end">B.1.1.7 (Alpha)</text>
<text transform="translate(851.9 916) rotate(-90) scale(1 1.04)" font-size="22" text-anchor="end">B.1.351 (Beta)</text>
<text transform="translate(890.7 916) rotate(-90) scale(1 1.04)" font-size="22" text-anchor="end">P.1 (Gamma)</text>
<text transform="translate(929.4 916) rotate(-90) scale(1 1.04)" font-size="22" text-anchor="end">B.1.617.2 (Delta)</text>
<text transform="translate(968.2 916) rotate(-90) scale(1 1.04)" font-size="22" text-anchor="end">B.1.429 (Epsilon)</text>
<text transform="translate(1007 916) rotate(-90) scale(1 1.04)" font-size="22" text-anchor="end">P.2 (Zeta)</text>
<text transform="translate(1045.7 916) rotate(-90) scale(1 1.04)" font-size="22" text-anchor="end">B.1.525 (Eta)</text>
<text transform="translate(1084.5 916) rotate(-90) scale(1 1.04)" font-size="22" text-anchor="end">B.1.526 (S477N) (Lota)</text>
<text transform="translate(1123.2 916) rotate(-90) scale(1 1.04)" font-size="22" text-anchor="end">B.1.526 (E484K) (Lota)</text>
<text transform="translate(1162 916) rotate(-90) scale(1 1.04)" font-size="22" text-anchor="end">B.1.617.1 (Kappa)</text>
<text transform="translate(1200.8 916) rotate(-90) scale(1 1.04)" font-size="22" text-anchor="end">C.37 (Lamda)</text>
<text transform="translate(660.6 817.7) rotate(-90) scale(1 1.05)" font-size="22.5" font-weight="bold">ED<tspan font-size="13.2" dy="6.9">50</tspan></text>
<line x1="750" y1="756.6" x2="1212" y2="756.6" stroke="#000" stroke-width="2.3" stroke-dasharray="3.9 6.3" stroke-linecap="round"/>
<line x1="750" y1="818.6" x2="1212" y2="818.6" stroke="#000" stroke-width="2.6" stroke-dasharray="0.01 6.15" stroke-linecap="round"/>
<text transform="translate(1217.8 764.8) scale(1 1.03)" font-size="22.4">mean</text>
<text transform="translate(1217.8 825.2) scale(1 1.03)" font-size="22.4">4-fold</text>
<text transform="translate(979.7 1168.3) scale(1 1.07)" font-size="22.5" font-weight="bold" text-anchor="middle">Pseudotyped virus</text>
<circle cx="766.5" cy="720" r="3.0" fill="#b8603c"/>
<circle cx="766.5" cy="752.5" r="3.0" fill="#b8603c"/>
<circle cx="766.5" cy="775" r="3.0" fill="#b8603c"/>
<circle cx="766.5" cy="788.8" r="3.0" fill="#b8603c"/>
<circle cx="766.5" cy="800" r="3.0" fill="#b8603c"/>
<circle cx="760.2" cy="805" r="3.0" fill="#b8603c"/>
<circle cx="766.5" cy="813.8" r="3.0" fill="#b8603c"/>
<circle cx="760.2" cy="817.5" r="3.0" fill="#b8603c"/>
<circle cx="766.5" cy="864.4" r="3.0" fill="#b8603c"/>
<circle cx="766.5" cy="880.6" r="3.0" fill="#b8603c"/>
<polygon points="769.7,720 769.8,722.7 770,725.4 770.1,728 770.2,730.7 770.3,733.4 770.4,736.1 770.6,738.7 770.7,741.4 770.9,744.1 771.1,746.8 771.3,749.4 771.5,752.1 771.8,754.8 772.1,757.5 772.4,760.1 772.7,762.8 773.1,765.5 773.5,768.2 774,770.9 774.4,773.5 774.9,776.2 775.4,778.9 775.9,781.6 776.4,784.2 776.9,786.9 777.4,789.6 777.8,792.3 778.1,794.9 778.3,797.6 778.5,800.3 778.5,803 778.4,805.7 778.2,808.3 777.8,811 777.3,813.7 776.7,816.4 776.1,819 775.3,821.7 774.6,824.4 773.8,827.1 773.1,829.7 772.4,832.4 771.8,835.1 771.4,837.8 771,840.5 770.7,843.1 770.5,845.8 770.4,848.5 770.4,851.2 770.5,853.8 770.6,856.5 770.8,859.2 770.9,861.9 771.1,864.5 771.2,867.2 771.2,869.9 771.2,872.6 771.1,875.2 771,877.9 770.8,880.6 762.2,880.6 762,877.9 761.9,875.2 761.8,872.6 761.8,869.9 761.8,867.2 761.9,864.5 762.1,861.9 762.2,859.2 762.4,856.5 762.5,853.8 762.6,851.2 762.6,848.5 762.5,845.8 762.3,843.1 762,840.5 761.6,837.8 761.2,835.1 760.6,832.4 759.9,829.7 759.2,827.1 758.4,824.4 757.7,821.7 756.9,819 756.3,816.4 755.7,813.7 755.2,811 754.8,808.3 754.6,805.7 754.5,803 754.5,800.3 754.7,797.6 754.9,794.9 755.2,792.3 755.6,789.6 756.1,786.9 756.6,784.2 757.1,781.6 757.6,778.9 758.1,776.2 758.6,773.5 759,770.9 759.5,768.2 759.9,765.5 760.3,762.8 760.6,760.1 760.9,757.5 761.2,754.8 761.5,752.1 761.7,749.4 761.9,746.8 762.1,744.1 762.3,741.4 762.4,738.7 762.6,736.1 762.7,733.4 762.8,730.7 762.9,728 763,725.4 763.2,722.7 763.3,720" fill="none" stroke="#7a2a0a" stroke-width="1.4" stroke-linejoin="round"/>
<line x1="757.7" y1="778.5" x2="775.3" y2="778.5" stroke="#7a2a0a" stroke-width="1.4"/>
<line x1="754.5" y1="802.5" x2="778.5" y2="802.5" stroke="#7a2a0a" stroke-width="1.4"/>
<line x1="756.3" y1="816.6" x2="776.7" y2="816.6" stroke="#7a2a0a" stroke-width="1.4"/>
<circle cx="805.3" cy="723.8" r="3.0" fill="#a83868"/>
<circle cx="805.3" cy="767.5" r="3.0" fill="#a83868"/>
<circle cx="799" cy="770" r="3.0" fill="#a83868"/>
<circle cx="805.3" cy="775" r="3.0" fill="#a83868"/>
<circle cx="799" cy="778.1" r="3.0" fill="#a83868"/>
<circle cx="805.3" cy="785" r="3.0" fill="#a83868"/>
<circle cx="805.3" cy="814.4" r="3.0" fill="#a83868"/>
<circle cx="799" cy="819.4" r="3.0" fill="#a83868"/>
<circle cx="805.3" cy="824.4" r="3.0" fill="#a83868"/>
<circle cx="805.3" cy="831.3" r="3.0" fill="#a83868"/>
<polygon points="807.9,723.8 807.9,725.6 807.9,727.4 807.8,729.2 807.7,731 807.6,732.8 807.4,734.5 807.3,736.3 807.2,738.1 807.2,739.9 807.2,741.7 807.3,743.5 807.5,745.3 807.8,747.1 808.2,748.9 808.7,750.7 809.3,752.5 809.9,754.3 810.7,756 811.5,757.8 812.4,759.6 813.2,761.4 814.1,763.2 814.9,765 815.6,766.8 816.2,768.6 816.7,770.4 817.1,772.2 817.2,774 817.3,775.8 817.1,777.5 816.8,779.3 816.4,781.1 815.9,782.9 815.2,784.7 814.6,786.5 813.9,788.3 813.3,790.1 812.7,791.9 812.2,793.7 811.7,795.5 811.5,797.3 811.3,799 811.3,800.8 811.4,802.6 811.6,804.4 811.9,806.2 812.3,808 812.8,809.8 813.2,811.6 813.7,813.4 814.1,815.2 814.4,817 814.7,818.8 814.8,820.5 814.9,822.3 814.8,824.1 814.5,825.9 814.2,827.7 813.8,829.5 813.2,831.3 797.3,831.3 796.8,829.5 796.3,827.7 796,825.9 795.7,824.1 795.6,822.3 795.7,820.5 795.8,818.8 796.1,817 796.4,815.2 796.8,813.4 797.3,811.6 797.7,809.8 798.2,808 798.6,806.2 798.9,804.4 799.1,802.6 799.2,800.8 799.2,799 799.1,797.3 798.8,795.5 798.4,793.7 797.8,791.9 797.3,790.1 796.6,788.3 795.9,786.5 795.3,784.7 794.7,782.9 794.1,781.1 793.7,779.3 793.4,777.5 793.3,775.8 793.3,774 793.5,772.2 793.8,770.4 794.3,768.6 794.9,766.8 795.6,765 796.4,763.2 797.3,761.4 798.2,759.6 799,757.8 799.8,756 800.6,754.3 801.3,752.5 801.8,750.7 802.3,748.9 802.7,747.1 803,745.3 803.2,743.5 803.3,741.7 803.3,739.9 803.3,738.1 803.2,736.3 803.1,734.5 803,732.8 802.8,731 802.7,729.2 802.7,727.4 802.6,725.6 802.6,723.8" fill="none" stroke="#4a0a28" stroke-width="1.4" stroke-linejoin="round"/>
<line x1="793.6" y1="771.2" x2="816.9" y2="771.2" stroke="#4a0a28" stroke-width="1.4"/>
<line x1="794.2" y1="781.5" x2="816.3" y2="781.5" stroke="#4a0a28" stroke-width="1.4"/>
<line x1="795.9" y1="818.1" x2="814.6" y2="818.1" stroke="#4a0a28" stroke-width="1.4"/>
<circle cx="844" cy="746.9" r="3.0" fill="#5a8a28"/>
<circle cx="844" cy="775.6" r="3.0" fill="#5a8a28"/>
<circle cx="841" cy="776" r="3.0" fill="#5a8a28"/>
<circle cx="844" cy="800" r="3.0" fill="#5a8a28"/>
<circle cx="837.7" cy="801.9" r="3.0" fill="#5a8a28"/>
<circle cx="844" cy="820" r="3.0" fill="#5a8a28"/>
<circle cx="837.7" cy="824.4" r="3.0" fill="#5a8a28"/>
<circle cx="844" cy="833.1" r="3.0" fill="#5a8a28"/>
<circle cx="837.7" cy="838.1" r="3.0" fill="#5a8a28"/>
<circle cx="844" cy="860.6" r="3.0" fill="#5a8a28"/>
<polygon points="847.8,746.9 848,748.8 848.2,750.7 848.4,752.6 848.6,754.5 848.8,756.4 849,758.3 849.3,760.2 849.6,762.1 849.9,764 850.2,765.9 850.6,767.7 850.9,769.6 851.2,771.5 851.4,773.4 851.7,775.3 851.9,777.2 852,779.1 852.2,781 852.3,782.9 852.4,784.8 852.5,786.7 852.5,788.6 852.7,790.5 852.8,792.4 852.9,794.3 853.1,796.2 853.3,798.1 853.4,800 853.6,801.9 853.8,803.8 854.1,805.6 854.3,807.5 854.5,809.4 854.7,811.3 855,813.2 855.2,815.1 855.4,817 855.7,818.9 855.8,820.8 856,822.7 856,824.6 856,826.5 855.9,828.4 855.7,830.3 855.5,832.2 855.1,834.1 854.7,836 854.2,837.9 853.7,839.8 853.1,841.6 852.6,843.5 852,845.4 851.5,847.3 850.9,849.2 850.5,851.1 850,853 849.6,854.9 849.2,856.8 848.8,858.7 848.5,860.6 839.6,860.6 839.2,858.7 838.8,856.8 838.4,854.9 838,853 837.6,851.1 837.1,849.2 836.6,847.3 836,845.4 835.5,843.5 834.9,841.6 834.3,839.8 833.8,837.9 833.3,836 832.9,834.1 832.6,832.2 832.3,830.3 832.1,828.4 832,826.5 832,824.6 832.1,822.7 832.2,820.8 832.4,818.9 832.6,817 832.8,815.1 833.1,813.2 833.3,811.3 833.5,809.4 833.8,807.5 834,805.6 834.2,803.8 834.4,801.9 834.6,800 834.8,798.1 835,796.2 835.1,794.3 835.3,792.4 835.4,790.5 835.5,788.6 835.6,786.7 835.7,784.8 835.8,782.9 835.9,781 836,779.1 836.2,777.2 836.4,775.3 836.6,773.4 836.9,771.5 837.2,769.6 837.5,767.7 837.8,765.9 838.1,764 838.5,762.1 838.8,760.2 839,758.3 839.3,756.4 839.5,754.5 839.7,752.6 839.9,750.7 840.1,748.8 840.2,746.9" fill="none" stroke="#2a4a0a" stroke-width="1.4" stroke-linejoin="round"/>
<line x1="835.8" y1="782" x2="852.2" y2="782" stroke="#2a4a0a" stroke-width="1.4"/>
<line x1="833.3" y1="811" x2="854.7" y2="811" stroke="#2a4a0a" stroke-width="1.4"/>
<line x1="832.4" y1="830.9" x2="855.7" y2="830.9" stroke="#2a4a0a" stroke-width="1.4"/>
<circle cx="882.8" cy="715" r="3.0" fill="#2a8a68"/>
<circle cx="882.8" cy="735.6" r="3.0" fill="#2a8a68"/>
<circle cx="882.8" cy="763.1" r="3.0" fill="#2a8a68"/>
<circle cx="876.5" cy="765.6" r="3.0" fill="#2a8a68"/>
<circle cx="882.8" cy="773.1" r="3.0" fill="#2a8a68"/>
<circle cx="882.8" cy="782.5" r="3.0" fill="#2a8a68"/>
<circle cx="882.8" cy="791.9" r="3.0" fill="#2a8a68"/>
<circle cx="882.8" cy="806.3" r="3.0" fill="#2a8a68"/>
<circle cx="882.8" cy="814.4" r="3.0" fill="#2a8a68"/>
<circle cx="882.8" cy="835.6" r="3.0" fill="#2a8a68"/>
<polygon points="886.8,715 887.1,717 887.2,719 887.4,721 887.5,723 887.6,725 887.6,727.1 887.7,729.1 887.7,731.1 887.7,733.1 887.8,735.1 887.9,737.1 888,739.1 888.1,741.1 888.3,743.1 888.6,745.1 888.9,747.2 889.3,749.2 889.8,751.2 890.3,753.2 890.9,755.2 891.5,757.2 892.1,759.2 892.7,761.2 893.2,763.2 893.7,765.2 894.1,767.3 894.4,769.3 894.6,771.3 894.7,773.3 894.8,775.3 894.7,777.3 894.6,779.3 894.5,781.3 894.2,783.3 894,785.4 893.7,787.4 893.5,789.4 893.2,791.4 893,793.4 892.7,795.4 892.5,797.4 892.3,799.4 892.1,801.4 891.9,803.4 891.7,805.5 891.4,807.5 891.2,809.5 890.9,811.5 890.7,813.5 890.4,815.5 890.1,817.5 889.8,819.5 889.4,821.5 889.1,823.5 888.8,825.5 888.5,827.6 888.2,829.6 887.8,831.6 887.5,833.6 887.2,835.6 878.4,835.6 878,833.6 877.7,831.6 877.4,829.6 877.1,827.6 876.8,825.5 876.4,823.5 876.1,821.5 875.8,819.5 875.5,817.5 875.2,815.5 874.9,813.5 874.6,811.5 874.4,809.5 874.1,807.5 873.9,805.5 873.7,803.4 873.5,801.4 873.3,799.4 873,797.4 872.8,795.4 872.6,793.4 872.3,791.4 872.1,789.4 871.8,787.4 871.6,785.4 871.3,783.3 871.1,781.3 870.9,779.3 870.8,777.3 870.8,775.3 870.8,773.3 870.9,771.3 871.2,769.3 871.5,767.3 871.9,765.2 872.3,763.2 872.9,761.2 873.5,759.2 874.1,757.2 874.6,755.2 875.2,753.2 875.7,751.2 876.2,749.2 876.6,747.2 877,745.1 877.2,743.1 877.4,741.1 877.6,739.1 877.7,737.1 877.8,735.1 877.8,733.1 877.9,731.1 877.9,729.1 877.9,727.1 878,725 878.1,723 878.2,721 878.3,719 878.5,717 878.7,715" fill="none" stroke="#0a3a28" stroke-width="1.4" stroke-linejoin="round"/>
<line x1="872.2" y1="763.7" x2="893.3" y2="763.7" stroke="#0a3a28" stroke-width="1.4"/>
<line x1="870.9" y1="777.8" x2="894.7" y2="777.8" stroke="#0a3a28" stroke-width="1.4"/>
<line x1="873.6" y1="802.7" x2="892" y2="802.7" stroke="#0a3a28" stroke-width="1.4"/>
<circle cx="921.5" cy="711.3" r="3.0" fill="#3a68a8"/>
<circle cx="915.2" cy="713.1" r="3.0" fill="#3a68a8"/>
<circle cx="921.5" cy="733.1" r="3.0" fill="#3a68a8"/>
<circle cx="921.5" cy="745.6" r="3.0" fill="#3a68a8"/>
<circle cx="915.2" cy="745.6" r="3.0" fill="#3a68a8"/>
<circle cx="921.5" cy="766.3" r="3.0" fill="#3a68a8"/>
<circle cx="915.2" cy="767.5" r="3.0" fill="#3a68a8"/>
<circle cx="921.5" cy="776.3" r="3.0" fill="#3a68a8"/>
<circle cx="921.5" cy="802.5" r="3.0" fill="#3a68a8"/>
<circle cx="918.5" cy="806.3" r="3.0" fill="#3a68a8"/>
<polygon points="929.6,711.3 929.8,712.9 930.1,714.5 930.3,716 930.4,717.6 930.5,719.2 930.6,720.8 930.7,722.4 930.8,724 930.9,725.5 931.1,727.1 931.2,728.7 931.4,730.3 931.6,731.9 931.8,733.5 932,735 932.2,736.6 932.4,738.2 932.6,739.8 932.8,741.4 932.9,743 933.1,744.5 933.2,746.1 933.2,747.7 933.3,749.3 933.3,750.9 933.4,752.5 933.4,754 933.5,755.6 933.5,757.2 933.5,758.8 933.5,760.4 933.5,762 933.5,763.5 933.4,765.1 933.3,766.7 933.2,768.3 933,769.9 932.7,771.5 932.4,773 932,774.6 931.7,776.2 931.3,777.8 930.8,779.4 930.4,781 930.1,782.5 929.7,784.1 929.5,785.7 929.2,787.3 929.1,788.9 929,790.5 928.9,792 928.9,793.6 928.9,795.2 929,796.8 929,798.4 929,800 929,801.5 929,803.1 928.8,804.7 928.7,806.3 914.4,806.3 914.2,804.7 914.1,803.1 914.1,801.5 914,800 914.1,798.4 914.1,796.8 914.1,795.2 914.2,793.6 914.2,792 914.1,790.5 914,788.9 913.8,787.3 913.6,785.7 913.3,784.1 913,782.5 912.6,781 912.2,779.4 911.8,777.8 911.4,776.2 911,774.6 910.7,773 910.4,771.5 910.1,769.9 909.9,768.3 909.7,766.7 909.6,765.1 909.6,763.5 909.5,762 909.5,760.4 909.6,758.8 909.6,757.2 909.6,755.6 909.7,754 909.7,752.5 909.7,750.9 909.8,749.3 909.8,747.7 909.9,746.1 910,744.5 910.1,743 910.3,741.4 910.5,739.8 910.6,738.2 910.9,736.6 911.1,735 911.3,733.5 911.5,731.9 911.7,730.3 911.9,728.7 912,727.1 912.1,725.5 912.3,724 912.4,722.4 912.5,720.8 912.6,719.2 912.7,717.6 912.8,716 913,714.5 913.2,712.9 913.5,711.3" fill="none" stroke="#0a2050" stroke-width="1.4" stroke-linejoin="round"/>
<line x1="910.9" y1="736.2" x2="932.2" y2="736.2" stroke="#0a2050" stroke-width="1.4"/>
<line x1="909.6" y1="756" x2="933.5" y2="756" stroke="#0a2050" stroke-width="1.4"/>
<line x1="910.9" y1="774.1" x2="932.2" y2="774.1" stroke="#0a2050" stroke-width="1.4"/>
<circle cx="960.3" cy="723.8" r="3.0" fill="#f88838"/>
<circle cx="957.3" cy="728.1" r="3.0" fill="#f88838"/>
<circle cx="960.3" cy="761.3" r="3.0" fill="#f88838"/>
<circle cx="954" cy="763.1" r="3.0" fill="#f88838"/>
<circle cx="960.3" cy="768.1" r="3.0" fill="#f88838"/>
<circle cx="960.3" cy="789.4" r="3.0" fill="#f88838"/>
<circle cx="960.3" cy="802.5" r="3.0" fill="#f88838"/>
<circle cx="954" cy="806.3" r="3.0" fill="#f88838"/>
<circle cx="960.3" cy="810.6" r="3.0" fill="#f88838"/>
<circle cx="960.3" cy="833.1" r="3.0" fill="#f88838"/>
<polygon points="966.9,723.8 967,725.6 967.1,727.4 967.1,729.3 967.1,731.1 967,732.9 967,734.7 966.9,736.6 966.8,738.4 966.9,740.2 966.9,742 967.1,743.8 967.3,745.7 967.6,747.5 967.9,749.3 968.3,751.1 968.8,752.9 969.2,754.8 969.7,756.6 970.1,758.4 970.4,760.2 970.7,762.1 970.9,763.9 971,765.7 971.1,767.5 971,769.3 970.9,771.2 970.8,773 970.6,774.8 970.4,776.6 970.3,778.4 970.2,780.3 970.2,782.1 970.2,783.9 970.3,785.7 970.5,787.6 970.7,789.4 970.9,791.2 971.2,793 971.5,794.8 971.8,796.7 972,798.5 972.2,800.3 972.3,802.1 972.3,804 972.2,805.8 972.1,807.6 971.8,809.4 971.5,811.2 971,813.1 970.6,814.9 970.1,816.7 969.5,818.5 969,820.3 968.4,822.2 967.9,824 967.4,825.8 966.9,827.6 966.4,829.5 965.9,831.3 965.5,833.1 955.1,833.1 954.7,831.3 954.2,829.5 953.7,827.6 953.2,825.8 952.7,824 952.2,822.2 951.6,820.3 951.1,818.5 950.5,816.7 950,814.9 949.6,813.1 949.1,811.2 948.8,809.4 948.5,807.6 948.4,805.8 948.3,804 948.3,802.1 948.4,800.3 948.6,798.5 948.8,796.7 949.1,794.8 949.4,793 949.7,791.2 949.9,789.4 950.1,787.6 950.3,785.7 950.4,783.9 950.4,782.1 950.4,780.3 950.3,778.4 950.2,776.6 950,774.8 949.8,773 949.7,771.2 949.6,769.3 949.5,767.5 949.6,765.7 949.7,763.9 949.9,762.1 950.2,760.2 950.5,758.4 950.9,756.6 951.4,754.8 951.8,752.9 952.3,751.1 952.7,749.3 953,747.5 953.3,745.7 953.5,743.8 953.7,742 953.7,740.2 953.8,738.4 953.7,736.6 953.6,734.7 953.6,732.9 953.5,731.1 953.5,729.3 953.5,727.4 953.6,725.6 953.7,723.8" fill="none" stroke="#c05838" stroke-width="1.4" stroke-linejoin="round"/>
<line x1="949.9" y1="761.7" x2="970.7" y2="761.7" stroke="#c05838" stroke-width="1.4"/>
<line x1="950.3" y1="778.8" x2="970.3" y2="778.8" stroke="#c05838" stroke-width="1.4"/>
<line x1="948.4" y1="805.3" x2="972.2" y2="805.3" stroke="#c05838" stroke-width="1.4"/>
<circle cx="999.1" cy="731.3" r="3.0" fill="#e07898"/>
<circle cx="999.1" cy="760" r="3.0" fill="#e07898"/>
<circle cx="999.1" cy="788.1" r="3.0" fill="#e07898"/>
<circle cx="999.1" cy="796.3" r="3.0" fill="#e07898"/>
<circle cx="999.1" cy="822.5" r="3.0" fill="#e07898"/>
<circle cx="992.8" cy="824.4" r="3.0" fill="#e07898"/>
<circle cx="1005.4" cy="826.3" r="3.0" fill="#e07898"/>
<circle cx="999.1" cy="834.4" r="3.0" fill="#e07898"/>
<circle cx="999.1" cy="843.8" r="3.0" fill="#e07898"/>
<circle cx="999.1" cy="860.6" r="3.0" fill="#e07898"/>
<polygon points="1002.1,731.3 1002.2,733.5 1002.3,735.6 1002.4,737.8 1002.4,739.9 1002.5,742.1 1002.5,744.2 1002.5,746.4 1002.6,748.5 1002.6,750.7 1002.6,752.8 1002.7,755 1002.7,757.2 1002.8,759.3 1002.9,761.5 1002.9,763.6 1003,765.8 1003.1,767.9 1003.3,770.1 1003.4,772.2 1003.6,774.4 1003.8,776.6 1004,778.7 1004.2,780.9 1004.4,783 1004.7,785.2 1004.9,787.3 1005.1,789.5 1005.3,791.6 1005.5,793.8 1005.8,796 1006,798.1 1006.2,800.3 1006.5,802.4 1006.9,804.6 1007.3,806.7 1007.7,808.9 1008.1,811 1008.6,813.2 1009.1,815.3 1009.6,817.5 1010,819.7 1010.4,821.8 1010.7,824 1011,826.1 1011.1,828.3 1011.1,830.4 1010.9,832.6 1010.7,834.7 1010.4,836.9 1010,839 1009.5,841.2 1008.9,843.4 1008.4,845.5 1007.8,847.7 1007.2,849.8 1006.6,852 1006,854.1 1005.4,856.3 1004.8,858.4 1004.3,860.6 993.8,860.6 993.3,858.4 992.7,856.3 992.2,854.1 991.6,852 991,849.8 990.4,847.7 989.8,845.5 989.2,843.4 988.7,841.2 988.2,839 987.7,836.9 987.4,834.7 987.2,832.6 987.1,830.4 987.1,828.3 987.2,826.1 987.4,824 987.7,821.8 988.1,819.7 988.5,817.5 989,815.3 989.5,813.2 990,811 990.4,808.9 990.9,806.7 991.2,804.6 991.6,802.4 991.9,800.3 992.1,798.1 992.4,796 992.6,793.8 992.8,791.6 993,789.5 993.2,787.3 993.5,785.2 993.7,783 993.9,780.9 994.1,778.7 994.3,776.6 994.5,774.4 994.7,772.2 994.8,770.1 995,767.9 995.1,765.8 995.2,763.6 995.3,761.5 995.3,759.3 995.4,757.2 995.4,755 995.5,752.8 995.5,750.7 995.6,748.5 995.6,746.4 995.6,744.2 995.7,742.1 995.7,739.9 995.8,737.8 995.8,735.6 995.9,733.5 996,731.3" fill="none" stroke="#a0245a" stroke-width="1.4" stroke-linejoin="round"/>
<line x1="993" y1="790.2" x2="1005.2" y2="790.2" stroke="#a0245a" stroke-width="1.4"/>
<line x1="987.5" y1="823.5" x2="1010.7" y2="823.5" stroke="#a0245a" stroke-width="1.4"/>
<line x1="987.2" y1="832.4" x2="1010.9" y2="832.4" stroke="#a0245a" stroke-width="1.4"/>
<circle cx="1037.8" cy="736.3" r="3.0" fill="#aab868"/>
<circle cx="1037.8" cy="765" r="3.0" fill="#aab868"/>
<circle cx="1037.8" cy="796.3" r="3.0" fill="#aab868"/>
<circle cx="1031.5" cy="796.5" r="3.0" fill="#aab868"/>
<circle cx="1037.8" cy="808.8" r="3.0" fill="#aab868"/>
<circle cx="1031.5" cy="813.8" r="3.0" fill="#aab868"/>
<circle cx="1037.8" cy="823.8" r="3.0" fill="#aab868"/>
<circle cx="1037.8" cy="834.4" r="3.0" fill="#aab868"/>
<circle cx="1031.5" cy="836.9" r="3.0" fill="#aab868"/>
<circle cx="1037.8" cy="856.9" r="3.0" fill="#aab868"/>
<polygon points="1041,736.3 1041.1,738.3 1041.1,740.3 1041.2,742.3 1041.2,744.3 1041.2,746.3 1041.2,748.4 1041.2,750.4 1041.2,752.4 1041.3,754.4 1041.3,756.4 1041.3,758.4 1041.4,760.4 1041.4,762.4 1041.5,764.4 1041.6,766.4 1041.6,768.5 1041.7,770.5 1041.9,772.5 1042.1,774.5 1042.3,776.5 1042.6,778.5 1043,780.5 1043.4,782.5 1043.9,784.5 1044.5,786.5 1045.1,788.6 1045.7,790.6 1046.3,792.6 1046.9,794.6 1047.5,796.6 1048,798.6 1048.5,800.6 1048.9,802.6 1049.2,804.6 1049.4,806.6 1049.6,808.7 1049.7,810.7 1049.8,812.7 1049.8,814.7 1049.8,816.7 1049.7,818.7 1049.6,820.7 1049.5,822.7 1049.3,824.7 1049.1,826.8 1048.9,828.8 1048.6,830.8 1048.3,832.8 1047.9,834.8 1047.5,836.8 1047.1,838.8 1046.6,840.8 1046.1,842.8 1045.6,844.8 1045.1,846.8 1044.6,848.9 1044.1,850.9 1043.6,852.9 1043.2,854.9 1042.7,856.9 1033,856.9 1032.5,854.9 1032,852.9 1031.5,850.9 1031,848.9 1030.5,846.8 1030,844.8 1029.5,842.8 1029,840.8 1028.6,838.8 1028.2,836.8 1027.8,834.8 1027.4,832.8 1027.1,830.8 1026.8,828.8 1026.5,826.8 1026.3,824.7 1026.2,822.7 1026,820.7 1025.9,818.7 1025.8,816.7 1025.8,814.7 1025.8,812.7 1025.9,810.7 1026,808.7 1026.2,806.6 1026.5,804.6 1026.8,802.6 1027.2,800.6 1027.6,798.6 1028.1,796.6 1028.7,794.6 1029.3,792.6 1029.9,790.6 1030.5,788.6 1031.1,786.5 1031.7,784.5 1032.2,782.5 1032.6,780.5 1033,778.5 1033.3,776.5 1033.6,774.5 1033.7,772.5 1033.9,770.5 1034,768.5 1034.1,766.4 1034.2,764.4 1034.2,762.4 1034.3,760.4 1034.3,758.4 1034.3,756.4 1034.4,754.4 1034.4,752.4 1034.4,750.4 1034.4,748.4 1034.4,746.3 1034.5,744.3 1034.5,742.3 1034.5,740.3 1034.6,738.3 1034.7,736.3" fill="none" stroke="#5a8420" stroke-width="1.4" stroke-linejoin="round"/>
<line x1="1028.2" y1="796.3" x2="1047.4" y2="796.3" stroke="#5a8420" stroke-width="1.4"/>
<line x1="1025.9" y1="811.3" x2="1049.8" y2="811.3" stroke="#5a8420" stroke-width="1.4"/>
<line x1="1027.2" y1="831.8" x2="1048.4" y2="831.8" stroke="#5a8420" stroke-width="1.4"/>
<circle cx="1076.6" cy="750.6" r="3.0" fill="#60c8b0"/>
<circle cx="1076.6" cy="766.3" r="3.0" fill="#60c8b0"/>
<circle cx="1076.6" cy="780.6" r="3.0" fill="#60c8b0"/>
<circle cx="1070.3" cy="781.9" r="3.0" fill="#60c8b0"/>
<circle cx="1076.6" cy="790" r="3.0" fill="#60c8b0"/>
<circle cx="1076.6" cy="812.5" r="3.0" fill="#60c8b0"/>
<circle cx="1070.3" cy="816.3" r="3.0" fill="#60c8b0"/>
<circle cx="1076.6" cy="821.9" r="3.0" fill="#60c8b0"/>
<circle cx="1070.3" cy="825" r="3.0" fill="#60c8b0"/>
<circle cx="1076.6" cy="855" r="3.0" fill="#60c8b0"/>
<polygon points="1081.5,750.6 1081.9,752.3 1082.2,754.1 1082.6,755.8 1082.9,757.6 1083.3,759.3 1083.6,761 1084,762.8 1084.4,764.5 1084.8,766.3 1085.2,768 1085.6,769.7 1086,771.5 1086.3,773.2 1086.7,775 1086.9,776.7 1087.1,778.4 1087.2,780.2 1087.2,781.9 1087.2,783.7 1087,785.4 1086.8,787.1 1086.6,788.9 1086.3,790.6 1086,792.4 1085.7,794.1 1085.6,795.8 1085.4,797.6 1085.4,799.3 1085.5,801.1 1085.7,802.8 1086,804.5 1086.4,806.3 1086.8,808 1087.3,809.8 1087.7,811.5 1088.1,813.2 1088.4,815 1088.5,816.7 1088.6,818.5 1088.5,820.2 1088.2,821.9 1087.8,823.7 1087.2,825.4 1086.6,827.2 1085.9,828.9 1085.1,830.6 1084.4,832.4 1083.6,834.1 1082.9,835.9 1082.3,837.6 1081.8,839.3 1081.4,841.1 1081,842.8 1080.8,844.6 1080.6,846.3 1080.4,848 1080.3,849.8 1080.2,851.5 1080.1,853.3 1080,855 1073.1,855 1073,853.3 1072.9,851.5 1072.8,849.8 1072.7,848 1072.6,846.3 1072.4,844.6 1072.1,842.8 1071.8,841.1 1071.4,839.3 1070.8,837.6 1070.2,835.9 1069.5,834.1 1068.8,832.4 1068,830.6 1067.3,828.9 1066.6,827.2 1065.9,825.4 1065.4,823.7 1065,821.9 1064.7,820.2 1064.6,818.5 1064.6,816.7 1064.8,815 1065.1,813.2 1065.5,811.5 1065.9,809.8 1066.3,808 1066.8,806.3 1067.1,804.5 1067.4,802.8 1067.6,801.1 1067.7,799.3 1067.7,797.6 1067.6,795.8 1067.4,794.1 1067.2,792.4 1066.9,790.6 1066.6,788.9 1066.3,787.1 1066.1,785.4 1066,783.7 1065.9,781.9 1065.9,780.2 1066.1,778.4 1066.2,776.7 1066.5,775 1066.8,773.2 1067.2,771.5 1067.6,769.7 1068,768 1068.4,766.3 1068.8,764.5 1069.1,762.8 1069.5,761 1069.9,759.3 1070.2,757.6 1070.6,755.8 1070.9,754.1 1071.3,752.3 1071.7,750.6" fill="none" stroke="#2a8a70" stroke-width="1.4" stroke-linejoin="round"/>
<line x1="1065.9" y1="780.9" x2="1087.2" y2="780.9" stroke="#2a8a70" stroke-width="1.4"/>
<line x1="1067.6" y1="801.2" x2="1085.5" y2="801.2" stroke="#2a8a70" stroke-width="1.4"/>
<line x1="1064.7" y1="820.5" x2="1088.4" y2="820.5" stroke="#2a8a70" stroke-width="1.4"/>
<circle cx="1115.3" cy="758.1" r="3.0" fill="#80a8e0"/>
<circle cx="1115.3" cy="785" r="3.0" fill="#80a8e0"/>
<circle cx="1115.3" cy="803.1" r="3.0" fill="#80a8e0"/>
<circle cx="1115.3" cy="816.3" r="3.0" fill="#80a8e0"/>
<circle cx="1112.3" cy="821.9" r="3.0" fill="#80a8e0"/>
<circle cx="1115.3" cy="851.9" r="3.0" fill="#80a8e0"/>
<circle cx="1109" cy="855" r="3.0" fill="#80a8e0"/>
<circle cx="1121.6" cy="855.5" r="3.0" fill="#80a8e0"/>
<circle cx="1115.3" cy="860" r="3.0" fill="#80a8e0"/>
<circle cx="1115.3" cy="877.5" r="3.0" fill="#80a8e0"/>
<polygon points="1118.7,758.1 1118.8,760.1 1118.9,762.1 1119,764.1 1119.1,766.1 1119.2,768.1 1119.3,770 1119.4,772 1119.5,774 1119.7,776 1119.8,778 1120,780 1120.2,782 1120.4,784 1120.6,786 1120.8,788 1121,789.9 1121.3,791.9 1121.5,793.9 1121.8,795.9 1122,797.9 1122.3,799.9 1122.5,801.9 1122.7,803.9 1122.9,805.9 1123,807.9 1123.2,809.8 1123.2,811.8 1123.3,813.8 1123.2,815.8 1123.2,817.8 1123.1,819.8 1123,821.8 1123,823.8 1122.9,825.8 1122.9,827.8 1122.9,829.7 1123,831.7 1123.2,833.7 1123.4,835.7 1123.8,837.7 1124.2,839.7 1124.6,841.7 1125.1,843.7 1125.7,845.7 1126.1,847.6 1126.6,849.6 1126.9,851.6 1127.2,853.6 1127.3,855.6 1127.3,857.6 1127.2,859.6 1127,861.6 1126.6,863.6 1126.1,865.6 1125.5,867.5 1124.9,869.5 1124.2,871.5 1123.5,873.5 1122.7,875.5 1122,877.5 1108.7,877.5 1107.9,875.5 1107.2,873.5 1106.5,871.5 1105.8,869.5 1105.2,867.5 1104.6,865.6 1104.1,863.6 1103.7,861.6 1103.5,859.6 1103.3,857.6 1103.3,855.6 1103.5,853.6 1103.7,851.6 1104.1,849.6 1104.5,847.6 1105,845.7 1105.5,843.7 1106,841.7 1106.5,839.7 1106.9,837.7 1107.2,835.7 1107.5,833.7 1107.7,831.7 1107.8,829.7 1107.8,827.8 1107.8,825.8 1107.7,823.8 1107.6,821.8 1107.5,819.8 1107.5,817.8 1107.4,815.8 1107.4,813.8 1107.5,811.8 1107.5,809.8 1107.6,807.9 1107.8,805.9 1108,803.9 1108.2,801.9 1108.4,799.9 1108.7,797.9 1108.9,795.9 1109.2,793.9 1109.4,791.9 1109.7,789.9 1109.9,788 1110.1,786 1110.3,784 1110.5,782 1110.7,780 1110.9,778 1111,776 1111.1,774 1111.3,772 1111.4,770 1111.5,768.1 1111.5,766.1 1111.6,764.1 1111.8,762.1 1111.9,760.1 1112,758.1" fill="none" stroke="#3868b0" stroke-width="1.4" stroke-linejoin="round"/>
<line x1="1107.8" y1="806.4" x2="1122.9" y2="806.4" stroke="#3868b0" stroke-width="1.4"/>
<line x1="1107" y1="836.9" x2="1123.6" y2="836.9" stroke="#3868b0" stroke-width="1.4"/>
<line x1="1103.4" y1="855.4" x2="1127.3" y2="855.4" stroke="#3868b0" stroke-width="1.4"/>
<circle cx="1154.1" cy="743.8" r="3.0" fill="#b05430"/>
<circle cx="1154.1" cy="780" r="3.0" fill="#b05430"/>
<circle cx="1154.1" cy="800.6" r="3.0" fill="#b05430"/>
<circle cx="1147.8" cy="802.5" r="3.0" fill="#b05430"/>
<circle cx="1160.4" cy="805" r="3.0" fill="#b05430"/>
<circle cx="1154.1" cy="828.8" r="3.0" fill="#b05430"/>
<circle cx="1147.8" cy="833.1" r="3.0" fill="#b05430"/>
<circle cx="1154.1" cy="843.8" r="3.0" fill="#b05430"/>
<circle cx="1147.8" cy="844.4" r="3.0" fill="#b05430"/>
<circle cx="1154.1" cy="867.5" r="3.0" fill="#b05430"/>
<polygon points="1157.3,743.8 1157.4,745.9 1157.3,747.9 1157.3,750 1157.2,752 1157.2,754.1 1157.1,756.2 1157.1,758.2 1157.1,760.3 1157.1,762.4 1157.2,764.4 1157.4,766.5 1157.7,768.5 1158,770.6 1158.3,772.7 1158.8,774.7 1159.2,776.8 1159.8,778.8 1160.3,780.9 1160.9,783 1161.5,785 1162.1,787.1 1162.7,789.2 1163.3,791.2 1163.8,793.3 1164.3,795.3 1164.7,797.4 1165,799.5 1165.2,801.5 1165.3,803.6 1165.3,805.6 1165.3,807.7 1165.2,809.8 1165.1,811.8 1164.9,813.9 1164.9,816 1164.9,818 1164.9,820.1 1165,822.1 1165.2,824.2 1165.4,826.3 1165.6,828.3 1165.8,830.4 1166,832.5 1166.1,834.5 1166.1,836.6 1166,838.6 1165.9,840.7 1165.6,842.8 1165.2,844.8 1164.7,846.9 1164.2,848.9 1163.6,851 1163,853.1 1162.4,855.1 1161.8,857.2 1161.2,859.3 1160.7,861.3 1160.1,863.4 1159.6,865.4 1159.1,867.5 1149.1,867.5 1148.6,865.4 1148.1,863.4 1147.5,861.3 1147,859.3 1146.4,857.2 1145.8,855.1 1145.2,853.1 1144.6,851 1144,848.9 1143.5,846.9 1143,844.8 1142.6,842.8 1142.3,840.7 1142.2,838.6 1142.1,836.6 1142.1,834.5 1142.2,832.5 1142.4,830.4 1142.6,828.3 1142.8,826.3 1143,824.2 1143.2,822.1 1143.3,820.1 1143.3,818 1143.3,816 1143.3,813.9 1143.1,811.8 1143,809.8 1142.9,807.7 1142.9,805.6 1142.9,803.6 1143,801.5 1143.2,799.5 1143.5,797.4 1143.9,795.3 1144.4,793.3 1144.9,791.2 1145.5,789.2 1146.1,787.1 1146.7,785 1147.3,783 1147.9,780.9 1148.4,778.8 1149,776.8 1149.4,774.7 1149.9,772.7 1150.2,770.6 1150.5,768.5 1150.8,766.5 1151,764.4 1151.1,762.4 1151.1,760.3 1151.1,758.2 1151.1,756.2 1151,754.1 1151,752 1150.9,750 1150.9,747.9 1150.8,745.9 1150.9,743.8" fill="none" stroke="#7a2808" stroke-width="1.4" stroke-linejoin="round"/>
<line x1="1143.1" y1="801.1" x2="1165.1" y2="801.1" stroke="#7a2808" stroke-width="1.4"/>
<line x1="1143.3" y1="816.9" x2="1164.9" y2="816.9" stroke="#7a2808" stroke-width="1.4"/>
<line x1="1142.4" y1="841.1" x2="1165.8" y2="841.1" stroke="#7a2808" stroke-width="1.4"/>
<circle cx="1192.9" cy="725.6" r="3.0" fill="#a02c60"/>
<circle cx="1192.9" cy="758.8" r="3.0" fill="#a02c60"/>
<circle cx="1186.6" cy="758.8" r="3.0" fill="#a02c60"/>
<circle cx="1199.2" cy="761.3" r="3.0" fill="#a02c60"/>
<circle cx="1192.9" cy="771.9" r="3.0" fill="#a02c60"/>
<circle cx="1192.9" cy="789.4" r="3.0" fill="#a02c60"/>
<circle cx="1192.9" cy="804.4" r="3.0" fill="#a02c60"/>
<circle cx="1192.9" cy="810.6" r="3.0" fill="#a02c60"/>
<circle cx="1192.9" cy="819.4" r="3.0" fill="#a02c60"/>
<circle cx="1192.9" cy="831.9" r="3.0" fill="#a02c60"/>
<polygon points="1196.3,725.6 1196.5,727.4 1196.6,729.1 1196.7,730.9 1196.8,732.7 1197,734.5 1197.3,736.2 1197.6,738 1197.9,739.8 1198.4,741.5 1198.9,743.3 1199.5,745.1 1200.2,746.9 1200.9,748.6 1201.6,750.4 1202.4,752.2 1203,753.9 1203.6,755.7 1204.1,757.5 1204.5,759.3 1204.7,761 1204.9,762.8 1204.8,764.6 1204.7,766.3 1204.4,768.1 1204.1,769.9 1203.7,771.7 1203.2,773.4 1202.8,775.2 1202.3,777 1201.9,778.8 1201.6,780.5 1201.3,782.3 1201.1,784.1 1200.9,785.8 1200.9,787.6 1200.9,789.4 1201,791.2 1201.1,792.9 1201.3,794.7 1201.5,796.5 1201.8,798.2 1202,800 1202.3,801.8 1202.5,803.6 1202.7,805.3 1202.9,807.1 1203,808.9 1203.1,810.6 1203.1,812.4 1203,814.2 1202.8,816 1202.6,817.7 1202.4,819.5 1202,821.3 1201.7,823 1201.2,824.8 1200.8,826.6 1200.3,828.4 1199.8,830.1 1199.2,831.9 1186.5,831.9 1185.9,830.1 1185.4,828.4 1184.9,826.6 1184.5,824.8 1184.1,823 1183.7,821.3 1183.4,819.5 1183.1,817.7 1182.9,816 1182.7,814.2 1182.7,812.4 1182.7,810.6 1182.7,808.9 1182.8,807.1 1183,805.3 1183.2,803.6 1183.4,801.8 1183.7,800 1183.9,798.2 1184.2,796.5 1184.4,794.7 1184.6,792.9 1184.7,791.2 1184.8,789.4 1184.8,787.6 1184.8,785.8 1184.6,784.1 1184.4,782.3 1184.1,780.5 1183.8,778.8 1183.4,777 1182.9,775.2 1182.5,773.4 1182,771.7 1181.6,769.9 1181.3,768.1 1181,766.3 1180.9,764.6 1180.9,762.8 1181,761 1181.2,759.3 1181.6,757.5 1182.1,755.7 1182.7,753.9 1183.4,752.2 1184.1,750.4 1184.8,748.6 1185.5,746.9 1186.2,745.1 1186.8,743.3 1187.3,741.5 1187.8,739.8 1188.2,738 1188.5,736.2 1188.7,734.5 1188.9,732.7 1189,730.9 1189.1,729.1 1189.3,727.4 1189.4,725.6" fill="none" stroke="#4a0828" stroke-width="1.4" stroke-linejoin="round"/>
<line x1="1181.2" y1="759.4" x2="1204.5" y2="759.4" stroke="#4a0828" stroke-width="1.4"/>
<line x1="1184.2" y1="780.6" x2="1201.6" y2="780.6" stroke="#4a0828" stroke-width="1.4"/>
<line x1="1182.7" y1="809.1" x2="1203" y2="809.1" stroke="#4a0828" stroke-width="1.4"/>
<text transform="translate(1280 655.4) scale(1 1.05)" font-size="37" font-weight="bold" fill="#231815">f</text>
<rect x="1432.7" y="677.1" width="28.1" height="46.5" fill="#ff99cc"/>
<rect x="1460.2" y="677.1" width="28.1" height="46.5" fill="#ffcce6"/>
<rect x="1487.7" y="677.1" width="28.1" height="46.5" fill="#ccccff"/>
<rect x="1515.1" y="677.1" width="28.1" height="46.5" fill="#ccccff"/>
<rect x="1542.6" y="677.1" width="28.1" height="46.5" fill="#ccccff"/>
<rect x="1570.1" y="677.1" width="28.1" height="46.5" fill="#ff99cc"/>
<rect x="1597.6" y="677.1" width="28.1" height="46.5" fill="#ccccff"/>
<rect x="1625" y="677.1" width="28.1" height="46.5" fill="#ccccff"/>
<rect x="1652.5" y="677.1" width="28.1" height="46.5" fill="#ffcce6"/>
<rect x="1680" y="677.1" width="28.1" height="46.5" fill="#ffcce6"/>
<rect x="1707.5" y="677.1" width="28.1" height="46.5" fill="#ffcce6"/>
<rect x="1734.9" y="677.1" width="28.1" height="46.5" fill="#ff99cc"/>
<rect x="1432.7" y="723" width="28.1" height="46.5" fill="#ffcce6"/>
<rect x="1460.2" y="723" width="28.1" height="46.5" fill="#ffcce6"/>
<rect x="1487.7" y="723" width="28.1" height="46.5" fill="#6666ff"/>
<rect x="1515.1" y="723" width="28.1" height="46.5" fill="#ccccff"/>
<rect x="1542.6" y="723" width="28.1" height="46.5" fill="#ccccff"/>
<rect x="1570.1" y="723" width="28.1" height="46.5" fill="#ffcce6"/>
<rect x="1597.6" y="723" width="28.1" height="46.5" fill="#6666ff"/>
<rect x="1625" y="723" width="28.1" height="46.5" fill="#6666ff"/>
<rect x="1652.5" y="723" width="28.1" height="46.5" fill="#ffcce6"/>
<rect x="1680" y="723" width="28.1" height="46.5" fill="#ccccff"/>
<rect x="1707.5" y="723" width="28.1" height="46.5" fill="#ccccff"/>
<rect x="1734.9" y="723" width="28.1" height="46.5" fill="#ffcce6"/>
<rect x="1432.7" y="768.9" width="28.1" height="46.5" fill="#ffcce6"/>
<rect x="1460.2" y="768.9" width="28.1" height="46.5" fill="#ccccff"/>
<rect x="1487.7" y="768.9" width="28.1" height="46.5" fill="#ff99cc"/>
<rect x="1515.1" y="768.9" width="28.1" height="46.5" fill="#ff99cc"/>
<rect x="1542.6" y="768.9" width="28.1" height="46.5" fill="#ccccff"/>
<rect x="1570.1" y="768.9" width="28.1" height="46.5" fill="#ff99cc"/>
<rect x="1597.6" y="768.9" width="28.1" height="46.5" fill="#ffcce6"/>
<rect x="1625" y="768.9" width="28.1" height="46.5" fill="#ffcce6"/>
<rect x="1652.5" y="768.9" width="28.1" height="46.5" fill="#ccccff"/>
<rect x="1680" y="768.9" width="28.1" height="46.5" fill="#ccccff"/>
<rect x="1707.5" y="768.9" width="28.1" height="46.5" fill="#ffcce6"/>
<rect x="1734.9" y="768.9" width="28.1" height="46.5" fill="#ff99cc"/>
<rect x="1432.7" y="814.7" width="28.1" height="46.5" fill="#ccccff"/>
<rect x="1460.2" y="814.7" width="28.1" height="46.5" fill="#ccccff"/>
<rect x="1487.7" y="814.7" width="28.1" height="46.5" fill="#ffcce6"/>
<rect x="1515.1" y="814.7" width="28.1" height="46.5" fill="#ffcce6"/>
<rect x="1542.6" y="814.7" width="28.1" height="46.5" fill="#6666ff"/>
<rect x="1570.1" y="814.7" width="28.1" height="46.5" fill="#ffcce6"/>
<rect x="1597.6" y="814.7" width="28.1" height="46.5" fill="#ccccff"/>
<rect x="1625" y="814.7" width="28.1" height="46.5" fill="#ccccff"/>
<rect x="1652.5" y="814.7" width="28.1" height="46.5" fill="#ccccff"/>
<rect x="1680" y="814.7" width="28.1" height="46.5" fill="#ccccff"/>
<rect x="1707.5" y="814.7" width="28.1" height="46.5" fill="#ccccff"/>
<rect x="1734.9" y="814.7" width="28.1" height="46.5" fill="#ccccff"/>
<rect x="1432.7" y="860.6" width="28.1" height="46.5" fill="#6666ff"/>
<rect x="1460.2" y="860.6" width="28.1" height="46.5" fill="#ccccff"/>
<rect x="1487.7" y="860.6" width="28.1" height="46.5" fill="#6666ff"/>
<rect x="1515.1" y="860.6" width="28.1" height="46.5" fill="#ccccff"/>
<rect x="1542.6" y="860.6" width="28.1" height="46.5" fill="#ffcce6"/>
<rect x="1570.1" y="860.6" width="28.1" height="46.5" fill="#ccccff"/>
<rect x="1597.6" y="860.6" width="28.1" height="46.5" fill="#6666ff"/>
<rect x="1625" y="860.6" width="28.1" height="46.5" fill="#6666ff"/>
<rect x="1652.5" y="860.6" width="28.1" height="46.5" fill="#6666ff"/>
<rect x="1680" y="860.6" width="28.1" height="46.5" fill="#0000ff"/>
<rect x="1707.5" y="860.6" width="28.1" height="46.5" fill="#6666ff"/>
<rect x="1734.9" y="860.6" width="28.1" height="46.5" fill="#ccccff"/>
<rect x="1432.7" y="677.1" width="329.7" height="229.4" fill="none" stroke="#000" stroke-width="2"/>
<text transform="translate(1426.9 669.3) scale(1 1.07)" font-size="22" font-weight="bold" text-anchor="end">serum</text>
<text transform="translate(1429 709)" font-size="22.8" text-anchor="end">D614G</text>
<text transform="translate(1429 754)" font-size="22.8" text-anchor="end">Alpha</text>
<text transform="translate(1429 798.3)" font-size="22.8" text-anchor="end">Beta</text>
<text transform="translate(1429 843.1)" font-size="22.8" text-anchor="end">Gamma</text>
<text transform="translate(1429 887.9)" font-size="22.8" text-anchor="end">Delta</text>
<text transform="translate(1454.3 915) rotate(-90) scale(1 1.04)" font-size="22" text-anchor="end">D614G</text>
<text transform="translate(1481.8 915) rotate(-90) scale(1 1.04)" font-size="22" text-anchor="end">B.1.1.7 (Alpha)</text>
<text transform="translate(1509.3 915) rotate(-90) scale(1 1.04)" font-size="22" text-anchor="end">B.1.351 (Beta)</text>
<text transform="translate(1536.8 915) rotate(-90) scale(1 1.04)" font-size="22" text-anchor="end">P.1 (Gamma)</text>
<text transform="translate(1564.2 915) rotate(-90) scale(1 1.04)" font-size="22" text-anchor="end">B.1.617.2 (Delta)</text>
<text transform="translate(1591.7 915) rotate(-90) scale(1 1.04)" font-size="22" text-anchor="end">B.1.429 (Epsilon)</text>
<text transform="translate(1619.2 915) rotate(-90) scale(1 1.04)" font-size="22" text-anchor="end">P.2 (Zeta)</text>
<text transform="translate(1646.7 915) rotate(-90) scale(1 1.04)" font-size="22" text-anchor="end">B.1.525 (Eta)</text>
<text transform="translate(1674.1 915) rotate(-90) scale(1 1.04)" font-size="22" text-anchor="end">B.1.526 (S477N) (Lota)</text>
<text transform="translate(1701.6 915) rotate(-90) scale(1 1.04)" font-size="22" text-anchor="end">B.1.526 (E484K) (Lota)</text>
<text transform="translate(1729.1 915) rotate(-90) scale(1 1.04)" font-size="22" text-anchor="end">B.1.617.1 (Kappa)</text>
<text transform="translate(1756.6 915) rotate(-90) scale(1 1.04)" font-size="22" text-anchor="end">C.37 (Lamda)</text>
<text x="1795" y="700" font-size="22.5" font-weight="bold">ED<tspan font-size="13.5" dy="8">50</tspan></text>
<rect x="1797.6" y="714.4" width="28.1" height="28.3" fill="#ff0080"/>
<rect x="1797.6" y="742.2" width="28.1" height="28.3" fill="#ff99cc"/>
<rect x="1797.6" y="770" width="28.1" height="28.3" fill="#ffcce6"/>
<rect x="1797.6" y="797.8" width="28.1" height="28.3" fill="#ccccff"/>
<rect x="1797.6" y="825.5" width="28.1" height="28.3" fill="#6666ff"/>
<rect x="1797.6" y="853.3" width="28.1" height="28.3" fill="#0000ff"/>
<rect x="1797.6" y="714.4" width="28.1" height="166.7" fill="none" stroke="#000" stroke-width="2"/>
<text transform="translate(1832.5 739.8) scale(1 1.03)" font-size="22">10240</text>
<text transform="translate(1832.5 769.1) scale(1 1.03)" font-size="22">5120</text>
<text transform="translate(1832.5 798.4) scale(1 1.03)" font-size="22">2560</text>
<text transform="translate(1832.5 827.7) scale(1 1.03)" font-size="22">1280</text>
<text transform="translate(1832.5 857) scale(1 1.03)" font-size="22">640</text>
<text transform="translate(1832.5 886.3) scale(1 1.03)" font-size="22">320</text>
<text transform="translate(86 1267) scale(1 1.05)" font-size="37" font-weight="bold" fill="#231815">g</text>
<text transform="translate(340.5 1274.3) scale(1 1.07)" font-size="22.5" font-weight="bold" text-anchor="middle">Sum of all the variants</text>
<line x1="194.9" y1="1310.2" x2="194.9" y2="1571.8" stroke="#000" stroke-width="2"/>
<line x1="193.9" y1="1570.8" x2="487" y2="1570.8" stroke="#000" stroke-width="2"/>
<line x1="187.4" y1="1570.8" x2="194.9" y2="1570.8" stroke="#000" stroke-width="2"/>
<text transform="translate(187 1577.6) scale(1 1.05)" font-size="22.2" text-anchor="end">0</text>
<line x1="187.4" y1="1505.9" x2="194.9" y2="1505.9" stroke="#000" stroke-width="2"/>
<text transform="translate(187 1512.7) scale(1 1.05)" font-size="22.2" text-anchor="end">2000</text>
<line x1="187.4" y1="1441" x2="194.9" y2="1441" stroke="#000" stroke-width="2"/>
<text transform="translate(187 1447.8) scale(1 1.05)" font-size="22.2" text-anchor="end">4000</text>
<line x1="187.4" y1="1376.1" x2="194.9" y2="1376.1" stroke="#000" stroke-width="2"/>
<text transform="translate(187 1382.9) scale(1 1.05)" font-size="22.2" text-anchor="end">6000</text>
<line x1="187.4" y1="1311.2" x2="194.9" y2="1311.2" stroke="#000" stroke-width="2"/>
<text transform="translate(187 1318) scale(1 1.05)" font-size="22.2" text-anchor="end">8000</text>
<line x1="224" y1="1570.8" x2="224" y2="1578.6" stroke="#000" stroke-width="2"/>
<line x1="282.1" y1="1570.8" x2="282.1" y2="1578.6" stroke="#000" stroke-width="2"/>
<line x1="340.2" y1="1570.8" x2="340.2" y2="1578.6" stroke="#000" stroke-width="2"/>
<line x1="398.3" y1="1570.8" x2="398.3" y2="1578.6" stroke="#000" stroke-width="2"/>
<line x1="456.4" y1="1570.8" x2="456.4" y2="1578.6" stroke="#000" stroke-width="2"/>
<text transform="translate(230.8 1582.5) rotate(-90) scale(1 1.0)" font-size="23" text-anchor="end">D614G</text>
<text transform="translate(288.9 1582.5) rotate(-90) scale(1 1.0)" font-size="23" text-anchor="end">Alpha</text>
<text transform="translate(347 1582.5) rotate(-90) scale(1 1.0)" font-size="23" text-anchor="end">Beta</text>
<text transform="translate(405.1 1582.5) rotate(-90) scale(1 1.0)" font-size="23" text-anchor="end">Gamma</text>
<text transform="translate(463.2 1582.5) rotate(-90) scale(1 1.0)" font-size="23" text-anchor="end">Delta</text>
<text transform="translate(108.7 1460.4) rotate(-90) scale(1 1.05)" font-size="22.5" font-weight="bold">ED<tspan font-size="13.2" dy="6.9">50</tspan></text>
<circle cx="224" cy="1349.8" r="4.8" fill="#a85838"/>
<circle cx="224" cy="1374.5" r="4.8" fill="#a85838"/>
<circle cx="224" cy="1394.5" r="4.8" fill="#a85838"/>
<circle cx="224" cy="1407.6" r="4.8" fill="#a85838"/>
<circle cx="224" cy="1432.6" r="4.8" fill="#a85838"/>
<circle cx="211" cy="1490.3" r="4.8" fill="#a85838"/>
<circle cx="224" cy="1483.1" r="4.8" fill="#a85838"/>
<circle cx="237" cy="1481.2" r="4.8" fill="#a85838"/>
<circle cx="211" cy="1503.4" r="4.8" fill="#a85838"/>
<circle cx="224" cy="1503.4" r="4.8" fill="#a85838"/>
<circle cx="237" cy="1503.4" r="4.8" fill="#a85838"/>
<circle cx="224" cy="1516.4" r="4.8" fill="#a85838"/>
<circle cx="273" cy="1462.5" r="4.8" fill="#a03860"/>
<circle cx="282.1" cy="1471.6" r="4.8" fill="#a03860"/>
<circle cx="291.7" cy="1469" r="4.8" fill="#a03860"/>
<circle cx="278.2" cy="1484.6" r="4.8" fill="#a03860"/>
<circle cx="286.5" cy="1484.6" r="4.8" fill="#a03860"/>
<circle cx="292.2" cy="1517.7" r="4.8" fill="#a03860"/>
<circle cx="273" cy="1524.2" r="4.8" fill="#a03860"/>
<circle cx="282.1" cy="1522.9" r="4.8" fill="#a03860"/>
<circle cx="267.8" cy="1527.6" r="4.8" fill="#a03860"/>
<circle cx="277.4" cy="1532.5" r="4.8" fill="#a03860"/>
<circle cx="287.3" cy="1535.1" r="4.8" fill="#a03860"/>
<circle cx="296.4" cy="1537.7" r="4.8" fill="#a03860"/>
<circle cx="340.4" cy="1341.4" r="4.8" fill="#5a8228"/>
<circle cx="327.6" cy="1383.6" r="4.8" fill="#5a8228"/>
<circle cx="340.4" cy="1388" r="4.8" fill="#5a8228"/>
<circle cx="353.4" cy="1377.9" r="4.8" fill="#5a8228"/>
<circle cx="340.4" cy="1444.8" r="4.8" fill="#5a8228"/>
<circle cx="334.1" cy="1476" r="4.8" fill="#5a8228"/>
<circle cx="346.9" cy="1472.6" r="4.8" fill="#5a8228"/>
<circle cx="334.1" cy="1486.4" r="4.8" fill="#5a8228"/>
<circle cx="346.9" cy="1492.4" r="4.8" fill="#5a8228"/>
<circle cx="327.6" cy="1502.8" r="4.8" fill="#5a8228"/>
<circle cx="340.4" cy="1510.7" r="4.8" fill="#5a8228"/>
<circle cx="353.4" cy="1513.8" r="4.8" fill="#5a8228"/>
<circle cx="395.3" cy="1440.9" r="4.8" fill="#2a8a68"/>
<circle cx="402.4" cy="1444.8" r="4.8" fill="#2a8a68"/>
<circle cx="398.5" cy="1474.2" r="4.8" fill="#2a8a68"/>
<circle cx="383.6" cy="1499.5" r="4.8" fill="#2a8a68"/>
<circle cx="390.1" cy="1506" r="4.8" fill="#2a8a68"/>
<circle cx="395.9" cy="1493" r="4.8" fill="#2a8a68"/>
<circle cx="402.4" cy="1495.6" r="4.8" fill="#2a8a68"/>
<circle cx="408.9" cy="1498.2" r="4.8" fill="#2a8a68"/>
<circle cx="414.1" cy="1496.9" r="4.8" fill="#2a8a68"/>
<circle cx="393.2" cy="1512.5" r="4.8" fill="#2a8a68"/>
<circle cx="405" cy="1512.5" r="4.8" fill="#2a8a68"/>
<circle cx="398.5" cy="1535.1" r="4.8" fill="#2a8a68"/>
<circle cx="452.6" cy="1522.9" r="4.8" fill="#3a68a8"/>
<circle cx="460.9" cy="1523.7" r="4.8" fill="#3a68a8"/>
<circle cx="457" cy="1540.6" r="4.8" fill="#3a68a8"/>
<circle cx="449.2" cy="1547.6" r="4.8" fill="#3a68a8"/>
<circle cx="463.5" cy="1548.1" r="4.8" fill="#3a68a8"/>
<circle cx="441.4" cy="1555.4" r="4.8" fill="#3a68a8"/>
<circle cx="450.5" cy="1556.7" r="4.8" fill="#3a68a8"/>
<circle cx="457" cy="1559.3" r="4.8" fill="#3a68a8"/>
<circle cx="464.8" cy="1564.5" r="4.8" fill="#3a68a8"/>
<circle cx="471.4" cy="1565.3" r="4.8" fill="#3a68a8"/>
<circle cx="457" cy="1552.3" r="4.8" fill="#3a68a8"/>
<circle cx="442.7" cy="1556.7" r="4.8" fill="#3a68a8"/>
<line x1="204.7" y1="1453.4" x2="243.3" y2="1453.4" stroke="#6a0a00" stroke-width="2"/>
<line x1="224" y1="1437" x2="224" y2="1469.5" stroke="#6a0a00" stroke-width="2"/>
<line x1="214.9" y1="1437" x2="233.1" y2="1437" stroke="#6a0a00" stroke-width="2"/>
<line x1="214.9" y1="1469.5" x2="233.1" y2="1469.5" stroke="#6a0a00" stroke-width="2"/>
<line x1="262.8" y1="1506" x2="301.4" y2="1506" stroke="#4a0a2a" stroke-width="2"/>
<line x1="282.1" y1="1497.6" x2="282.1" y2="1514.3" stroke="#4a0a2a" stroke-width="2"/>
<line x1="273.2" y1="1497.6" x2="291" y2="1497.6" stroke="#4a0a2a" stroke-width="2"/>
<line x1="273.2" y1="1514.3" x2="291" y2="1514.3" stroke="#4a0a2a" stroke-width="2"/>
<line x1="320.9" y1="1449.2" x2="359.5" y2="1449.2" stroke="#1a3a08" stroke-width="2"/>
<line x1="340.2" y1="1431.8" x2="340.2" y2="1466.4" stroke="#1a3a08" stroke-width="2"/>
<line x1="331.1" y1="1431.8" x2="349.3" y2="1431.8" stroke="#1a3a08" stroke-width="2"/>
<line x1="331.1" y1="1466.4" x2="349.3" y2="1466.4" stroke="#1a3a08" stroke-width="2"/>
<line x1="378.8" y1="1492.4" x2="417.8" y2="1492.4" stroke="#0a3a28" stroke-width="2"/>
<line x1="398.3" y1="1484.6" x2="398.3" y2="1500.8" stroke="#0a3a28" stroke-width="2"/>
<line x1="389.2" y1="1484.6" x2="407.4" y2="1484.6" stroke="#0a3a28" stroke-width="2"/>
<line x1="389.2" y1="1500.8" x2="407.4" y2="1500.8" stroke="#0a3a28" stroke-width="2"/>
<line x1="437.1" y1="1548.4" x2="475.7" y2="1548.4" stroke="#0a2050" stroke-width="2"/>
<line x1="456.4" y1="1543.7" x2="456.4" y2="1554.1" stroke="#0a2050" stroke-width="2"/>
<line x1="447.3" y1="1543.7" x2="465.5" y2="1543.7" stroke="#0a2050" stroke-width="2"/>
<line x1="447.3" y1="1554.1" x2="465.5" y2="1554.1" stroke="#0a2050" stroke-width="2"/>
</svg></body></html>
